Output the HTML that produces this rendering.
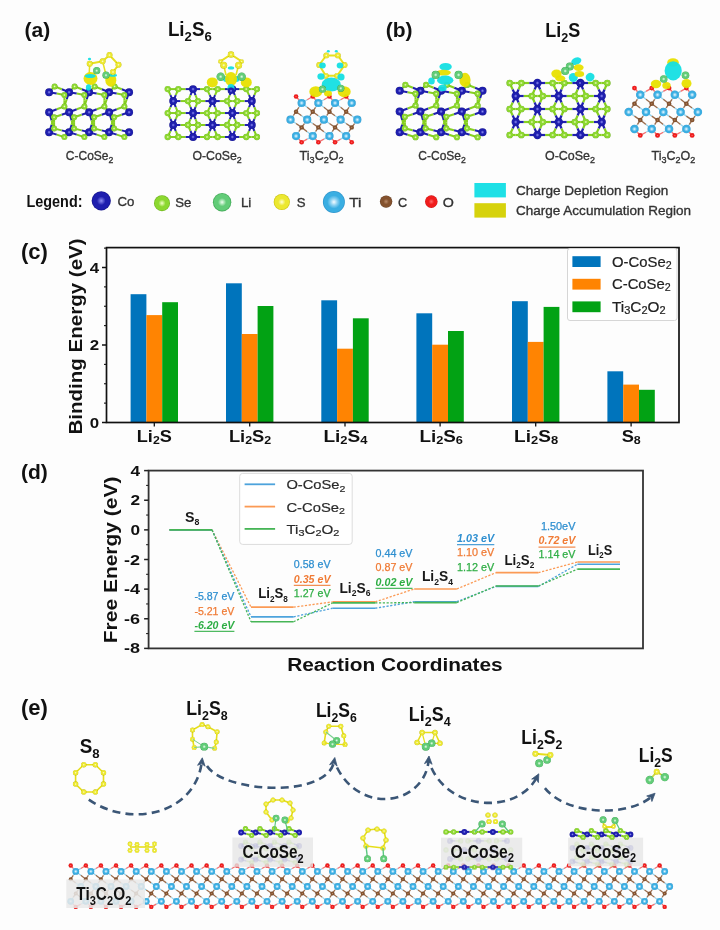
<!DOCTYPE html><html><head><meta charset="utf-8"><style>html,body{margin:0;padding:0;background:#fff;overflow:hidden}svg{display:block;filter:blur(0.4px)}</style></head><body>
<svg width="720" height="930" viewBox="0 0 720 930" font-family='"Liberation Sans", sans-serif'>
<rect width="720" height="930" fill="#fdfdfd"/>
<defs><radialGradient id="gCo" cx="0.5" cy="0.5" r="0.5"><stop offset="0" stop-color="#9090f4"/><stop offset="0.45" stop-color="#1e1eae"/><stop offset="0.85" stop-color="#1e1eae"/><stop offset="1" stop-color="#12128a"/></radialGradient><radialGradient id="gSe" cx="0.5" cy="0.5" r="0.5"><stop offset="0" stop-color="#f4ffc8"/><stop offset="0.45" stop-color="#8cd830"/><stop offset="0.85" stop-color="#8cd830"/><stop offset="1" stop-color="#66ac14"/></radialGradient><radialGradient id="gLi" cx="0.5" cy="0.5" r="0.5"><stop offset="0" stop-color="#f0fff2"/><stop offset="0.45" stop-color="#62cc78"/><stop offset="0.85" stop-color="#62cc78"/><stop offset="1" stop-color="#38a24e"/></radialGradient><radialGradient id="gS" cx="0.5" cy="0.5" r="0.5"><stop offset="0" stop-color="#ffffd8"/><stop offset="0.45" stop-color="#ece830"/><stop offset="0.85" stop-color="#ece830"/><stop offset="1" stop-color="#c4bc00"/></radialGradient><radialGradient id="gC" cx="0.5" cy="0.5" r="0.5"><stop offset="0" stop-color="#b88a68"/><stop offset="0.45" stop-color="#84522e"/><stop offset="0.85" stop-color="#84522e"/><stop offset="1" stop-color="#5a3418"/></radialGradient><radialGradient id="gO" cx="0.5" cy="0.5" r="0.5"><stop offset="0" stop-color="#ff6a6a"/><stop offset="0.45" stop-color="#f01c1c"/><stop offset="0.85" stop-color="#f01c1c"/><stop offset="1" stop-color="#c81010"/></radialGradient><radialGradient id="gTi" cx="0.5" cy="0.5" r="0.5"><stop offset="0" stop-color="#f6fcff"/><stop offset="0.3" stop-color="#8ed2f2"/><stop offset="0.6" stop-color="#3aaee2"/><stop offset="0.88" stop-color="#3aaee2"/><stop offset="1" stop-color="#2a90c8"/></radialGradient><radialGradient id="gLg" cx="0.5" cy="0.5" r="0.55"><stop offset="0" stop-color="#ffffff"/><stop offset="1" stop-color="#ffffff" stop-opacity="0"/></radialGradient></defs>
<text x="24.6" y="37.0" font-size="21" font-weight="bold" fill="#111">(a)</text>
<text x="167.90" y="35.70" font-size="19.5" font-weight="bold" fill="#111" text-anchor="start" textLength="43.80" lengthAdjust="spacingAndGlyphs" >Li<tspan font-size="13.65" dy="5.27">2</tspan><tspan dy="-5.27">S</tspan><tspan font-size="13.65" dy="5.27">6</tspan></text>
<text x="385.8" y="37.0" font-size="21" font-weight="bold" fill="#111">(b)</text>
<text x="545.20" y="36.90" font-size="19.5" font-weight="bold" fill="#111" text-anchor="start" textLength="35.00" lengthAdjust="spacingAndGlyphs" >Li<tspan font-size="13.65" dy="5.27">2</tspan><tspan dy="-5.27">S</tspan></text>
<line x1="49.10" y1="92.20" x2="51.85" y2="89.30" stroke="#2020b0" stroke-width="2.0"/><line x1="51.85" y1="89.30" x2="54.60" y2="86.40" stroke="#86d020" stroke-width="2.0"/><line x1="49.10" y1="92.20" x2="56.75" y2="93.60" stroke="#2020b0" stroke-width="2.0"/><line x1="56.75" y1="93.60" x2="64.40" y2="95.00" stroke="#86d020" stroke-width="2.0"/><line x1="69.10" y1="92.20" x2="61.85" y2="89.30" stroke="#2020b0" stroke-width="2.0"/><line x1="61.85" y1="89.30" x2="54.60" y2="86.40" stroke="#86d020" stroke-width="2.0"/><line x1="69.10" y1="92.20" x2="66.75" y2="93.60" stroke="#2020b0" stroke-width="2.0"/><line x1="66.75" y1="93.60" x2="64.40" y2="95.00" stroke="#86d020" stroke-width="2.0"/><line x1="69.10" y1="92.20" x2="66.75" y2="99.30" stroke="#2020b0" stroke-width="2.0"/><line x1="66.75" y1="99.30" x2="64.40" y2="106.40" stroke="#86d020" stroke-width="2.0"/><line x1="69.10" y1="92.20" x2="71.85" y2="89.30" stroke="#2020b0" stroke-width="2.0"/><line x1="71.85" y1="89.30" x2="74.60" y2="86.40" stroke="#86d020" stroke-width="2.0"/><line x1="69.10" y1="92.20" x2="76.75" y2="93.60" stroke="#2020b0" stroke-width="2.0"/><line x1="76.75" y1="93.60" x2="84.40" y2="95.00" stroke="#86d020" stroke-width="2.0"/><line x1="89.10" y1="92.20" x2="81.85" y2="89.30" stroke="#2020b0" stroke-width="2.0"/><line x1="81.85" y1="89.30" x2="74.60" y2="86.40" stroke="#86d020" stroke-width="2.0"/><line x1="89.10" y1="92.20" x2="86.75" y2="93.60" stroke="#2020b0" stroke-width="2.0"/><line x1="86.75" y1="93.60" x2="84.40" y2="95.00" stroke="#86d020" stroke-width="2.0"/><line x1="89.10" y1="92.20" x2="86.75" y2="99.30" stroke="#2020b0" stroke-width="2.0"/><line x1="86.75" y1="99.30" x2="84.40" y2="106.40" stroke="#86d020" stroke-width="2.0"/><line x1="89.10" y1="92.20" x2="91.85" y2="89.30" stroke="#2020b0" stroke-width="2.0"/><line x1="91.85" y1="89.30" x2="94.60" y2="86.40" stroke="#86d020" stroke-width="2.0"/><line x1="89.10" y1="92.20" x2="96.75" y2="93.60" stroke="#2020b0" stroke-width="2.0"/><line x1="96.75" y1="93.60" x2="104.40" y2="95.00" stroke="#86d020" stroke-width="2.0"/><line x1="109.10" y1="92.20" x2="101.85" y2="89.30" stroke="#2020b0" stroke-width="2.0"/><line x1="101.85" y1="89.30" x2="94.60" y2="86.40" stroke="#86d020" stroke-width="2.0"/><line x1="109.10" y1="92.20" x2="106.75" y2="93.60" stroke="#2020b0" stroke-width="2.0"/><line x1="106.75" y1="93.60" x2="104.40" y2="95.00" stroke="#86d020" stroke-width="2.0"/><line x1="109.10" y1="92.20" x2="106.75" y2="99.30" stroke="#2020b0" stroke-width="2.0"/><line x1="106.75" y1="99.30" x2="104.40" y2="106.40" stroke="#86d020" stroke-width="2.0"/><line x1="109.10" y1="92.20" x2="111.85" y2="89.30" stroke="#2020b0" stroke-width="2.0"/><line x1="111.85" y1="89.30" x2="114.60" y2="86.40" stroke="#86d020" stroke-width="2.0"/><line x1="109.10" y1="92.20" x2="116.75" y2="93.60" stroke="#2020b0" stroke-width="2.0"/><line x1="116.75" y1="93.60" x2="124.40" y2="95.00" stroke="#86d020" stroke-width="2.0"/><line x1="129.10" y1="92.20" x2="121.85" y2="89.30" stroke="#2020b0" stroke-width="2.0"/><line x1="121.85" y1="89.30" x2="114.60" y2="86.40" stroke="#86d020" stroke-width="2.0"/><line x1="129.10" y1="92.20" x2="126.75" y2="93.60" stroke="#2020b0" stroke-width="2.0"/><line x1="126.75" y1="93.60" x2="124.40" y2="95.00" stroke="#86d020" stroke-width="2.0"/><line x1="129.10" y1="92.20" x2="126.75" y2="99.30" stroke="#2020b0" stroke-width="2.0"/><line x1="126.75" y1="99.30" x2="124.40" y2="106.40" stroke="#86d020" stroke-width="2.0"/><line x1="49.10" y1="112.20" x2="56.75" y2="109.30" stroke="#2020b0" stroke-width="2.0"/><line x1="56.75" y1="109.30" x2="64.40" y2="106.40" stroke="#86d020" stroke-width="2.0"/><line x1="49.10" y1="112.20" x2="51.60" y2="114.75" stroke="#2020b0" stroke-width="2.0"/><line x1="51.60" y1="114.75" x2="54.10" y2="117.30" stroke="#86d020" stroke-width="2.0"/><line x1="49.10" y1="112.20" x2="51.60" y2="120.35" stroke="#2020b0" stroke-width="2.0"/><line x1="51.60" y1="120.35" x2="54.10" y2="128.50" stroke="#86d020" stroke-width="2.0"/><line x1="69.10" y1="112.20" x2="66.75" y2="109.30" stroke="#2020b0" stroke-width="2.0"/><line x1="66.75" y1="109.30" x2="64.40" y2="106.40" stroke="#86d020" stroke-width="2.0"/><line x1="69.10" y1="112.20" x2="61.60" y2="114.75" stroke="#2020b0" stroke-width="2.0"/><line x1="61.60" y1="114.75" x2="54.10" y2="117.30" stroke="#86d020" stroke-width="2.0"/><line x1="69.10" y1="112.20" x2="76.75" y2="109.30" stroke="#2020b0" stroke-width="2.0"/><line x1="76.75" y1="109.30" x2="84.40" y2="106.40" stroke="#86d020" stroke-width="2.0"/><line x1="69.10" y1="112.20" x2="71.60" y2="114.75" stroke="#2020b0" stroke-width="2.0"/><line x1="71.60" y1="114.75" x2="74.10" y2="117.30" stroke="#86d020" stroke-width="2.0"/><line x1="69.10" y1="112.20" x2="71.60" y2="120.35" stroke="#2020b0" stroke-width="2.0"/><line x1="71.60" y1="120.35" x2="74.10" y2="128.50" stroke="#86d020" stroke-width="2.0"/><line x1="89.10" y1="112.20" x2="86.75" y2="109.30" stroke="#2020b0" stroke-width="2.0"/><line x1="86.75" y1="109.30" x2="84.40" y2="106.40" stroke="#86d020" stroke-width="2.0"/><line x1="89.10" y1="112.20" x2="81.60" y2="114.75" stroke="#2020b0" stroke-width="2.0"/><line x1="81.60" y1="114.75" x2="74.10" y2="117.30" stroke="#86d020" stroke-width="2.0"/><line x1="89.10" y1="112.20" x2="96.75" y2="109.30" stroke="#2020b0" stroke-width="2.0"/><line x1="96.75" y1="109.30" x2="104.40" y2="106.40" stroke="#86d020" stroke-width="2.0"/><line x1="89.10" y1="112.20" x2="91.60" y2="114.75" stroke="#2020b0" stroke-width="2.0"/><line x1="91.60" y1="114.75" x2="94.10" y2="117.30" stroke="#86d020" stroke-width="2.0"/><line x1="89.10" y1="112.20" x2="91.60" y2="120.35" stroke="#2020b0" stroke-width="2.0"/><line x1="91.60" y1="120.35" x2="94.10" y2="128.50" stroke="#86d020" stroke-width="2.0"/><line x1="109.10" y1="112.20" x2="106.75" y2="109.30" stroke="#2020b0" stroke-width="2.0"/><line x1="106.75" y1="109.30" x2="104.40" y2="106.40" stroke="#86d020" stroke-width="2.0"/><line x1="109.10" y1="112.20" x2="101.60" y2="114.75" stroke="#2020b0" stroke-width="2.0"/><line x1="101.60" y1="114.75" x2="94.10" y2="117.30" stroke="#86d020" stroke-width="2.0"/><line x1="109.10" y1="112.20" x2="116.75" y2="109.30" stroke="#2020b0" stroke-width="2.0"/><line x1="116.75" y1="109.30" x2="124.40" y2="106.40" stroke="#86d020" stroke-width="2.0"/><line x1="109.10" y1="112.20" x2="111.60" y2="114.75" stroke="#2020b0" stroke-width="2.0"/><line x1="111.60" y1="114.75" x2="114.10" y2="117.30" stroke="#86d020" stroke-width="2.0"/><line x1="109.10" y1="112.20" x2="111.60" y2="120.35" stroke="#2020b0" stroke-width="2.0"/><line x1="111.60" y1="120.35" x2="114.10" y2="128.50" stroke="#86d020" stroke-width="2.0"/><line x1="129.10" y1="112.20" x2="126.75" y2="109.30" stroke="#2020b0" stroke-width="2.0"/><line x1="126.75" y1="109.30" x2="124.40" y2="106.40" stroke="#86d020" stroke-width="2.0"/><line x1="129.10" y1="112.20" x2="121.60" y2="114.75" stroke="#2020b0" stroke-width="2.0"/><line x1="121.60" y1="114.75" x2="114.10" y2="117.30" stroke="#86d020" stroke-width="2.0"/><line x1="49.10" y1="132.20" x2="51.60" y2="124.75" stroke="#2020b0" stroke-width="2.0"/><line x1="51.60" y1="124.75" x2="54.10" y2="117.30" stroke="#86d020" stroke-width="2.0"/><line x1="49.10" y1="132.20" x2="51.60" y2="130.35" stroke="#2020b0" stroke-width="2.0"/><line x1="51.60" y1="130.35" x2="54.10" y2="128.50" stroke="#86d020" stroke-width="2.0"/><line x1="49.10" y1="132.20" x2="56.75" y2="134.65" stroke="#2020b0" stroke-width="2.0"/><line x1="56.75" y1="134.65" x2="64.40" y2="137.10" stroke="#86d020" stroke-width="2.0"/><line x1="69.10" y1="132.20" x2="61.60" y2="130.35" stroke="#2020b0" stroke-width="2.0"/><line x1="61.60" y1="130.35" x2="54.10" y2="128.50" stroke="#86d020" stroke-width="2.0"/><line x1="69.10" y1="132.20" x2="66.75" y2="134.65" stroke="#2020b0" stroke-width="2.0"/><line x1="66.75" y1="134.65" x2="64.40" y2="137.10" stroke="#86d020" stroke-width="2.0"/><line x1="69.10" y1="132.20" x2="71.60" y2="124.75" stroke="#2020b0" stroke-width="2.0"/><line x1="71.60" y1="124.75" x2="74.10" y2="117.30" stroke="#86d020" stroke-width="2.0"/><line x1="69.10" y1="132.20" x2="71.60" y2="130.35" stroke="#2020b0" stroke-width="2.0"/><line x1="71.60" y1="130.35" x2="74.10" y2="128.50" stroke="#86d020" stroke-width="2.0"/><line x1="69.10" y1="132.20" x2="76.75" y2="134.65" stroke="#2020b0" stroke-width="2.0"/><line x1="76.75" y1="134.65" x2="84.40" y2="137.10" stroke="#86d020" stroke-width="2.0"/><line x1="89.10" y1="132.20" x2="81.60" y2="130.35" stroke="#2020b0" stroke-width="2.0"/><line x1="81.60" y1="130.35" x2="74.10" y2="128.50" stroke="#86d020" stroke-width="2.0"/><line x1="89.10" y1="132.20" x2="86.75" y2="134.65" stroke="#2020b0" stroke-width="2.0"/><line x1="86.75" y1="134.65" x2="84.40" y2="137.10" stroke="#86d020" stroke-width="2.0"/><line x1="89.10" y1="132.20" x2="91.60" y2="124.75" stroke="#2020b0" stroke-width="2.0"/><line x1="91.60" y1="124.75" x2="94.10" y2="117.30" stroke="#86d020" stroke-width="2.0"/><line x1="89.10" y1="132.20" x2="91.60" y2="130.35" stroke="#2020b0" stroke-width="2.0"/><line x1="91.60" y1="130.35" x2="94.10" y2="128.50" stroke="#86d020" stroke-width="2.0"/><line x1="89.10" y1="132.20" x2="96.75" y2="134.65" stroke="#2020b0" stroke-width="2.0"/><line x1="96.75" y1="134.65" x2="104.40" y2="137.10" stroke="#86d020" stroke-width="2.0"/><line x1="109.10" y1="132.20" x2="101.60" y2="130.35" stroke="#2020b0" stroke-width="2.0"/><line x1="101.60" y1="130.35" x2="94.10" y2="128.50" stroke="#86d020" stroke-width="2.0"/><line x1="109.10" y1="132.20" x2="106.75" y2="134.65" stroke="#2020b0" stroke-width="2.0"/><line x1="106.75" y1="134.65" x2="104.40" y2="137.10" stroke="#86d020" stroke-width="2.0"/><line x1="109.10" y1="132.20" x2="111.60" y2="124.75" stroke="#2020b0" stroke-width="2.0"/><line x1="111.60" y1="124.75" x2="114.10" y2="117.30" stroke="#86d020" stroke-width="2.0"/><line x1="109.10" y1="132.20" x2="111.60" y2="130.35" stroke="#2020b0" stroke-width="2.0"/><line x1="111.60" y1="130.35" x2="114.10" y2="128.50" stroke="#86d020" stroke-width="2.0"/><line x1="109.10" y1="132.20" x2="116.75" y2="134.65" stroke="#2020b0" stroke-width="2.0"/><line x1="116.75" y1="134.65" x2="124.40" y2="137.10" stroke="#86d020" stroke-width="2.0"/><line x1="129.10" y1="132.20" x2="121.60" y2="130.35" stroke="#2020b0" stroke-width="2.0"/><line x1="121.60" y1="130.35" x2="114.10" y2="128.50" stroke="#86d020" stroke-width="2.0"/><line x1="129.10" y1="132.20" x2="126.75" y2="134.65" stroke="#2020b0" stroke-width="2.0"/><line x1="126.75" y1="134.65" x2="124.40" y2="137.10" stroke="#86d020" stroke-width="2.0"/><line x1="64.40" y1="95.00" x2="64.40" y2="100.70" stroke="#86d020" stroke-width="2.0"/><line x1="64.40" y1="100.70" x2="64.40" y2="106.40" stroke="#86d020" stroke-width="2.0"/><line x1="54.10" y1="117.30" x2="54.10" y2="122.90" stroke="#86d020" stroke-width="2.0"/><line x1="54.10" y1="122.90" x2="54.10" y2="128.50" stroke="#86d020" stroke-width="2.0"/><line x1="84.40" y1="95.00" x2="84.40" y2="100.70" stroke="#86d020" stroke-width="2.0"/><line x1="84.40" y1="100.70" x2="84.40" y2="106.40" stroke="#86d020" stroke-width="2.0"/><line x1="74.10" y1="117.30" x2="74.10" y2="122.90" stroke="#86d020" stroke-width="2.0"/><line x1="74.10" y1="122.90" x2="74.10" y2="128.50" stroke="#86d020" stroke-width="2.0"/><line x1="104.40" y1="95.00" x2="104.40" y2="100.70" stroke="#86d020" stroke-width="2.0"/><line x1="104.40" y1="100.70" x2="104.40" y2="106.40" stroke="#86d020" stroke-width="2.0"/><line x1="94.10" y1="117.30" x2="94.10" y2="122.90" stroke="#86d020" stroke-width="2.0"/><line x1="94.10" y1="122.90" x2="94.10" y2="128.50" stroke="#86d020" stroke-width="2.0"/><line x1="124.40" y1="95.00" x2="124.40" y2="100.70" stroke="#86d020" stroke-width="2.0"/><line x1="124.40" y1="100.70" x2="124.40" y2="106.40" stroke="#86d020" stroke-width="2.0"/><line x1="114.10" y1="117.30" x2="114.10" y2="122.90" stroke="#86d020" stroke-width="2.0"/><line x1="114.10" y1="122.90" x2="114.10" y2="128.50" stroke="#86d020" stroke-width="2.0"/><circle cx="49.10" cy="92.20" r="3.95" fill="url(#gCo)"/><circle cx="69.10" cy="92.20" r="3.95" fill="url(#gCo)"/><circle cx="89.10" cy="92.20" r="3.95" fill="url(#gCo)"/><circle cx="109.10" cy="92.20" r="3.95" fill="url(#gCo)"/><circle cx="129.10" cy="92.20" r="3.95" fill="url(#gCo)"/><circle cx="49.10" cy="112.20" r="3.95" fill="url(#gCo)"/><circle cx="69.10" cy="112.20" r="3.95" fill="url(#gCo)"/><circle cx="89.10" cy="112.20" r="3.95" fill="url(#gCo)"/><circle cx="109.10" cy="112.20" r="3.95" fill="url(#gCo)"/><circle cx="129.10" cy="112.20" r="3.95" fill="url(#gCo)"/><circle cx="49.10" cy="132.20" r="3.95" fill="url(#gCo)"/><circle cx="69.10" cy="132.20" r="3.95" fill="url(#gCo)"/><circle cx="89.10" cy="132.20" r="3.95" fill="url(#gCo)"/><circle cx="109.10" cy="132.20" r="3.95" fill="url(#gCo)"/><circle cx="129.10" cy="132.20" r="3.95" fill="url(#gCo)"/><circle cx="54.60" cy="86.40" r="3.00" fill="url(#gSe)"/><circle cx="64.40" cy="95.00" r="3.00" fill="url(#gSe)"/><circle cx="64.40" cy="106.40" r="3.00" fill="url(#gSe)"/><circle cx="54.10" cy="117.30" r="3.00" fill="url(#gSe)"/><circle cx="54.10" cy="128.50" r="3.00" fill="url(#gSe)"/><circle cx="64.40" cy="137.10" r="3.00" fill="url(#gSe)"/><circle cx="74.60" cy="86.40" r="3.00" fill="url(#gSe)"/><circle cx="84.40" cy="95.00" r="3.00" fill="url(#gSe)"/><circle cx="84.40" cy="106.40" r="3.00" fill="url(#gSe)"/><circle cx="74.10" cy="117.30" r="3.00" fill="url(#gSe)"/><circle cx="74.10" cy="128.50" r="3.00" fill="url(#gSe)"/><circle cx="84.40" cy="137.10" r="3.00" fill="url(#gSe)"/><circle cx="94.60" cy="86.40" r="3.00" fill="url(#gSe)"/><circle cx="104.40" cy="95.00" r="3.00" fill="url(#gSe)"/><circle cx="104.40" cy="106.40" r="3.00" fill="url(#gSe)"/><circle cx="94.10" cy="117.30" r="3.00" fill="url(#gSe)"/><circle cx="94.10" cy="128.50" r="3.00" fill="url(#gSe)"/><circle cx="104.40" cy="137.10" r="3.00" fill="url(#gSe)"/><circle cx="114.60" cy="86.40" r="3.00" fill="url(#gSe)"/><circle cx="124.40" cy="95.00" r="3.00" fill="url(#gSe)"/><circle cx="124.40" cy="106.40" r="3.00" fill="url(#gSe)"/><circle cx="114.10" cy="117.30" r="3.00" fill="url(#gSe)"/><circle cx="114.10" cy="128.50" r="3.00" fill="url(#gSe)"/><circle cx="124.40" cy="137.10" r="3.00" fill="url(#gSe)"/>
<line x1="399.70" y1="90.80" x2="402.55" y2="87.80" stroke="#2020b0" stroke-width="2.1"/><line x1="402.55" y1="87.80" x2="405.39" y2="84.80" stroke="#86d020" stroke-width="2.1"/><line x1="399.70" y1="90.80" x2="407.62" y2="92.25" stroke="#2020b0" stroke-width="2.1"/><line x1="407.62" y1="92.25" x2="415.54" y2="93.70" stroke="#86d020" stroke-width="2.1"/><line x1="420.40" y1="90.80" x2="412.90" y2="87.80" stroke="#2020b0" stroke-width="2.1"/><line x1="412.90" y1="87.80" x2="405.39" y2="84.80" stroke="#86d020" stroke-width="2.1"/><line x1="420.40" y1="90.80" x2="417.97" y2="92.25" stroke="#2020b0" stroke-width="2.1"/><line x1="417.97" y1="92.25" x2="415.54" y2="93.70" stroke="#86d020" stroke-width="2.1"/><line x1="420.40" y1="90.80" x2="417.97" y2="98.15" stroke="#2020b0" stroke-width="2.1"/><line x1="417.97" y1="98.15" x2="415.54" y2="105.50" stroke="#86d020" stroke-width="2.1"/><line x1="420.40" y1="90.80" x2="423.25" y2="87.80" stroke="#2020b0" stroke-width="2.1"/><line x1="423.25" y1="87.80" x2="426.09" y2="84.80" stroke="#86d020" stroke-width="2.1"/><line x1="420.40" y1="90.80" x2="428.32" y2="92.25" stroke="#2020b0" stroke-width="2.1"/><line x1="428.32" y1="92.25" x2="436.24" y2="93.70" stroke="#86d020" stroke-width="2.1"/><line x1="441.10" y1="90.80" x2="433.60" y2="87.80" stroke="#2020b0" stroke-width="2.1"/><line x1="433.60" y1="87.80" x2="426.09" y2="84.80" stroke="#86d020" stroke-width="2.1"/><line x1="441.10" y1="90.80" x2="438.67" y2="92.25" stroke="#2020b0" stroke-width="2.1"/><line x1="438.67" y1="92.25" x2="436.24" y2="93.70" stroke="#86d020" stroke-width="2.1"/><line x1="441.10" y1="90.80" x2="438.67" y2="98.15" stroke="#2020b0" stroke-width="2.1"/><line x1="438.67" y1="98.15" x2="436.24" y2="105.50" stroke="#86d020" stroke-width="2.1"/><line x1="441.10" y1="90.80" x2="443.95" y2="87.80" stroke="#2020b0" stroke-width="2.1"/><line x1="443.95" y1="87.80" x2="446.79" y2="84.80" stroke="#86d020" stroke-width="2.1"/><line x1="441.10" y1="90.80" x2="449.02" y2="92.25" stroke="#2020b0" stroke-width="2.1"/><line x1="449.02" y1="92.25" x2="456.94" y2="93.70" stroke="#86d020" stroke-width="2.1"/><line x1="461.80" y1="90.80" x2="454.30" y2="87.80" stroke="#2020b0" stroke-width="2.1"/><line x1="454.30" y1="87.80" x2="446.79" y2="84.80" stroke="#86d020" stroke-width="2.1"/><line x1="461.80" y1="90.80" x2="459.37" y2="92.25" stroke="#2020b0" stroke-width="2.1"/><line x1="459.37" y1="92.25" x2="456.94" y2="93.70" stroke="#86d020" stroke-width="2.1"/><line x1="461.80" y1="90.80" x2="459.37" y2="98.15" stroke="#2020b0" stroke-width="2.1"/><line x1="459.37" y1="98.15" x2="456.94" y2="105.50" stroke="#86d020" stroke-width="2.1"/><line x1="461.80" y1="90.80" x2="464.65" y2="87.80" stroke="#2020b0" stroke-width="2.1"/><line x1="464.65" y1="87.80" x2="467.49" y2="84.80" stroke="#86d020" stroke-width="2.1"/><line x1="461.80" y1="90.80" x2="469.72" y2="92.25" stroke="#2020b0" stroke-width="2.1"/><line x1="469.72" y1="92.25" x2="477.64" y2="93.70" stroke="#86d020" stroke-width="2.1"/><line x1="482.50" y1="90.80" x2="475.00" y2="87.80" stroke="#2020b0" stroke-width="2.1"/><line x1="475.00" y1="87.80" x2="467.49" y2="84.80" stroke="#86d020" stroke-width="2.1"/><line x1="482.50" y1="90.80" x2="480.07" y2="92.25" stroke="#2020b0" stroke-width="2.1"/><line x1="480.07" y1="92.25" x2="477.64" y2="93.70" stroke="#86d020" stroke-width="2.1"/><line x1="482.50" y1="90.80" x2="480.07" y2="98.15" stroke="#2020b0" stroke-width="2.1"/><line x1="480.07" y1="98.15" x2="477.64" y2="105.50" stroke="#86d020" stroke-width="2.1"/><line x1="399.70" y1="111.50" x2="407.62" y2="108.50" stroke="#2020b0" stroke-width="2.1"/><line x1="407.62" y1="108.50" x2="415.54" y2="105.50" stroke="#86d020" stroke-width="2.1"/><line x1="399.70" y1="111.50" x2="402.29" y2="114.14" stroke="#2020b0" stroke-width="2.1"/><line x1="402.29" y1="114.14" x2="404.88" y2="116.78" stroke="#86d020" stroke-width="2.1"/><line x1="399.70" y1="111.50" x2="402.29" y2="119.94" stroke="#2020b0" stroke-width="2.1"/><line x1="402.29" y1="119.94" x2="404.88" y2="128.37" stroke="#86d020" stroke-width="2.1"/><line x1="420.40" y1="111.50" x2="417.97" y2="108.50" stroke="#2020b0" stroke-width="2.1"/><line x1="417.97" y1="108.50" x2="415.54" y2="105.50" stroke="#86d020" stroke-width="2.1"/><line x1="420.40" y1="111.50" x2="412.64" y2="114.14" stroke="#2020b0" stroke-width="2.1"/><line x1="412.64" y1="114.14" x2="404.88" y2="116.78" stroke="#86d020" stroke-width="2.1"/><line x1="420.40" y1="111.50" x2="428.32" y2="108.50" stroke="#2020b0" stroke-width="2.1"/><line x1="428.32" y1="108.50" x2="436.24" y2="105.50" stroke="#86d020" stroke-width="2.1"/><line x1="420.40" y1="111.50" x2="422.99" y2="114.14" stroke="#2020b0" stroke-width="2.1"/><line x1="422.99" y1="114.14" x2="425.57" y2="116.78" stroke="#86d020" stroke-width="2.1"/><line x1="420.40" y1="111.50" x2="422.99" y2="119.94" stroke="#2020b0" stroke-width="2.1"/><line x1="422.99" y1="119.94" x2="425.57" y2="128.37" stroke="#86d020" stroke-width="2.1"/><line x1="441.10" y1="111.50" x2="438.67" y2="108.50" stroke="#2020b0" stroke-width="2.1"/><line x1="438.67" y1="108.50" x2="436.24" y2="105.50" stroke="#86d020" stroke-width="2.1"/><line x1="441.10" y1="111.50" x2="433.34" y2="114.14" stroke="#2020b0" stroke-width="2.1"/><line x1="433.34" y1="114.14" x2="425.57" y2="116.78" stroke="#86d020" stroke-width="2.1"/><line x1="441.10" y1="111.50" x2="449.02" y2="108.50" stroke="#2020b0" stroke-width="2.1"/><line x1="449.02" y1="108.50" x2="456.94" y2="105.50" stroke="#86d020" stroke-width="2.1"/><line x1="441.10" y1="111.50" x2="443.69" y2="114.14" stroke="#2020b0" stroke-width="2.1"/><line x1="443.69" y1="114.14" x2="446.27" y2="116.78" stroke="#86d020" stroke-width="2.1"/><line x1="441.10" y1="111.50" x2="443.69" y2="119.94" stroke="#2020b0" stroke-width="2.1"/><line x1="443.69" y1="119.94" x2="446.27" y2="128.37" stroke="#86d020" stroke-width="2.1"/><line x1="461.80" y1="111.50" x2="459.37" y2="108.50" stroke="#2020b0" stroke-width="2.1"/><line x1="459.37" y1="108.50" x2="456.94" y2="105.50" stroke="#86d020" stroke-width="2.1"/><line x1="461.80" y1="111.50" x2="454.04" y2="114.14" stroke="#2020b0" stroke-width="2.1"/><line x1="454.04" y1="114.14" x2="446.27" y2="116.78" stroke="#86d020" stroke-width="2.1"/><line x1="461.80" y1="111.50" x2="469.72" y2="108.50" stroke="#2020b0" stroke-width="2.1"/><line x1="469.72" y1="108.50" x2="477.64" y2="105.50" stroke="#86d020" stroke-width="2.1"/><line x1="461.80" y1="111.50" x2="464.39" y2="114.14" stroke="#2020b0" stroke-width="2.1"/><line x1="464.39" y1="114.14" x2="466.97" y2="116.78" stroke="#86d020" stroke-width="2.1"/><line x1="461.80" y1="111.50" x2="464.39" y2="119.94" stroke="#2020b0" stroke-width="2.1"/><line x1="464.39" y1="119.94" x2="466.97" y2="128.37" stroke="#86d020" stroke-width="2.1"/><line x1="482.50" y1="111.50" x2="480.07" y2="108.50" stroke="#2020b0" stroke-width="2.1"/><line x1="480.07" y1="108.50" x2="477.64" y2="105.50" stroke="#86d020" stroke-width="2.1"/><line x1="482.50" y1="111.50" x2="474.74" y2="114.14" stroke="#2020b0" stroke-width="2.1"/><line x1="474.74" y1="114.14" x2="466.97" y2="116.78" stroke="#86d020" stroke-width="2.1"/><line x1="399.70" y1="132.20" x2="402.29" y2="124.49" stroke="#2020b0" stroke-width="2.1"/><line x1="402.29" y1="124.49" x2="404.88" y2="116.78" stroke="#86d020" stroke-width="2.1"/><line x1="399.70" y1="132.20" x2="402.29" y2="130.29" stroke="#2020b0" stroke-width="2.1"/><line x1="402.29" y1="130.29" x2="404.88" y2="128.37" stroke="#86d020" stroke-width="2.1"/><line x1="399.70" y1="132.20" x2="407.62" y2="134.74" stroke="#2020b0" stroke-width="2.1"/><line x1="407.62" y1="134.74" x2="415.54" y2="137.27" stroke="#86d020" stroke-width="2.1"/><line x1="420.40" y1="132.20" x2="412.64" y2="130.29" stroke="#2020b0" stroke-width="2.1"/><line x1="412.64" y1="130.29" x2="404.88" y2="128.37" stroke="#86d020" stroke-width="2.1"/><line x1="420.40" y1="132.20" x2="417.97" y2="134.74" stroke="#2020b0" stroke-width="2.1"/><line x1="417.97" y1="134.74" x2="415.54" y2="137.27" stroke="#86d020" stroke-width="2.1"/><line x1="420.40" y1="132.20" x2="422.99" y2="124.49" stroke="#2020b0" stroke-width="2.1"/><line x1="422.99" y1="124.49" x2="425.57" y2="116.78" stroke="#86d020" stroke-width="2.1"/><line x1="420.40" y1="132.20" x2="422.99" y2="130.29" stroke="#2020b0" stroke-width="2.1"/><line x1="422.99" y1="130.29" x2="425.57" y2="128.37" stroke="#86d020" stroke-width="2.1"/><line x1="420.40" y1="132.20" x2="428.32" y2="134.74" stroke="#2020b0" stroke-width="2.1"/><line x1="428.32" y1="134.74" x2="436.24" y2="137.27" stroke="#86d020" stroke-width="2.1"/><line x1="441.10" y1="132.20" x2="433.34" y2="130.29" stroke="#2020b0" stroke-width="2.1"/><line x1="433.34" y1="130.29" x2="425.57" y2="128.37" stroke="#86d020" stroke-width="2.1"/><line x1="441.10" y1="132.20" x2="438.67" y2="134.74" stroke="#2020b0" stroke-width="2.1"/><line x1="438.67" y1="134.74" x2="436.24" y2="137.27" stroke="#86d020" stroke-width="2.1"/><line x1="441.10" y1="132.20" x2="443.69" y2="124.49" stroke="#2020b0" stroke-width="2.1"/><line x1="443.69" y1="124.49" x2="446.27" y2="116.78" stroke="#86d020" stroke-width="2.1"/><line x1="441.10" y1="132.20" x2="443.69" y2="130.29" stroke="#2020b0" stroke-width="2.1"/><line x1="443.69" y1="130.29" x2="446.27" y2="128.37" stroke="#86d020" stroke-width="2.1"/><line x1="441.10" y1="132.20" x2="449.02" y2="134.74" stroke="#2020b0" stroke-width="2.1"/><line x1="449.02" y1="134.74" x2="456.94" y2="137.27" stroke="#86d020" stroke-width="2.1"/><line x1="461.80" y1="132.20" x2="454.04" y2="130.29" stroke="#2020b0" stroke-width="2.1"/><line x1="454.04" y1="130.29" x2="446.27" y2="128.37" stroke="#86d020" stroke-width="2.1"/><line x1="461.80" y1="132.20" x2="459.37" y2="134.74" stroke="#2020b0" stroke-width="2.1"/><line x1="459.37" y1="134.74" x2="456.94" y2="137.27" stroke="#86d020" stroke-width="2.1"/><line x1="461.80" y1="132.20" x2="464.39" y2="124.49" stroke="#2020b0" stroke-width="2.1"/><line x1="464.39" y1="124.49" x2="466.97" y2="116.78" stroke="#86d020" stroke-width="2.1"/><line x1="461.80" y1="132.20" x2="464.39" y2="130.29" stroke="#2020b0" stroke-width="2.1"/><line x1="464.39" y1="130.29" x2="466.97" y2="128.37" stroke="#86d020" stroke-width="2.1"/><line x1="461.80" y1="132.20" x2="469.72" y2="134.74" stroke="#2020b0" stroke-width="2.1"/><line x1="469.72" y1="134.74" x2="477.64" y2="137.27" stroke="#86d020" stroke-width="2.1"/><line x1="482.50" y1="132.20" x2="474.74" y2="130.29" stroke="#2020b0" stroke-width="2.1"/><line x1="474.74" y1="130.29" x2="466.97" y2="128.37" stroke="#86d020" stroke-width="2.1"/><line x1="482.50" y1="132.20" x2="480.07" y2="134.74" stroke="#2020b0" stroke-width="2.1"/><line x1="480.07" y1="134.74" x2="477.64" y2="137.27" stroke="#86d020" stroke-width="2.1"/><line x1="415.54" y1="93.70" x2="415.54" y2="99.60" stroke="#86d020" stroke-width="2.1"/><line x1="415.54" y1="99.60" x2="415.54" y2="105.50" stroke="#86d020" stroke-width="2.1"/><line x1="404.88" y1="116.78" x2="404.88" y2="122.57" stroke="#86d020" stroke-width="2.1"/><line x1="404.88" y1="122.57" x2="404.88" y2="128.37" stroke="#86d020" stroke-width="2.1"/><line x1="436.24" y1="93.70" x2="436.24" y2="99.60" stroke="#86d020" stroke-width="2.1"/><line x1="436.24" y1="99.60" x2="436.24" y2="105.50" stroke="#86d020" stroke-width="2.1"/><line x1="425.57" y1="116.78" x2="425.57" y2="122.57" stroke="#86d020" stroke-width="2.1"/><line x1="425.57" y1="122.57" x2="425.57" y2="128.37" stroke="#86d020" stroke-width="2.1"/><line x1="456.94" y1="93.70" x2="456.94" y2="99.60" stroke="#86d020" stroke-width="2.1"/><line x1="456.94" y1="99.60" x2="456.94" y2="105.50" stroke="#86d020" stroke-width="2.1"/><line x1="446.27" y1="116.78" x2="446.27" y2="122.57" stroke="#86d020" stroke-width="2.1"/><line x1="446.27" y1="122.57" x2="446.27" y2="128.37" stroke="#86d020" stroke-width="2.1"/><line x1="477.64" y1="93.70" x2="477.64" y2="99.60" stroke="#86d020" stroke-width="2.1"/><line x1="477.64" y1="99.60" x2="477.64" y2="105.50" stroke="#86d020" stroke-width="2.1"/><line x1="466.97" y1="116.78" x2="466.97" y2="122.57" stroke="#86d020" stroke-width="2.1"/><line x1="466.97" y1="122.57" x2="466.97" y2="128.37" stroke="#86d020" stroke-width="2.1"/><circle cx="399.70" cy="90.80" r="4.05" fill="url(#gCo)"/><circle cx="420.40" cy="90.80" r="4.05" fill="url(#gCo)"/><circle cx="441.10" cy="90.80" r="4.05" fill="url(#gCo)"/><circle cx="461.80" cy="90.80" r="4.05" fill="url(#gCo)"/><circle cx="482.50" cy="90.80" r="4.05" fill="url(#gCo)"/><circle cx="399.70" cy="111.50" r="4.05" fill="url(#gCo)"/><circle cx="420.40" cy="111.50" r="4.05" fill="url(#gCo)"/><circle cx="441.10" cy="111.50" r="4.05" fill="url(#gCo)"/><circle cx="461.80" cy="111.50" r="4.05" fill="url(#gCo)"/><circle cx="482.50" cy="111.50" r="4.05" fill="url(#gCo)"/><circle cx="399.70" cy="132.20" r="4.05" fill="url(#gCo)"/><circle cx="420.40" cy="132.20" r="4.05" fill="url(#gCo)"/><circle cx="441.10" cy="132.20" r="4.05" fill="url(#gCo)"/><circle cx="461.80" cy="132.20" r="4.05" fill="url(#gCo)"/><circle cx="482.50" cy="132.20" r="4.05" fill="url(#gCo)"/><circle cx="405.39" cy="84.80" r="3.10" fill="url(#gSe)"/><circle cx="415.54" cy="93.70" r="3.10" fill="url(#gSe)"/><circle cx="415.54" cy="105.50" r="3.10" fill="url(#gSe)"/><circle cx="404.88" cy="116.78" r="3.10" fill="url(#gSe)"/><circle cx="404.88" cy="128.37" r="3.10" fill="url(#gSe)"/><circle cx="415.54" cy="137.27" r="3.10" fill="url(#gSe)"/><circle cx="426.09" cy="84.80" r="3.10" fill="url(#gSe)"/><circle cx="436.24" cy="93.70" r="3.10" fill="url(#gSe)"/><circle cx="436.24" cy="105.50" r="3.10" fill="url(#gSe)"/><circle cx="425.57" cy="116.78" r="3.10" fill="url(#gSe)"/><circle cx="425.57" cy="128.37" r="3.10" fill="url(#gSe)"/><circle cx="436.24" cy="137.27" r="3.10" fill="url(#gSe)"/><circle cx="446.79" cy="84.80" r="3.10" fill="url(#gSe)"/><circle cx="456.94" cy="93.70" r="3.10" fill="url(#gSe)"/><circle cx="456.94" cy="105.50" r="3.10" fill="url(#gSe)"/><circle cx="446.27" cy="116.78" r="3.10" fill="url(#gSe)"/><circle cx="446.27" cy="128.37" r="3.10" fill="url(#gSe)"/><circle cx="456.94" cy="137.27" r="3.10" fill="url(#gSe)"/><circle cx="467.49" cy="84.80" r="3.10" fill="url(#gSe)"/><circle cx="477.64" cy="93.70" r="3.10" fill="url(#gSe)"/><circle cx="477.64" cy="105.50" r="3.10" fill="url(#gSe)"/><circle cx="466.97" cy="116.78" r="3.10" fill="url(#gSe)"/><circle cx="466.97" cy="128.37" r="3.10" fill="url(#gSe)"/><circle cx="477.64" cy="137.27" r="3.10" fill="url(#gSe)"/>
<line x1="167.70" y1="89.10" x2="173.01" y2="89.10" stroke="#86d020" stroke-width="2.0"/><line x1="173.01" y1="89.10" x2="178.31" y2="89.10" stroke="#86d020" stroke-width="2.0"/><line x1="167.70" y1="89.10" x2="170.45" y2="95.08" stroke="#86d020" stroke-width="2.0"/><line x1="170.45" y1="95.08" x2="173.20" y2="101.07" stroke="#2020b0" stroke-width="2.0"/><line x1="178.31" y1="89.10" x2="185.68" y2="89.10" stroke="#86d020" stroke-width="2.0"/><line x1="185.68" y1="89.10" x2="193.05" y2="89.10" stroke="#2020b0" stroke-width="2.0"/><line x1="178.31" y1="89.10" x2="175.76" y2="95.08" stroke="#86d020" stroke-width="2.0"/><line x1="175.76" y1="95.08" x2="173.20" y2="101.07" stroke="#2020b0" stroke-width="2.0"/><line x1="207.00" y1="89.10" x2="212.31" y2="89.10" stroke="#86d020" stroke-width="2.0"/><line x1="212.31" y1="89.10" x2="217.61" y2="89.10" stroke="#86d020" stroke-width="2.0"/><line x1="207.00" y1="89.10" x2="200.02" y2="89.10" stroke="#86d020" stroke-width="2.0"/><line x1="200.02" y1="89.10" x2="193.05" y2="89.10" stroke="#2020b0" stroke-width="2.0"/><line x1="207.00" y1="89.10" x2="209.75" y2="95.08" stroke="#86d020" stroke-width="2.0"/><line x1="209.75" y1="95.08" x2="212.50" y2="101.07" stroke="#2020b0" stroke-width="2.0"/><line x1="217.61" y1="89.10" x2="224.98" y2="89.10" stroke="#86d020" stroke-width="2.0"/><line x1="224.98" y1="89.10" x2="232.35" y2="89.10" stroke="#2020b0" stroke-width="2.0"/><line x1="217.61" y1="89.10" x2="215.06" y2="95.08" stroke="#86d020" stroke-width="2.0"/><line x1="215.06" y1="95.08" x2="212.50" y2="101.07" stroke="#2020b0" stroke-width="2.0"/><line x1="246.30" y1="89.10" x2="251.61" y2="89.10" stroke="#86d020" stroke-width="2.0"/><line x1="251.61" y1="89.10" x2="256.91" y2="89.10" stroke="#86d020" stroke-width="2.0"/><line x1="246.30" y1="89.10" x2="239.32" y2="89.10" stroke="#86d020" stroke-width="2.0"/><line x1="239.32" y1="89.10" x2="232.35" y2="89.10" stroke="#2020b0" stroke-width="2.0"/><line x1="246.30" y1="89.10" x2="249.05" y2="95.08" stroke="#86d020" stroke-width="2.0"/><line x1="249.05" y1="95.08" x2="251.80" y2="101.07" stroke="#2020b0" stroke-width="2.0"/><line x1="256.91" y1="89.10" x2="254.36" y2="95.08" stroke="#86d020" stroke-width="2.0"/><line x1="254.36" y1="95.08" x2="251.80" y2="101.07" stroke="#2020b0" stroke-width="2.0"/><line x1="193.05" y1="89.10" x2="190.49" y2="95.08" stroke="#2020b0" stroke-width="2.0"/><line x1="190.49" y1="95.08" x2="187.94" y2="101.07" stroke="#86d020" stroke-width="2.0"/><line x1="193.05" y1="89.10" x2="195.50" y2="95.08" stroke="#2020b0" stroke-width="2.0"/><line x1="195.50" y1="95.08" x2="197.96" y2="101.07" stroke="#86d020" stroke-width="2.0"/><line x1="232.35" y1="89.10" x2="229.79" y2="95.08" stroke="#2020b0" stroke-width="2.0"/><line x1="229.79" y1="95.08" x2="227.24" y2="101.07" stroke="#86d020" stroke-width="2.0"/><line x1="232.35" y1="89.10" x2="234.80" y2="95.08" stroke="#2020b0" stroke-width="2.0"/><line x1="234.80" y1="95.08" x2="237.26" y2="101.07" stroke="#86d020" stroke-width="2.0"/><line x1="173.20" y1="101.07" x2="180.57" y2="101.07" stroke="#2020b0" stroke-width="2.0"/><line x1="180.57" y1="101.07" x2="187.94" y2="101.07" stroke="#86d020" stroke-width="2.0"/><line x1="173.20" y1="101.07" x2="170.45" y2="107.05" stroke="#2020b0" stroke-width="2.0"/><line x1="170.45" y1="107.05" x2="167.70" y2="113.04" stroke="#86d020" stroke-width="2.0"/><line x1="173.20" y1="101.07" x2="175.76" y2="107.05" stroke="#2020b0" stroke-width="2.0"/><line x1="175.76" y1="107.05" x2="178.31" y2="113.04" stroke="#86d020" stroke-width="2.0"/><line x1="212.50" y1="101.07" x2="205.23" y2="101.07" stroke="#2020b0" stroke-width="2.0"/><line x1="205.23" y1="101.07" x2="197.96" y2="101.07" stroke="#86d020" stroke-width="2.0"/><line x1="212.50" y1="101.07" x2="219.87" y2="101.07" stroke="#2020b0" stroke-width="2.0"/><line x1="219.87" y1="101.07" x2="227.24" y2="101.07" stroke="#86d020" stroke-width="2.0"/><line x1="212.50" y1="101.07" x2="209.75" y2="107.05" stroke="#2020b0" stroke-width="2.0"/><line x1="209.75" y1="107.05" x2="207.00" y2="113.04" stroke="#86d020" stroke-width="2.0"/><line x1="212.50" y1="101.07" x2="215.06" y2="107.05" stroke="#2020b0" stroke-width="2.0"/><line x1="215.06" y1="107.05" x2="217.61" y2="113.04" stroke="#86d020" stroke-width="2.0"/><line x1="251.80" y1="101.07" x2="244.53" y2="101.07" stroke="#2020b0" stroke-width="2.0"/><line x1="244.53" y1="101.07" x2="237.26" y2="101.07" stroke="#86d020" stroke-width="2.0"/><line x1="251.80" y1="101.07" x2="249.05" y2="107.05" stroke="#2020b0" stroke-width="2.0"/><line x1="249.05" y1="107.05" x2="246.30" y2="113.04" stroke="#86d020" stroke-width="2.0"/><line x1="251.80" y1="101.07" x2="254.36" y2="107.05" stroke="#2020b0" stroke-width="2.0"/><line x1="254.36" y1="107.05" x2="256.91" y2="113.04" stroke="#86d020" stroke-width="2.0"/><line x1="187.94" y1="101.07" x2="192.95" y2="101.07" stroke="#86d020" stroke-width="2.0"/><line x1="192.95" y1="101.07" x2="197.96" y2="101.07" stroke="#86d020" stroke-width="2.0"/><line x1="187.94" y1="101.07" x2="190.49" y2="107.05" stroke="#86d020" stroke-width="2.0"/><line x1="190.49" y1="107.05" x2="193.05" y2="113.04" stroke="#2020b0" stroke-width="2.0"/><line x1="197.96" y1="101.07" x2="195.50" y2="107.05" stroke="#86d020" stroke-width="2.0"/><line x1="195.50" y1="107.05" x2="193.05" y2="113.04" stroke="#2020b0" stroke-width="2.0"/><line x1="227.24" y1="101.07" x2="232.25" y2="101.07" stroke="#86d020" stroke-width="2.0"/><line x1="232.25" y1="101.07" x2="237.26" y2="101.07" stroke="#86d020" stroke-width="2.0"/><line x1="227.24" y1="101.07" x2="229.79" y2="107.05" stroke="#86d020" stroke-width="2.0"/><line x1="229.79" y1="107.05" x2="232.35" y2="113.04" stroke="#2020b0" stroke-width="2.0"/><line x1="237.26" y1="101.07" x2="234.80" y2="107.05" stroke="#86d020" stroke-width="2.0"/><line x1="234.80" y1="107.05" x2="232.35" y2="113.04" stroke="#2020b0" stroke-width="2.0"/><line x1="167.70" y1="113.04" x2="173.01" y2="113.04" stroke="#86d020" stroke-width="2.0"/><line x1="173.01" y1="113.04" x2="178.31" y2="113.04" stroke="#86d020" stroke-width="2.0"/><line x1="167.70" y1="113.04" x2="170.45" y2="119.02" stroke="#86d020" stroke-width="2.0"/><line x1="170.45" y1="119.02" x2="173.20" y2="125.01" stroke="#2020b0" stroke-width="2.0"/><line x1="178.31" y1="113.04" x2="185.68" y2="113.04" stroke="#86d020" stroke-width="2.0"/><line x1="185.68" y1="113.04" x2="193.05" y2="113.04" stroke="#2020b0" stroke-width="2.0"/><line x1="178.31" y1="113.04" x2="175.76" y2="119.02" stroke="#86d020" stroke-width="2.0"/><line x1="175.76" y1="119.02" x2="173.20" y2="125.01" stroke="#2020b0" stroke-width="2.0"/><line x1="207.00" y1="113.04" x2="212.31" y2="113.04" stroke="#86d020" stroke-width="2.0"/><line x1="212.31" y1="113.04" x2="217.61" y2="113.04" stroke="#86d020" stroke-width="2.0"/><line x1="207.00" y1="113.04" x2="200.02" y2="113.04" stroke="#86d020" stroke-width="2.0"/><line x1="200.02" y1="113.04" x2="193.05" y2="113.04" stroke="#2020b0" stroke-width="2.0"/><line x1="207.00" y1="113.04" x2="209.75" y2="119.02" stroke="#86d020" stroke-width="2.0"/><line x1="209.75" y1="119.02" x2="212.50" y2="125.01" stroke="#2020b0" stroke-width="2.0"/><line x1="217.61" y1="113.04" x2="224.98" y2="113.04" stroke="#86d020" stroke-width="2.0"/><line x1="224.98" y1="113.04" x2="232.35" y2="113.04" stroke="#2020b0" stroke-width="2.0"/><line x1="217.61" y1="113.04" x2="215.06" y2="119.02" stroke="#86d020" stroke-width="2.0"/><line x1="215.06" y1="119.02" x2="212.50" y2="125.01" stroke="#2020b0" stroke-width="2.0"/><line x1="246.30" y1="113.04" x2="251.61" y2="113.04" stroke="#86d020" stroke-width="2.0"/><line x1="251.61" y1="113.04" x2="256.91" y2="113.04" stroke="#86d020" stroke-width="2.0"/><line x1="246.30" y1="113.04" x2="239.32" y2="113.04" stroke="#86d020" stroke-width="2.0"/><line x1="239.32" y1="113.04" x2="232.35" y2="113.04" stroke="#2020b0" stroke-width="2.0"/><line x1="246.30" y1="113.04" x2="249.05" y2="119.02" stroke="#86d020" stroke-width="2.0"/><line x1="249.05" y1="119.02" x2="251.80" y2="125.01" stroke="#2020b0" stroke-width="2.0"/><line x1="256.91" y1="113.04" x2="254.36" y2="119.02" stroke="#86d020" stroke-width="2.0"/><line x1="254.36" y1="119.02" x2="251.80" y2="125.01" stroke="#2020b0" stroke-width="2.0"/><line x1="193.05" y1="113.04" x2="190.49" y2="119.02" stroke="#2020b0" stroke-width="2.0"/><line x1="190.49" y1="119.02" x2="187.94" y2="125.01" stroke="#86d020" stroke-width="2.0"/><line x1="193.05" y1="113.04" x2="195.50" y2="119.02" stroke="#2020b0" stroke-width="2.0"/><line x1="195.50" y1="119.02" x2="197.96" y2="125.01" stroke="#86d020" stroke-width="2.0"/><line x1="232.35" y1="113.04" x2="229.79" y2="119.02" stroke="#2020b0" stroke-width="2.0"/><line x1="229.79" y1="119.02" x2="227.24" y2="125.01" stroke="#86d020" stroke-width="2.0"/><line x1="232.35" y1="113.04" x2="234.80" y2="119.02" stroke="#2020b0" stroke-width="2.0"/><line x1="234.80" y1="119.02" x2="237.26" y2="125.01" stroke="#86d020" stroke-width="2.0"/><line x1="173.20" y1="125.01" x2="180.57" y2="125.01" stroke="#2020b0" stroke-width="2.0"/><line x1="180.57" y1="125.01" x2="187.94" y2="125.01" stroke="#86d020" stroke-width="2.0"/><line x1="173.20" y1="125.01" x2="170.45" y2="131.00" stroke="#2020b0" stroke-width="2.0"/><line x1="170.45" y1="131.00" x2="167.70" y2="136.98" stroke="#86d020" stroke-width="2.0"/><line x1="173.20" y1="125.01" x2="175.76" y2="131.00" stroke="#2020b0" stroke-width="2.0"/><line x1="175.76" y1="131.00" x2="178.31" y2="136.98" stroke="#86d020" stroke-width="2.0"/><line x1="212.50" y1="125.01" x2="205.23" y2="125.01" stroke="#2020b0" stroke-width="2.0"/><line x1="205.23" y1="125.01" x2="197.96" y2="125.01" stroke="#86d020" stroke-width="2.0"/><line x1="212.50" y1="125.01" x2="219.87" y2="125.01" stroke="#2020b0" stroke-width="2.0"/><line x1="219.87" y1="125.01" x2="227.24" y2="125.01" stroke="#86d020" stroke-width="2.0"/><line x1="212.50" y1="125.01" x2="209.75" y2="131.00" stroke="#2020b0" stroke-width="2.0"/><line x1="209.75" y1="131.00" x2="207.00" y2="136.98" stroke="#86d020" stroke-width="2.0"/><line x1="212.50" y1="125.01" x2="215.06" y2="131.00" stroke="#2020b0" stroke-width="2.0"/><line x1="215.06" y1="131.00" x2="217.61" y2="136.98" stroke="#86d020" stroke-width="2.0"/><line x1="251.80" y1="125.01" x2="244.53" y2="125.01" stroke="#2020b0" stroke-width="2.0"/><line x1="244.53" y1="125.01" x2="237.26" y2="125.01" stroke="#86d020" stroke-width="2.0"/><line x1="251.80" y1="125.01" x2="249.05" y2="131.00" stroke="#2020b0" stroke-width="2.0"/><line x1="249.05" y1="131.00" x2="246.30" y2="136.98" stroke="#86d020" stroke-width="2.0"/><line x1="251.80" y1="125.01" x2="254.36" y2="131.00" stroke="#2020b0" stroke-width="2.0"/><line x1="254.36" y1="131.00" x2="256.91" y2="136.98" stroke="#86d020" stroke-width="2.0"/><line x1="187.94" y1="125.01" x2="192.95" y2="125.01" stroke="#86d020" stroke-width="2.0"/><line x1="192.95" y1="125.01" x2="197.96" y2="125.01" stroke="#86d020" stroke-width="2.0"/><line x1="187.94" y1="125.01" x2="190.49" y2="131.00" stroke="#86d020" stroke-width="2.0"/><line x1="190.49" y1="131.00" x2="193.05" y2="136.98" stroke="#2020b0" stroke-width="2.0"/><line x1="197.96" y1="125.01" x2="195.50" y2="131.00" stroke="#86d020" stroke-width="2.0"/><line x1="195.50" y1="131.00" x2="193.05" y2="136.98" stroke="#2020b0" stroke-width="2.0"/><line x1="227.24" y1="125.01" x2="232.25" y2="125.01" stroke="#86d020" stroke-width="2.0"/><line x1="232.25" y1="125.01" x2="237.26" y2="125.01" stroke="#86d020" stroke-width="2.0"/><line x1="227.24" y1="125.01" x2="229.79" y2="131.00" stroke="#86d020" stroke-width="2.0"/><line x1="229.79" y1="131.00" x2="232.35" y2="136.98" stroke="#2020b0" stroke-width="2.0"/><line x1="237.26" y1="125.01" x2="234.80" y2="131.00" stroke="#86d020" stroke-width="2.0"/><line x1="234.80" y1="131.00" x2="232.35" y2="136.98" stroke="#2020b0" stroke-width="2.0"/><line x1="167.70" y1="136.98" x2="173.01" y2="136.98" stroke="#86d020" stroke-width="2.0"/><line x1="173.01" y1="136.98" x2="178.31" y2="136.98" stroke="#86d020" stroke-width="2.0"/><line x1="178.31" y1="136.98" x2="185.68" y2="136.98" stroke="#86d020" stroke-width="2.0"/><line x1="185.68" y1="136.98" x2="193.05" y2="136.98" stroke="#2020b0" stroke-width="2.0"/><line x1="207.00" y1="136.98" x2="212.31" y2="136.98" stroke="#86d020" stroke-width="2.0"/><line x1="212.31" y1="136.98" x2="217.61" y2="136.98" stroke="#86d020" stroke-width="2.0"/><line x1="207.00" y1="136.98" x2="200.02" y2="136.98" stroke="#86d020" stroke-width="2.0"/><line x1="200.02" y1="136.98" x2="193.05" y2="136.98" stroke="#2020b0" stroke-width="2.0"/><line x1="217.61" y1="136.98" x2="224.98" y2="136.98" stroke="#86d020" stroke-width="2.0"/><line x1="224.98" y1="136.98" x2="232.35" y2="136.98" stroke="#2020b0" stroke-width="2.0"/><line x1="246.30" y1="136.98" x2="251.61" y2="136.98" stroke="#86d020" stroke-width="2.0"/><line x1="251.61" y1="136.98" x2="256.91" y2="136.98" stroke="#86d020" stroke-width="2.0"/><line x1="246.30" y1="136.98" x2="239.32" y2="136.98" stroke="#86d020" stroke-width="2.0"/><line x1="239.32" y1="136.98" x2="232.35" y2="136.98" stroke="#2020b0" stroke-width="2.0"/><circle cx="167.70" cy="89.10" r="3.15" fill="url(#gSe)"/><circle cx="178.31" cy="89.10" r="3.15" fill="url(#gSe)"/><circle cx="207.00" cy="89.10" r="3.15" fill="url(#gSe)"/><circle cx="217.61" cy="89.10" r="3.15" fill="url(#gSe)"/><circle cx="246.30" cy="89.10" r="3.15" fill="url(#gSe)"/><circle cx="256.91" cy="89.10" r="3.15" fill="url(#gSe)"/><circle cx="193.05" cy="89.10" r="3.95" fill="url(#gCo)"/><circle cx="232.35" cy="89.10" r="3.95" fill="url(#gCo)"/><circle cx="173.20" cy="101.07" r="3.95" fill="url(#gCo)"/><circle cx="212.50" cy="101.07" r="3.95" fill="url(#gCo)"/><circle cx="251.80" cy="101.07" r="3.95" fill="url(#gCo)"/><circle cx="187.94" cy="101.07" r="3.15" fill="url(#gSe)"/><circle cx="197.96" cy="101.07" r="3.15" fill="url(#gSe)"/><circle cx="227.24" cy="101.07" r="3.15" fill="url(#gSe)"/><circle cx="237.26" cy="101.07" r="3.15" fill="url(#gSe)"/><circle cx="167.70" cy="113.04" r="3.15" fill="url(#gSe)"/><circle cx="178.31" cy="113.04" r="3.15" fill="url(#gSe)"/><circle cx="207.00" cy="113.04" r="3.15" fill="url(#gSe)"/><circle cx="217.61" cy="113.04" r="3.15" fill="url(#gSe)"/><circle cx="246.30" cy="113.04" r="3.15" fill="url(#gSe)"/><circle cx="256.91" cy="113.04" r="3.15" fill="url(#gSe)"/><circle cx="193.05" cy="113.04" r="3.95" fill="url(#gCo)"/><circle cx="232.35" cy="113.04" r="3.95" fill="url(#gCo)"/><circle cx="173.20" cy="125.01" r="3.95" fill="url(#gCo)"/><circle cx="212.50" cy="125.01" r="3.95" fill="url(#gCo)"/><circle cx="251.80" cy="125.01" r="3.95" fill="url(#gCo)"/><circle cx="187.94" cy="125.01" r="3.15" fill="url(#gSe)"/><circle cx="197.96" cy="125.01" r="3.15" fill="url(#gSe)"/><circle cx="227.24" cy="125.01" r="3.15" fill="url(#gSe)"/><circle cx="237.26" cy="125.01" r="3.15" fill="url(#gSe)"/><circle cx="167.70" cy="136.98" r="3.15" fill="url(#gSe)"/><circle cx="178.31" cy="136.98" r="3.15" fill="url(#gSe)"/><circle cx="207.00" cy="136.98" r="3.15" fill="url(#gSe)"/><circle cx="217.61" cy="136.98" r="3.15" fill="url(#gSe)"/><circle cx="246.30" cy="136.98" r="3.15" fill="url(#gSe)"/><circle cx="256.91" cy="136.98" r="3.15" fill="url(#gSe)"/><circle cx="193.05" cy="136.98" r="3.95" fill="url(#gCo)"/><circle cx="232.35" cy="136.98" r="3.95" fill="url(#gCo)"/>
<line x1="509.70" y1="83.00" x2="515.50" y2="83.00" stroke="#86d020" stroke-width="2.2"/><line x1="515.50" y1="83.00" x2="521.31" y2="83.00" stroke="#86d020" stroke-width="2.2"/><line x1="509.70" y1="83.00" x2="512.71" y2="89.50" stroke="#86d020" stroke-width="2.2"/><line x1="512.71" y1="89.50" x2="515.72" y2="96.00" stroke="#2020b0" stroke-width="2.2"/><line x1="521.31" y1="83.00" x2="529.37" y2="83.00" stroke="#86d020" stroke-width="2.2"/><line x1="529.37" y1="83.00" x2="537.43" y2="83.00" stroke="#2020b0" stroke-width="2.2"/><line x1="521.31" y1="83.00" x2="518.51" y2="89.50" stroke="#86d020" stroke-width="2.2"/><line x1="518.51" y1="89.50" x2="515.72" y2="96.00" stroke="#2020b0" stroke-width="2.2"/><line x1="552.70" y1="83.00" x2="558.51" y2="83.00" stroke="#86d020" stroke-width="2.2"/><line x1="558.51" y1="83.00" x2="564.31" y2="83.00" stroke="#86d020" stroke-width="2.2"/><line x1="552.70" y1="83.00" x2="545.07" y2="83.00" stroke="#86d020" stroke-width="2.2"/><line x1="545.07" y1="83.00" x2="537.43" y2="83.00" stroke="#2020b0" stroke-width="2.2"/><line x1="552.70" y1="83.00" x2="555.71" y2="89.50" stroke="#86d020" stroke-width="2.2"/><line x1="555.71" y1="89.50" x2="558.72" y2="96.00" stroke="#2020b0" stroke-width="2.2"/><line x1="564.31" y1="83.00" x2="572.37" y2="83.00" stroke="#86d020" stroke-width="2.2"/><line x1="572.37" y1="83.00" x2="580.44" y2="83.00" stroke="#2020b0" stroke-width="2.2"/><line x1="564.31" y1="83.00" x2="561.52" y2="89.50" stroke="#86d020" stroke-width="2.2"/><line x1="561.52" y1="89.50" x2="558.72" y2="96.00" stroke="#2020b0" stroke-width="2.2"/><line x1="595.70" y1="83.00" x2="601.51" y2="83.00" stroke="#86d020" stroke-width="2.2"/><line x1="601.51" y1="83.00" x2="607.31" y2="83.00" stroke="#86d020" stroke-width="2.2"/><line x1="595.70" y1="83.00" x2="588.07" y2="83.00" stroke="#86d020" stroke-width="2.2"/><line x1="588.07" y1="83.00" x2="580.44" y2="83.00" stroke="#2020b0" stroke-width="2.2"/><line x1="595.70" y1="83.00" x2="598.71" y2="89.50" stroke="#86d020" stroke-width="2.2"/><line x1="598.71" y1="89.50" x2="601.72" y2="96.00" stroke="#2020b0" stroke-width="2.2"/><line x1="607.31" y1="83.00" x2="604.52" y2="89.50" stroke="#86d020" stroke-width="2.2"/><line x1="604.52" y1="89.50" x2="601.72" y2="96.00" stroke="#2020b0" stroke-width="2.2"/><line x1="537.43" y1="83.00" x2="534.64" y2="89.50" stroke="#2020b0" stroke-width="2.2"/><line x1="534.64" y1="89.50" x2="531.85" y2="96.00" stroke="#86d020" stroke-width="2.2"/><line x1="537.43" y1="83.00" x2="540.12" y2="89.50" stroke="#2020b0" stroke-width="2.2"/><line x1="540.12" y1="89.50" x2="542.81" y2="96.00" stroke="#86d020" stroke-width="2.2"/><line x1="580.44" y1="83.00" x2="577.64" y2="89.50" stroke="#2020b0" stroke-width="2.2"/><line x1="577.64" y1="89.50" x2="574.85" y2="96.00" stroke="#86d020" stroke-width="2.2"/><line x1="580.44" y1="83.00" x2="583.12" y2="89.50" stroke="#2020b0" stroke-width="2.2"/><line x1="583.12" y1="89.50" x2="585.81" y2="96.00" stroke="#86d020" stroke-width="2.2"/><line x1="515.72" y1="96.00" x2="523.78" y2="96.00" stroke="#2020b0" stroke-width="2.2"/><line x1="523.78" y1="96.00" x2="531.85" y2="96.00" stroke="#86d020" stroke-width="2.2"/><line x1="515.72" y1="96.00" x2="512.71" y2="102.50" stroke="#2020b0" stroke-width="2.2"/><line x1="512.71" y1="102.50" x2="509.70" y2="109.00" stroke="#86d020" stroke-width="2.2"/><line x1="515.72" y1="96.00" x2="518.51" y2="102.50" stroke="#2020b0" stroke-width="2.2"/><line x1="518.51" y1="102.50" x2="521.31" y2="109.00" stroke="#86d020" stroke-width="2.2"/><line x1="558.72" y1="96.00" x2="550.76" y2="96.00" stroke="#2020b0" stroke-width="2.2"/><line x1="550.76" y1="96.00" x2="542.81" y2="96.00" stroke="#86d020" stroke-width="2.2"/><line x1="558.72" y1="96.00" x2="566.78" y2="96.00" stroke="#2020b0" stroke-width="2.2"/><line x1="566.78" y1="96.00" x2="574.85" y2="96.00" stroke="#86d020" stroke-width="2.2"/><line x1="558.72" y1="96.00" x2="555.71" y2="102.50" stroke="#2020b0" stroke-width="2.2"/><line x1="555.71" y1="102.50" x2="552.70" y2="109.00" stroke="#86d020" stroke-width="2.2"/><line x1="558.72" y1="96.00" x2="561.52" y2="102.50" stroke="#2020b0" stroke-width="2.2"/><line x1="561.52" y1="102.50" x2="564.31" y2="109.00" stroke="#86d020" stroke-width="2.2"/><line x1="601.72" y1="96.00" x2="593.77" y2="96.00" stroke="#2020b0" stroke-width="2.2"/><line x1="593.77" y1="96.00" x2="585.81" y2="96.00" stroke="#86d020" stroke-width="2.2"/><line x1="601.72" y1="96.00" x2="598.71" y2="102.50" stroke="#2020b0" stroke-width="2.2"/><line x1="598.71" y1="102.50" x2="595.70" y2="109.00" stroke="#86d020" stroke-width="2.2"/><line x1="601.72" y1="96.00" x2="604.52" y2="102.50" stroke="#2020b0" stroke-width="2.2"/><line x1="604.52" y1="102.50" x2="607.31" y2="109.00" stroke="#86d020" stroke-width="2.2"/><line x1="531.85" y1="96.00" x2="537.33" y2="96.00" stroke="#86d020" stroke-width="2.2"/><line x1="537.33" y1="96.00" x2="542.81" y2="96.00" stroke="#86d020" stroke-width="2.2"/><line x1="531.85" y1="96.00" x2="534.64" y2="102.50" stroke="#86d020" stroke-width="2.2"/><line x1="534.64" y1="102.50" x2="537.43" y2="109.00" stroke="#2020b0" stroke-width="2.2"/><line x1="542.81" y1="96.00" x2="540.12" y2="102.50" stroke="#86d020" stroke-width="2.2"/><line x1="540.12" y1="102.50" x2="537.43" y2="109.00" stroke="#2020b0" stroke-width="2.2"/><line x1="574.85" y1="96.00" x2="580.33" y2="96.00" stroke="#86d020" stroke-width="2.2"/><line x1="580.33" y1="96.00" x2="585.81" y2="96.00" stroke="#86d020" stroke-width="2.2"/><line x1="574.85" y1="96.00" x2="577.64" y2="102.50" stroke="#86d020" stroke-width="2.2"/><line x1="577.64" y1="102.50" x2="580.44" y2="109.00" stroke="#2020b0" stroke-width="2.2"/><line x1="585.81" y1="96.00" x2="583.12" y2="102.50" stroke="#86d020" stroke-width="2.2"/><line x1="583.12" y1="102.50" x2="580.44" y2="109.00" stroke="#2020b0" stroke-width="2.2"/><line x1="509.70" y1="109.00" x2="515.50" y2="109.00" stroke="#86d020" stroke-width="2.2"/><line x1="515.50" y1="109.00" x2="521.31" y2="109.00" stroke="#86d020" stroke-width="2.2"/><line x1="509.70" y1="109.00" x2="512.71" y2="115.50" stroke="#86d020" stroke-width="2.2"/><line x1="512.71" y1="115.50" x2="515.72" y2="122.00" stroke="#2020b0" stroke-width="2.2"/><line x1="521.31" y1="109.00" x2="529.37" y2="109.00" stroke="#86d020" stroke-width="2.2"/><line x1="529.37" y1="109.00" x2="537.43" y2="109.00" stroke="#2020b0" stroke-width="2.2"/><line x1="521.31" y1="109.00" x2="518.51" y2="115.50" stroke="#86d020" stroke-width="2.2"/><line x1="518.51" y1="115.50" x2="515.72" y2="122.00" stroke="#2020b0" stroke-width="2.2"/><line x1="552.70" y1="109.00" x2="558.51" y2="109.00" stroke="#86d020" stroke-width="2.2"/><line x1="558.51" y1="109.00" x2="564.31" y2="109.00" stroke="#86d020" stroke-width="2.2"/><line x1="552.70" y1="109.00" x2="545.07" y2="109.00" stroke="#86d020" stroke-width="2.2"/><line x1="545.07" y1="109.00" x2="537.43" y2="109.00" stroke="#2020b0" stroke-width="2.2"/><line x1="552.70" y1="109.00" x2="555.71" y2="115.50" stroke="#86d020" stroke-width="2.2"/><line x1="555.71" y1="115.50" x2="558.72" y2="122.00" stroke="#2020b0" stroke-width="2.2"/><line x1="564.31" y1="109.00" x2="572.37" y2="109.00" stroke="#86d020" stroke-width="2.2"/><line x1="572.37" y1="109.00" x2="580.44" y2="109.00" stroke="#2020b0" stroke-width="2.2"/><line x1="564.31" y1="109.00" x2="561.52" y2="115.50" stroke="#86d020" stroke-width="2.2"/><line x1="561.52" y1="115.50" x2="558.72" y2="122.00" stroke="#2020b0" stroke-width="2.2"/><line x1="595.70" y1="109.00" x2="601.51" y2="109.00" stroke="#86d020" stroke-width="2.2"/><line x1="601.51" y1="109.00" x2="607.31" y2="109.00" stroke="#86d020" stroke-width="2.2"/><line x1="595.70" y1="109.00" x2="588.07" y2="109.00" stroke="#86d020" stroke-width="2.2"/><line x1="588.07" y1="109.00" x2="580.44" y2="109.00" stroke="#2020b0" stroke-width="2.2"/><line x1="595.70" y1="109.00" x2="598.71" y2="115.50" stroke="#86d020" stroke-width="2.2"/><line x1="598.71" y1="115.50" x2="601.72" y2="122.00" stroke="#2020b0" stroke-width="2.2"/><line x1="607.31" y1="109.00" x2="604.52" y2="115.50" stroke="#86d020" stroke-width="2.2"/><line x1="604.52" y1="115.50" x2="601.72" y2="122.00" stroke="#2020b0" stroke-width="2.2"/><line x1="537.43" y1="109.00" x2="534.64" y2="115.50" stroke="#2020b0" stroke-width="2.2"/><line x1="534.64" y1="115.50" x2="531.85" y2="122.00" stroke="#86d020" stroke-width="2.2"/><line x1="537.43" y1="109.00" x2="540.12" y2="115.50" stroke="#2020b0" stroke-width="2.2"/><line x1="540.12" y1="115.50" x2="542.81" y2="122.00" stroke="#86d020" stroke-width="2.2"/><line x1="580.44" y1="109.00" x2="577.64" y2="115.50" stroke="#2020b0" stroke-width="2.2"/><line x1="577.64" y1="115.50" x2="574.85" y2="122.00" stroke="#86d020" stroke-width="2.2"/><line x1="580.44" y1="109.00" x2="583.12" y2="115.50" stroke="#2020b0" stroke-width="2.2"/><line x1="583.12" y1="115.50" x2="585.81" y2="122.00" stroke="#86d020" stroke-width="2.2"/><line x1="515.72" y1="122.00" x2="523.78" y2="122.00" stroke="#2020b0" stroke-width="2.2"/><line x1="523.78" y1="122.00" x2="531.85" y2="122.00" stroke="#86d020" stroke-width="2.2"/><line x1="515.72" y1="122.00" x2="512.71" y2="128.50" stroke="#2020b0" stroke-width="2.2"/><line x1="512.71" y1="128.50" x2="509.70" y2="135.00" stroke="#86d020" stroke-width="2.2"/><line x1="515.72" y1="122.00" x2="518.51" y2="128.50" stroke="#2020b0" stroke-width="2.2"/><line x1="518.51" y1="128.50" x2="521.31" y2="135.00" stroke="#86d020" stroke-width="2.2"/><line x1="558.72" y1="122.00" x2="550.76" y2="122.00" stroke="#2020b0" stroke-width="2.2"/><line x1="550.76" y1="122.00" x2="542.81" y2="122.00" stroke="#86d020" stroke-width="2.2"/><line x1="558.72" y1="122.00" x2="566.78" y2="122.00" stroke="#2020b0" stroke-width="2.2"/><line x1="566.78" y1="122.00" x2="574.85" y2="122.00" stroke="#86d020" stroke-width="2.2"/><line x1="558.72" y1="122.00" x2="555.71" y2="128.50" stroke="#2020b0" stroke-width="2.2"/><line x1="555.71" y1="128.50" x2="552.70" y2="135.00" stroke="#86d020" stroke-width="2.2"/><line x1="558.72" y1="122.00" x2="561.52" y2="128.50" stroke="#2020b0" stroke-width="2.2"/><line x1="561.52" y1="128.50" x2="564.31" y2="135.00" stroke="#86d020" stroke-width="2.2"/><line x1="601.72" y1="122.00" x2="593.77" y2="122.00" stroke="#2020b0" stroke-width="2.2"/><line x1="593.77" y1="122.00" x2="585.81" y2="122.00" stroke="#86d020" stroke-width="2.2"/><line x1="601.72" y1="122.00" x2="598.71" y2="128.50" stroke="#2020b0" stroke-width="2.2"/><line x1="598.71" y1="128.50" x2="595.70" y2="135.00" stroke="#86d020" stroke-width="2.2"/><line x1="601.72" y1="122.00" x2="604.52" y2="128.50" stroke="#2020b0" stroke-width="2.2"/><line x1="604.52" y1="128.50" x2="607.31" y2="135.00" stroke="#86d020" stroke-width="2.2"/><line x1="531.85" y1="122.00" x2="537.33" y2="122.00" stroke="#86d020" stroke-width="2.2"/><line x1="537.33" y1="122.00" x2="542.81" y2="122.00" stroke="#86d020" stroke-width="2.2"/><line x1="531.85" y1="122.00" x2="534.64" y2="128.50" stroke="#86d020" stroke-width="2.2"/><line x1="534.64" y1="128.50" x2="537.43" y2="135.00" stroke="#2020b0" stroke-width="2.2"/><line x1="542.81" y1="122.00" x2="540.12" y2="128.50" stroke="#86d020" stroke-width="2.2"/><line x1="540.12" y1="128.50" x2="537.43" y2="135.00" stroke="#2020b0" stroke-width="2.2"/><line x1="574.85" y1="122.00" x2="580.33" y2="122.00" stroke="#86d020" stroke-width="2.2"/><line x1="580.33" y1="122.00" x2="585.81" y2="122.00" stroke="#86d020" stroke-width="2.2"/><line x1="574.85" y1="122.00" x2="577.64" y2="128.50" stroke="#86d020" stroke-width="2.2"/><line x1="577.64" y1="128.50" x2="580.44" y2="135.00" stroke="#2020b0" stroke-width="2.2"/><line x1="585.81" y1="122.00" x2="583.12" y2="128.50" stroke="#86d020" stroke-width="2.2"/><line x1="583.12" y1="128.50" x2="580.44" y2="135.00" stroke="#2020b0" stroke-width="2.2"/><line x1="509.70" y1="135.00" x2="515.50" y2="135.00" stroke="#86d020" stroke-width="2.2"/><line x1="515.50" y1="135.00" x2="521.31" y2="135.00" stroke="#86d020" stroke-width="2.2"/><line x1="521.31" y1="135.00" x2="529.37" y2="135.00" stroke="#86d020" stroke-width="2.2"/><line x1="529.37" y1="135.00" x2="537.43" y2="135.00" stroke="#2020b0" stroke-width="2.2"/><line x1="552.70" y1="135.00" x2="558.51" y2="135.00" stroke="#86d020" stroke-width="2.2"/><line x1="558.51" y1="135.00" x2="564.31" y2="135.00" stroke="#86d020" stroke-width="2.2"/><line x1="552.70" y1="135.00" x2="545.07" y2="135.00" stroke="#86d020" stroke-width="2.2"/><line x1="545.07" y1="135.00" x2="537.43" y2="135.00" stroke="#2020b0" stroke-width="2.2"/><line x1="564.31" y1="135.00" x2="572.37" y2="135.00" stroke="#86d020" stroke-width="2.2"/><line x1="572.37" y1="135.00" x2="580.44" y2="135.00" stroke="#2020b0" stroke-width="2.2"/><line x1="595.70" y1="135.00" x2="601.51" y2="135.00" stroke="#86d020" stroke-width="2.2"/><line x1="601.51" y1="135.00" x2="607.31" y2="135.00" stroke="#86d020" stroke-width="2.2"/><line x1="595.70" y1="135.00" x2="588.07" y2="135.00" stroke="#86d020" stroke-width="2.2"/><line x1="588.07" y1="135.00" x2="580.44" y2="135.00" stroke="#2020b0" stroke-width="2.2"/><circle cx="509.70" cy="83.00" r="3.35" fill="url(#gSe)"/><circle cx="521.31" cy="83.00" r="3.35" fill="url(#gSe)"/><circle cx="552.70" cy="83.00" r="3.35" fill="url(#gSe)"/><circle cx="564.31" cy="83.00" r="3.35" fill="url(#gSe)"/><circle cx="595.70" cy="83.00" r="3.35" fill="url(#gSe)"/><circle cx="607.31" cy="83.00" r="3.35" fill="url(#gSe)"/><circle cx="537.43" cy="83.00" r="4.15" fill="url(#gCo)"/><circle cx="580.44" cy="83.00" r="4.15" fill="url(#gCo)"/><circle cx="515.72" cy="96.00" r="4.15" fill="url(#gCo)"/><circle cx="558.72" cy="96.00" r="4.15" fill="url(#gCo)"/><circle cx="601.72" cy="96.00" r="4.15" fill="url(#gCo)"/><circle cx="531.85" cy="96.00" r="3.35" fill="url(#gSe)"/><circle cx="542.81" cy="96.00" r="3.35" fill="url(#gSe)"/><circle cx="574.85" cy="96.00" r="3.35" fill="url(#gSe)"/><circle cx="585.81" cy="96.00" r="3.35" fill="url(#gSe)"/><circle cx="509.70" cy="109.00" r="3.35" fill="url(#gSe)"/><circle cx="521.31" cy="109.00" r="3.35" fill="url(#gSe)"/><circle cx="552.70" cy="109.00" r="3.35" fill="url(#gSe)"/><circle cx="564.31" cy="109.00" r="3.35" fill="url(#gSe)"/><circle cx="595.70" cy="109.00" r="3.35" fill="url(#gSe)"/><circle cx="607.31" cy="109.00" r="3.35" fill="url(#gSe)"/><circle cx="537.43" cy="109.00" r="4.15" fill="url(#gCo)"/><circle cx="580.44" cy="109.00" r="4.15" fill="url(#gCo)"/><circle cx="515.72" cy="122.00" r="4.15" fill="url(#gCo)"/><circle cx="558.72" cy="122.00" r="4.15" fill="url(#gCo)"/><circle cx="601.72" cy="122.00" r="4.15" fill="url(#gCo)"/><circle cx="531.85" cy="122.00" r="3.35" fill="url(#gSe)"/><circle cx="542.81" cy="122.00" r="3.35" fill="url(#gSe)"/><circle cx="574.85" cy="122.00" r="3.35" fill="url(#gSe)"/><circle cx="585.81" cy="122.00" r="3.35" fill="url(#gSe)"/><circle cx="509.70" cy="135.00" r="3.35" fill="url(#gSe)"/><circle cx="521.31" cy="135.00" r="3.35" fill="url(#gSe)"/><circle cx="552.70" cy="135.00" r="3.35" fill="url(#gSe)"/><circle cx="564.31" cy="135.00" r="3.35" fill="url(#gSe)"/><circle cx="595.70" cy="135.00" r="3.35" fill="url(#gSe)"/><circle cx="607.31" cy="135.00" r="3.35" fill="url(#gSe)"/><circle cx="537.43" cy="135.00" r="4.15" fill="url(#gCo)"/><circle cx="580.44" cy="135.00" r="4.15" fill="url(#gCo)"/>
<line x1="301.64" y1="103.00" x2="298.85" y2="107.34" stroke="#94d4ee" stroke-width="1.3"/><line x1="298.85" y1="107.34" x2="296.06" y2="111.68" stroke="#9a6c4c" stroke-width="1.3"/><line x1="301.64" y1="103.00" x2="307.20" y2="107.34" stroke="#94d4ee" stroke-width="1.3"/><line x1="307.20" y1="107.34" x2="312.76" y2="111.68" stroke="#9a6c4c" stroke-width="1.3"/><line x1="301.64" y1="103.00" x2="298.85" y2="99.74" stroke="#94d4ee" stroke-width="1.3"/><line x1="298.85" y1="99.74" x2="296.06" y2="96.49" stroke="#f47070" stroke-width="1.3"/><line x1="301.64" y1="103.00" x2="307.20" y2="99.74" stroke="#94d4ee" stroke-width="1.3"/><line x1="307.20" y1="99.74" x2="312.76" y2="96.49" stroke="#f47070" stroke-width="1.3"/><line x1="318.34" y1="103.00" x2="315.55" y2="107.34" stroke="#94d4ee" stroke-width="1.3"/><line x1="315.55" y1="107.34" x2="312.76" y2="111.68" stroke="#9a6c4c" stroke-width="1.3"/><line x1="318.34" y1="103.00" x2="323.90" y2="107.34" stroke="#94d4ee" stroke-width="1.3"/><line x1="323.90" y1="107.34" x2="329.46" y2="111.68" stroke="#9a6c4c" stroke-width="1.3"/><line x1="318.34" y1="103.00" x2="315.55" y2="99.74" stroke="#94d4ee" stroke-width="1.3"/><line x1="315.55" y1="99.74" x2="312.76" y2="96.49" stroke="#f47070" stroke-width="1.3"/><line x1="318.34" y1="103.00" x2="323.90" y2="99.74" stroke="#94d4ee" stroke-width="1.3"/><line x1="323.90" y1="99.74" x2="329.46" y2="96.49" stroke="#f47070" stroke-width="1.3"/><line x1="335.04" y1="103.00" x2="332.25" y2="107.34" stroke="#94d4ee" stroke-width="1.3"/><line x1="332.25" y1="107.34" x2="329.46" y2="111.68" stroke="#9a6c4c" stroke-width="1.3"/><line x1="335.04" y1="103.00" x2="340.60" y2="107.34" stroke="#94d4ee" stroke-width="1.3"/><line x1="340.60" y1="107.34" x2="346.16" y2="111.68" stroke="#9a6c4c" stroke-width="1.3"/><line x1="335.04" y1="103.00" x2="332.25" y2="99.74" stroke="#94d4ee" stroke-width="1.3"/><line x1="332.25" y1="99.74" x2="329.46" y2="96.49" stroke="#f47070" stroke-width="1.3"/><line x1="335.04" y1="103.00" x2="340.60" y2="99.74" stroke="#94d4ee" stroke-width="1.3"/><line x1="340.60" y1="99.74" x2="346.16" y2="96.49" stroke="#f47070" stroke-width="1.3"/><line x1="351.74" y1="103.00" x2="348.95" y2="107.34" stroke="#94d4ee" stroke-width="1.3"/><line x1="348.95" y1="107.34" x2="346.16" y2="111.68" stroke="#9a6c4c" stroke-width="1.3"/><line x1="351.74" y1="103.00" x2="348.95" y2="99.74" stroke="#94d4ee" stroke-width="1.3"/><line x1="348.95" y1="99.74" x2="346.16" y2="96.49" stroke="#f47070" stroke-width="1.3"/><line x1="296.06" y1="111.68" x2="293.28" y2="115.69" stroke="#9a6c4c" stroke-width="1.3"/><line x1="293.28" y1="115.69" x2="290.50" y2="119.70" stroke="#94d4ee" stroke-width="1.3"/><line x1="296.06" y1="111.68" x2="301.63" y2="115.69" stroke="#9a6c4c" stroke-width="1.3"/><line x1="301.63" y1="115.69" x2="307.20" y2="119.70" stroke="#94d4ee" stroke-width="1.3"/><line x1="312.76" y1="111.68" x2="309.98" y2="115.69" stroke="#9a6c4c" stroke-width="1.3"/><line x1="309.98" y1="115.69" x2="307.20" y2="119.70" stroke="#94d4ee" stroke-width="1.3"/><line x1="312.76" y1="111.68" x2="318.33" y2="115.69" stroke="#9a6c4c" stroke-width="1.3"/><line x1="318.33" y1="115.69" x2="323.90" y2="119.70" stroke="#94d4ee" stroke-width="1.3"/><line x1="329.46" y1="111.68" x2="326.68" y2="115.69" stroke="#9a6c4c" stroke-width="1.3"/><line x1="326.68" y1="115.69" x2="323.90" y2="119.70" stroke="#94d4ee" stroke-width="1.3"/><line x1="329.46" y1="111.68" x2="335.03" y2="115.69" stroke="#9a6c4c" stroke-width="1.3"/><line x1="335.03" y1="115.69" x2="340.60" y2="119.70" stroke="#94d4ee" stroke-width="1.3"/><line x1="346.16" y1="111.68" x2="343.38" y2="115.69" stroke="#9a6c4c" stroke-width="1.3"/><line x1="343.38" y1="115.69" x2="340.60" y2="119.70" stroke="#94d4ee" stroke-width="1.3"/><line x1="346.16" y1="111.68" x2="351.73" y2="115.69" stroke="#9a6c4c" stroke-width="1.3"/><line x1="351.73" y1="115.69" x2="357.30" y2="119.70" stroke="#94d4ee" stroke-width="1.3"/><line x1="290.50" y1="119.70" x2="296.07" y2="123.54" stroke="#94d4ee" stroke-width="1.3"/><line x1="296.07" y1="123.54" x2="301.64" y2="127.38" stroke="#9a6c4c" stroke-width="1.3"/><line x1="307.20" y1="119.70" x2="304.42" y2="123.54" stroke="#94d4ee" stroke-width="1.3"/><line x1="304.42" y1="123.54" x2="301.64" y2="127.38" stroke="#9a6c4c" stroke-width="1.3"/><line x1="307.20" y1="119.70" x2="312.77" y2="123.54" stroke="#94d4ee" stroke-width="1.3"/><line x1="312.77" y1="123.54" x2="318.34" y2="127.38" stroke="#9a6c4c" stroke-width="1.3"/><line x1="323.90" y1="119.70" x2="321.12" y2="123.54" stroke="#94d4ee" stroke-width="1.3"/><line x1="321.12" y1="123.54" x2="318.34" y2="127.38" stroke="#9a6c4c" stroke-width="1.3"/><line x1="323.90" y1="119.70" x2="329.47" y2="123.54" stroke="#94d4ee" stroke-width="1.3"/><line x1="329.47" y1="123.54" x2="335.04" y2="127.38" stroke="#9a6c4c" stroke-width="1.3"/><line x1="340.60" y1="119.70" x2="337.82" y2="123.54" stroke="#94d4ee" stroke-width="1.3"/><line x1="337.82" y1="123.54" x2="335.04" y2="127.38" stroke="#9a6c4c" stroke-width="1.3"/><line x1="340.60" y1="119.70" x2="346.17" y2="123.54" stroke="#94d4ee" stroke-width="1.3"/><line x1="346.17" y1="123.54" x2="351.74" y2="127.38" stroke="#9a6c4c" stroke-width="1.3"/><line x1="357.30" y1="119.70" x2="354.52" y2="123.54" stroke="#94d4ee" stroke-width="1.3"/><line x1="354.52" y1="123.54" x2="351.74" y2="127.38" stroke="#9a6c4c" stroke-width="1.3"/><line x1="301.64" y1="127.38" x2="298.85" y2="131.72" stroke="#9a6c4c" stroke-width="1.3"/><line x1="298.85" y1="131.72" x2="296.06" y2="136.07" stroke="#94d4ee" stroke-width="1.3"/><line x1="301.64" y1="127.38" x2="307.20" y2="131.72" stroke="#9a6c4c" stroke-width="1.3"/><line x1="307.20" y1="131.72" x2="312.76" y2="136.07" stroke="#94d4ee" stroke-width="1.3"/><line x1="318.34" y1="127.38" x2="315.55" y2="131.72" stroke="#9a6c4c" stroke-width="1.3"/><line x1="315.55" y1="131.72" x2="312.76" y2="136.07" stroke="#94d4ee" stroke-width="1.3"/><line x1="318.34" y1="127.38" x2="323.90" y2="131.72" stroke="#9a6c4c" stroke-width="1.3"/><line x1="323.90" y1="131.72" x2="329.46" y2="136.07" stroke="#94d4ee" stroke-width="1.3"/><line x1="335.04" y1="127.38" x2="332.25" y2="131.72" stroke="#9a6c4c" stroke-width="1.3"/><line x1="332.25" y1="131.72" x2="329.46" y2="136.07" stroke="#94d4ee" stroke-width="1.3"/><line x1="335.04" y1="127.38" x2="340.60" y2="131.72" stroke="#9a6c4c" stroke-width="1.3"/><line x1="340.60" y1="131.72" x2="346.16" y2="136.07" stroke="#94d4ee" stroke-width="1.3"/><line x1="351.74" y1="127.38" x2="348.95" y2="131.72" stroke="#9a6c4c" stroke-width="1.3"/><line x1="348.95" y1="131.72" x2="346.16" y2="136.07" stroke="#94d4ee" stroke-width="1.3"/><line x1="296.06" y1="136.07" x2="298.85" y2="139.16" stroke="#94d4ee" stroke-width="1.3"/><line x1="298.85" y1="139.16" x2="301.64" y2="142.25" stroke="#f47070" stroke-width="1.3"/><line x1="312.76" y1="136.07" x2="307.20" y2="139.16" stroke="#94d4ee" stroke-width="1.3"/><line x1="307.20" y1="139.16" x2="301.64" y2="142.25" stroke="#f47070" stroke-width="1.3"/><line x1="312.76" y1="136.07" x2="315.55" y2="139.16" stroke="#94d4ee" stroke-width="1.3"/><line x1="315.55" y1="139.16" x2="318.34" y2="142.25" stroke="#f47070" stroke-width="1.3"/><line x1="329.46" y1="136.07" x2="323.90" y2="139.16" stroke="#94d4ee" stroke-width="1.3"/><line x1="323.90" y1="139.16" x2="318.34" y2="142.25" stroke="#f47070" stroke-width="1.3"/><line x1="329.46" y1="136.07" x2="332.25" y2="139.16" stroke="#94d4ee" stroke-width="1.3"/><line x1="332.25" y1="139.16" x2="335.04" y2="142.25" stroke="#f47070" stroke-width="1.3"/><line x1="346.16" y1="136.07" x2="340.60" y2="139.16" stroke="#94d4ee" stroke-width="1.3"/><line x1="340.60" y1="139.16" x2="335.04" y2="142.25" stroke="#f47070" stroke-width="1.3"/><line x1="346.16" y1="136.07" x2="348.95" y2="139.16" stroke="#94d4ee" stroke-width="1.3"/><line x1="348.95" y1="139.16" x2="351.74" y2="142.25" stroke="#f47070" stroke-width="1.3"/><circle cx="301.64" cy="103.00" r="4.10" fill="url(#gTi)"/><circle cx="318.34" cy="103.00" r="4.10" fill="url(#gTi)"/><circle cx="335.04" cy="103.00" r="4.10" fill="url(#gTi)"/><circle cx="351.74" cy="103.00" r="4.10" fill="url(#gTi)"/><circle cx="296.06" cy="111.68" r="2.20" fill="url(#gC)"/><circle cx="312.76" cy="111.68" r="2.20" fill="url(#gC)"/><circle cx="329.46" cy="111.68" r="2.20" fill="url(#gC)"/><circle cx="346.16" cy="111.68" r="2.20" fill="url(#gC)"/><circle cx="290.50" cy="119.70" r="4.10" fill="url(#gTi)"/><circle cx="307.20" cy="119.70" r="4.10" fill="url(#gTi)"/><circle cx="323.90" cy="119.70" r="4.10" fill="url(#gTi)"/><circle cx="340.60" cy="119.70" r="4.10" fill="url(#gTi)"/><circle cx="357.30" cy="119.70" r="4.10" fill="url(#gTi)"/><circle cx="301.64" cy="127.38" r="2.20" fill="url(#gC)"/><circle cx="318.34" cy="127.38" r="2.20" fill="url(#gC)"/><circle cx="335.04" cy="127.38" r="2.20" fill="url(#gC)"/><circle cx="351.74" cy="127.38" r="2.20" fill="url(#gC)"/><circle cx="296.06" cy="136.07" r="4.10" fill="url(#gTi)"/><circle cx="312.76" cy="136.07" r="4.10" fill="url(#gTi)"/><circle cx="329.46" cy="136.07" r="4.10" fill="url(#gTi)"/><circle cx="346.16" cy="136.07" r="4.10" fill="url(#gTi)"/><circle cx="301.64" cy="142.25" r="2.30" fill="url(#gO)"/><circle cx="318.34" cy="142.25" r="2.30" fill="url(#gO)"/><circle cx="335.04" cy="142.25" r="2.30" fill="url(#gO)"/><circle cx="351.74" cy="142.25" r="2.30" fill="url(#gO)"/><circle cx="296.06" cy="96.49" r="2.30" fill="url(#gO)"/><circle cx="312.76" cy="96.49" r="2.30" fill="url(#gO)"/><circle cx="329.46" cy="96.49" r="2.30" fill="url(#gO)"/><circle cx="346.16" cy="96.49" r="2.30" fill="url(#gO)"/>
<line x1="640.24" y1="94.80" x2="637.35" y2="99.30" stroke="#94d4ee" stroke-width="1.4"/><line x1="637.35" y1="99.30" x2="634.46" y2="103.80" stroke="#9a6c4c" stroke-width="1.4"/><line x1="640.24" y1="94.80" x2="646.00" y2="99.30" stroke="#94d4ee" stroke-width="1.4"/><line x1="646.00" y1="99.30" x2="651.76" y2="103.80" stroke="#9a6c4c" stroke-width="1.4"/><line x1="640.24" y1="94.80" x2="637.35" y2="91.43" stroke="#94d4ee" stroke-width="1.4"/><line x1="637.35" y1="91.43" x2="634.46" y2="88.05" stroke="#f47070" stroke-width="1.4"/><line x1="640.24" y1="94.80" x2="646.00" y2="91.43" stroke="#94d4ee" stroke-width="1.4"/><line x1="646.00" y1="91.43" x2="651.76" y2="88.05" stroke="#f47070" stroke-width="1.4"/><line x1="657.54" y1="94.80" x2="654.65" y2="99.30" stroke="#94d4ee" stroke-width="1.4"/><line x1="654.65" y1="99.30" x2="651.76" y2="103.80" stroke="#9a6c4c" stroke-width="1.4"/><line x1="657.54" y1="94.80" x2="663.30" y2="99.30" stroke="#94d4ee" stroke-width="1.4"/><line x1="663.30" y1="99.30" x2="669.06" y2="103.80" stroke="#9a6c4c" stroke-width="1.4"/><line x1="657.54" y1="94.80" x2="654.65" y2="91.43" stroke="#94d4ee" stroke-width="1.4"/><line x1="654.65" y1="91.43" x2="651.76" y2="88.05" stroke="#f47070" stroke-width="1.4"/><line x1="657.54" y1="94.80" x2="663.30" y2="91.43" stroke="#94d4ee" stroke-width="1.4"/><line x1="663.30" y1="91.43" x2="669.06" y2="88.05" stroke="#f47070" stroke-width="1.4"/><line x1="674.84" y1="94.80" x2="671.95" y2="99.30" stroke="#94d4ee" stroke-width="1.4"/><line x1="671.95" y1="99.30" x2="669.06" y2="103.80" stroke="#9a6c4c" stroke-width="1.4"/><line x1="674.84" y1="94.80" x2="680.60" y2="99.30" stroke="#94d4ee" stroke-width="1.4"/><line x1="680.60" y1="99.30" x2="686.36" y2="103.80" stroke="#9a6c4c" stroke-width="1.4"/><line x1="674.84" y1="94.80" x2="671.95" y2="91.43" stroke="#94d4ee" stroke-width="1.4"/><line x1="671.95" y1="91.43" x2="669.06" y2="88.05" stroke="#f47070" stroke-width="1.4"/><line x1="674.84" y1="94.80" x2="680.60" y2="91.43" stroke="#94d4ee" stroke-width="1.4"/><line x1="680.60" y1="91.43" x2="686.36" y2="88.05" stroke="#f47070" stroke-width="1.4"/><line x1="692.14" y1="94.80" x2="689.25" y2="99.30" stroke="#94d4ee" stroke-width="1.4"/><line x1="689.25" y1="99.30" x2="686.36" y2="103.80" stroke="#9a6c4c" stroke-width="1.4"/><line x1="692.14" y1="94.80" x2="689.25" y2="91.43" stroke="#94d4ee" stroke-width="1.4"/><line x1="689.25" y1="91.43" x2="686.36" y2="88.05" stroke="#f47070" stroke-width="1.4"/><line x1="634.46" y1="103.80" x2="631.58" y2="107.95" stroke="#9a6c4c" stroke-width="1.4"/><line x1="631.58" y1="107.95" x2="628.70" y2="112.10" stroke="#94d4ee" stroke-width="1.4"/><line x1="634.46" y1="103.80" x2="640.23" y2="107.95" stroke="#9a6c4c" stroke-width="1.4"/><line x1="640.23" y1="107.95" x2="646.00" y2="112.10" stroke="#94d4ee" stroke-width="1.4"/><line x1="651.76" y1="103.80" x2="648.88" y2="107.95" stroke="#9a6c4c" stroke-width="1.4"/><line x1="648.88" y1="107.95" x2="646.00" y2="112.10" stroke="#94d4ee" stroke-width="1.4"/><line x1="651.76" y1="103.80" x2="657.53" y2="107.95" stroke="#9a6c4c" stroke-width="1.4"/><line x1="657.53" y1="107.95" x2="663.30" y2="112.10" stroke="#94d4ee" stroke-width="1.4"/><line x1="669.06" y1="103.80" x2="666.18" y2="107.95" stroke="#9a6c4c" stroke-width="1.4"/><line x1="666.18" y1="107.95" x2="663.30" y2="112.10" stroke="#94d4ee" stroke-width="1.4"/><line x1="669.06" y1="103.80" x2="674.83" y2="107.95" stroke="#9a6c4c" stroke-width="1.4"/><line x1="674.83" y1="107.95" x2="680.60" y2="112.10" stroke="#94d4ee" stroke-width="1.4"/><line x1="686.36" y1="103.80" x2="683.48" y2="107.95" stroke="#9a6c4c" stroke-width="1.4"/><line x1="683.48" y1="107.95" x2="680.60" y2="112.10" stroke="#94d4ee" stroke-width="1.4"/><line x1="686.36" y1="103.80" x2="692.13" y2="107.95" stroke="#9a6c4c" stroke-width="1.4"/><line x1="692.13" y1="107.95" x2="697.90" y2="112.10" stroke="#94d4ee" stroke-width="1.4"/><line x1="628.70" y1="112.10" x2="634.47" y2="116.08" stroke="#94d4ee" stroke-width="1.4"/><line x1="634.47" y1="116.08" x2="640.24" y2="120.06" stroke="#9a6c4c" stroke-width="1.4"/><line x1="646.00" y1="112.10" x2="643.12" y2="116.08" stroke="#94d4ee" stroke-width="1.4"/><line x1="643.12" y1="116.08" x2="640.24" y2="120.06" stroke="#9a6c4c" stroke-width="1.4"/><line x1="646.00" y1="112.10" x2="651.77" y2="116.08" stroke="#94d4ee" stroke-width="1.4"/><line x1="651.77" y1="116.08" x2="657.54" y2="120.06" stroke="#9a6c4c" stroke-width="1.4"/><line x1="663.30" y1="112.10" x2="660.42" y2="116.08" stroke="#94d4ee" stroke-width="1.4"/><line x1="660.42" y1="116.08" x2="657.54" y2="120.06" stroke="#9a6c4c" stroke-width="1.4"/><line x1="663.30" y1="112.10" x2="669.07" y2="116.08" stroke="#94d4ee" stroke-width="1.4"/><line x1="669.07" y1="116.08" x2="674.84" y2="120.06" stroke="#9a6c4c" stroke-width="1.4"/><line x1="680.60" y1="112.10" x2="677.72" y2="116.08" stroke="#94d4ee" stroke-width="1.4"/><line x1="677.72" y1="116.08" x2="674.84" y2="120.06" stroke="#9a6c4c" stroke-width="1.4"/><line x1="680.60" y1="112.10" x2="686.37" y2="116.08" stroke="#94d4ee" stroke-width="1.4"/><line x1="686.37" y1="116.08" x2="692.14" y2="120.06" stroke="#9a6c4c" stroke-width="1.4"/><line x1="697.90" y1="112.10" x2="695.02" y2="116.08" stroke="#94d4ee" stroke-width="1.4"/><line x1="695.02" y1="116.08" x2="692.14" y2="120.06" stroke="#9a6c4c" stroke-width="1.4"/><line x1="640.24" y1="120.06" x2="637.35" y2="124.56" stroke="#9a6c4c" stroke-width="1.4"/><line x1="637.35" y1="124.56" x2="634.46" y2="129.05" stroke="#94d4ee" stroke-width="1.4"/><line x1="640.24" y1="120.06" x2="646.00" y2="124.56" stroke="#9a6c4c" stroke-width="1.4"/><line x1="646.00" y1="124.56" x2="651.76" y2="129.05" stroke="#94d4ee" stroke-width="1.4"/><line x1="657.54" y1="120.06" x2="654.65" y2="124.56" stroke="#9a6c4c" stroke-width="1.4"/><line x1="654.65" y1="124.56" x2="651.76" y2="129.05" stroke="#94d4ee" stroke-width="1.4"/><line x1="657.54" y1="120.06" x2="663.30" y2="124.56" stroke="#9a6c4c" stroke-width="1.4"/><line x1="663.30" y1="124.56" x2="669.06" y2="129.05" stroke="#94d4ee" stroke-width="1.4"/><line x1="674.84" y1="120.06" x2="671.95" y2="124.56" stroke="#9a6c4c" stroke-width="1.4"/><line x1="671.95" y1="124.56" x2="669.06" y2="129.05" stroke="#94d4ee" stroke-width="1.4"/><line x1="674.84" y1="120.06" x2="680.60" y2="124.56" stroke="#9a6c4c" stroke-width="1.4"/><line x1="680.60" y1="124.56" x2="686.36" y2="129.05" stroke="#94d4ee" stroke-width="1.4"/><line x1="692.14" y1="120.06" x2="689.25" y2="124.56" stroke="#9a6c4c" stroke-width="1.4"/><line x1="689.25" y1="124.56" x2="686.36" y2="129.05" stroke="#94d4ee" stroke-width="1.4"/><line x1="634.46" y1="129.05" x2="637.35" y2="132.25" stroke="#94d4ee" stroke-width="1.4"/><line x1="637.35" y1="132.25" x2="640.24" y2="135.45" stroke="#f47070" stroke-width="1.4"/><line x1="651.76" y1="129.05" x2="646.00" y2="132.25" stroke="#94d4ee" stroke-width="1.4"/><line x1="646.00" y1="132.25" x2="640.24" y2="135.45" stroke="#f47070" stroke-width="1.4"/><line x1="651.76" y1="129.05" x2="654.65" y2="132.25" stroke="#94d4ee" stroke-width="1.4"/><line x1="654.65" y1="132.25" x2="657.54" y2="135.45" stroke="#f47070" stroke-width="1.4"/><line x1="669.06" y1="129.05" x2="663.30" y2="132.25" stroke="#94d4ee" stroke-width="1.4"/><line x1="663.30" y1="132.25" x2="657.54" y2="135.45" stroke="#f47070" stroke-width="1.4"/><line x1="669.06" y1="129.05" x2="671.95" y2="132.25" stroke="#94d4ee" stroke-width="1.4"/><line x1="671.95" y1="132.25" x2="674.84" y2="135.45" stroke="#f47070" stroke-width="1.4"/><line x1="686.36" y1="129.05" x2="680.60" y2="132.25" stroke="#94d4ee" stroke-width="1.4"/><line x1="680.60" y1="132.25" x2="674.84" y2="135.45" stroke="#f47070" stroke-width="1.4"/><line x1="686.36" y1="129.05" x2="689.25" y2="132.25" stroke="#94d4ee" stroke-width="1.4"/><line x1="689.25" y1="132.25" x2="692.14" y2="135.45" stroke="#f47070" stroke-width="1.4"/><circle cx="640.24" cy="94.80" r="4.25" fill="url(#gTi)"/><circle cx="657.54" cy="94.80" r="4.25" fill="url(#gTi)"/><circle cx="674.84" cy="94.80" r="4.25" fill="url(#gTi)"/><circle cx="692.14" cy="94.80" r="4.25" fill="url(#gTi)"/><circle cx="634.46" cy="103.80" r="2.30" fill="url(#gC)"/><circle cx="651.76" cy="103.80" r="2.30" fill="url(#gC)"/><circle cx="669.06" cy="103.80" r="2.30" fill="url(#gC)"/><circle cx="686.36" cy="103.80" r="2.30" fill="url(#gC)"/><circle cx="628.70" cy="112.10" r="4.25" fill="url(#gTi)"/><circle cx="646.00" cy="112.10" r="4.25" fill="url(#gTi)"/><circle cx="663.30" cy="112.10" r="4.25" fill="url(#gTi)"/><circle cx="680.60" cy="112.10" r="4.25" fill="url(#gTi)"/><circle cx="697.90" cy="112.10" r="4.25" fill="url(#gTi)"/><circle cx="640.24" cy="120.06" r="2.30" fill="url(#gC)"/><circle cx="657.54" cy="120.06" r="2.30" fill="url(#gC)"/><circle cx="674.84" cy="120.06" r="2.30" fill="url(#gC)"/><circle cx="692.14" cy="120.06" r="2.30" fill="url(#gC)"/><circle cx="634.46" cy="129.05" r="4.25" fill="url(#gTi)"/><circle cx="651.76" cy="129.05" r="4.25" fill="url(#gTi)"/><circle cx="669.06" cy="129.05" r="4.25" fill="url(#gTi)"/><circle cx="686.36" cy="129.05" r="4.25" fill="url(#gTi)"/><circle cx="640.24" cy="135.45" r="2.40" fill="url(#gO)"/><circle cx="657.54" cy="135.45" r="2.40" fill="url(#gO)"/><circle cx="674.84" cy="135.45" r="2.40" fill="url(#gO)"/><circle cx="692.14" cy="135.45" r="2.40" fill="url(#gO)"/><circle cx="634.46" cy="88.05" r="2.40" fill="url(#gO)"/><circle cx="651.76" cy="88.05" r="2.40" fill="url(#gO)"/><circle cx="669.06" cy="88.05" r="2.40" fill="url(#gO)"/><circle cx="686.36" cy="88.05" r="2.40" fill="url(#gO)"/>
<line x1="89.7" y1="63.8" x2="102.6" y2="61.3" stroke="#e8e020" stroke-width="2"/>
<line x1="102.6" y1="61.3" x2="109.5" y2="55.1" stroke="#e8e020" stroke-width="2"/>
<line x1="109.5" y1="55.1" x2="118.5" y2="64.8" stroke="#e8e020" stroke-width="2"/>
<line x1="118.5" y1="64.8" x2="113.0" y2="72.0" stroke="#e8e020" stroke-width="2"/>
<line x1="102.6" y1="61.3" x2="106" y2="75" stroke="#e8e020" stroke-width="1.5"/>
<line x1="89.7" y1="63.8" x2="89" y2="78" stroke="#e8e020" stroke-width="1.5"/>
<ellipse cx="90.50" cy="78.50" rx="7.00" ry="6.50" fill="#e8e000" opacity="0.95"/>
<ellipse cx="110.80" cy="80.20" rx="5.50" ry="6.50" fill="#e8e000" opacity="0.95"/>
<ellipse cx="90.20" cy="76.00" rx="5.50" ry="2.00" fill="#14dfe3" opacity="0.95"/>
<ellipse cx="113.00" cy="75.20" rx="4.00" ry="1.50" fill="#14dfe3" opacity="0.95"/>
<ellipse cx="89.50" cy="59.00" rx="1.60" ry="1.30" fill="#14dfe3" opacity="0.95"/>
<ellipse cx="88.50" cy="87.50" rx="2.60" ry="3.20" fill="#14dfe3" opacity="0.95"/>
<circle cx="89.70" cy="63.80" r="3.00" fill="url(#gS)"/>
<circle cx="102.60" cy="61.30" r="3.00" fill="url(#gS)"/>
<circle cx="109.50" cy="55.10" r="3.00" fill="url(#gS)"/>
<circle cx="118.50" cy="64.80" r="3.00" fill="url(#gS)"/>
<circle cx="113.00" cy="72.00" r="3.00" fill="url(#gS)"/>
<circle cx="96.70" cy="70.70" r="3.60" fill="url(#gLi)"/>
<circle cx="106.00" cy="75.20" r="3.60" fill="url(#gLi)"/>
<polyline points="223.7,65.2 220.3,61.4 231,54.5 241.7,61.4 238.6,65.2" fill="none" stroke="#e8e020" stroke-width="2"/>
<line x1="223.7" y1="65.2" x2="226" y2="75" stroke="#e8e020" stroke-width="1.6"/>
<line x1="238.6" y1="65.2" x2="236" y2="75" stroke="#e8e020" stroke-width="1.6"/>
<ellipse cx="231.00" cy="67.90" rx="3.20" ry="1.60" fill="#14dfe3" opacity="0.95"/>
<ellipse cx="212.30" cy="82.40" rx="5.50" ry="5.00" fill="#e8e000" opacity="0.95"/>
<ellipse cx="246.30" cy="82.40" rx="5.50" ry="5.00" fill="#e8e000" opacity="0.95"/>
<ellipse cx="226.00" cy="79.00" rx="3.00" ry="3.00" fill="#14dfe3" opacity="0.95"/>
<ellipse cx="236.50" cy="79.00" rx="3.00" ry="3.00" fill="#14dfe3" opacity="0.95"/>
<ellipse cx="231.00" cy="79.00" rx="6.00" ry="7.00" fill="#e8e000" opacity="0.95"/>
<ellipse cx="231.00" cy="88.00" rx="3.50" ry="4.00" fill="#14dfe3" opacity="0.95"/>
<circle cx="231.00" cy="54.50" r="3.20" fill="url(#gS)"/>
<circle cx="220.30" cy="61.40" r="2.20" fill="url(#gS)"/>
<circle cx="241.70" cy="61.40" r="2.20" fill="url(#gS)"/>
<circle cx="223.70" cy="65.20" r="3.50" fill="url(#gS)"/>
<circle cx="238.60" cy="65.20" r="3.50" fill="url(#gS)"/>
<circle cx="220.70" cy="76.70" r="4.20" fill="url(#gLi)"/>
<circle cx="241.70" cy="76.70" r="4.20" fill="url(#gLi)"/>
<circle cx="231.00" cy="90.80" r="3.30" fill="url(#gCo)"/>
<polygon points="326.25,55.4 337.9,55.4 344.6,65.0 337.1,75.8 325.8,75.8 319.2,65.0" fill="none" stroke="#e8e020" stroke-width="2"/>
<ellipse cx="331.25" cy="84.50" rx="9.50" ry="7.00" fill="#14dfe3" opacity="0.95"/>
<ellipse cx="315.80" cy="91.70" rx="6.50" ry="5.50" fill="#e8e000" opacity="0.95"/>
<ellipse cx="344.20" cy="91.70" rx="6.50" ry="5.50" fill="#e8e000" opacity="0.95"/>
<ellipse cx="328.00" cy="93.50" rx="4.00" ry="3.00" fill="#e8e000" opacity="0.95"/>
<circle cx="326.25" cy="55.40" r="2.90" fill="url(#gS)"/>
<circle cx="337.90" cy="55.40" r="2.90" fill="url(#gS)"/>
<circle cx="344.60" cy="65.00" r="2.90" fill="url(#gS)"/>
<circle cx="337.10" cy="75.80" r="2.90" fill="url(#gS)"/>
<circle cx="325.80" cy="75.80" r="2.90" fill="url(#gS)"/>
<circle cx="319.20" cy="65.00" r="2.90" fill="url(#gS)"/>
<ellipse cx="322.50" cy="65.40" rx="3.30" ry="3.00" fill="#14dfe3" opacity="0.95"/>
<ellipse cx="340.00" cy="65.40" rx="3.30" ry="3.00" fill="#14dfe3" opacity="0.95"/>
<ellipse cx="321.00" cy="76.50" rx="3.60" ry="3.30" fill="#14dfe3" opacity="0.95"/>
<ellipse cx="341.00" cy="77.00" rx="3.60" ry="3.50" fill="#14dfe3" opacity="0.95"/>
<ellipse cx="328.30" cy="51.30" rx="1.50" ry="1.30" fill="#14dfe3" opacity="0.95"/>
<ellipse cx="336.30" cy="51.30" rx="1.50" ry="1.30" fill="#14dfe3" opacity="0.95"/>
<circle cx="322.50" cy="89.20" r="3.60" fill="url(#gLi)"/>
<circle cx="340.80" cy="88.30" r="3.60" fill="url(#gLi)"/>
<ellipse cx="442.50" cy="88.00" rx="4.20" ry="3.20" fill="#14dfe3" opacity="0.95"/>
<ellipse cx="445.60" cy="66.80" rx="6.20" ry="3.90" fill="#14dfe3" opacity="0.95"/>
<ellipse cx="443.70" cy="72.60" rx="7.20" ry="2.90" fill="#e8e000" opacity="0.95"/>
<ellipse cx="445.20" cy="80.20" rx="8.20" ry="4.60" fill="#14dfe3" opacity="0.95"/>
<ellipse cx="431.50" cy="81.00" rx="3.30" ry="3.50" fill="#14dfe3" opacity="0.95"/>
<ellipse cx="465.00" cy="80.00" rx="5.60" ry="7.20" fill="#e8e000" opacity="0.95"/>
<circle cx="435.70" cy="74.90" r="4.10" fill="url(#gLi)"/>
<circle cx="458.60" cy="74.90" r="4.10" fill="url(#gLi)"/>
<ellipse cx="556.50" cy="73.70" rx="5.20" ry="4.20" fill="#e8e000" opacity="0.95"/>
<ellipse cx="560.30" cy="78.30" rx="5.00" ry="3.00" fill="#e8e000" opacity="0.95"/>
<ellipse cx="573.30" cy="77.50" rx="4.50" ry="4.50" fill="#14dfe3" opacity="0.95"/>
<ellipse cx="590.10" cy="77.10" rx="4.50" ry="4.20" fill="#14dfe3" opacity="0.95" transform="rotate(-30 590.10 77.10)"/>
<ellipse cx="576.30" cy="61.10" rx="5.20" ry="3.60" fill="#14dfe3" opacity="0.95" transform="rotate(-20 576.30 61.10)"/>
<ellipse cx="578.60" cy="67.60" rx="5.00" ry="3.40" fill="#e8e000" opacity="0.95"/>
<ellipse cx="579.40" cy="74.00" rx="4.80" ry="3.00" fill="#e8e000" opacity="0.95"/>
<circle cx="569.80" cy="66.40" r="4.00" fill="url(#gLi)"/>
<circle cx="565.20" cy="71.00" r="4.00" fill="url(#gLi)"/>
<circle cx="580.00" cy="83.00" r="3.50" fill="url(#gCo)"/>
<ellipse cx="673.00" cy="62.50" rx="5.80" ry="4.20" fill="#e8e000" opacity="0.95"/>
<ellipse cx="673.20" cy="70.80" rx="8.60" ry="9.60" fill="#14dfe3" opacity="0.95"/>
<ellipse cx="656.00" cy="84.00" rx="5.20" ry="4.20" fill="#e8e000" opacity="0.95"/>
<ellipse cx="666.50" cy="85.50" rx="4.20" ry="3.60" fill="#e8e000" opacity="0.95"/>
<ellipse cx="686.50" cy="83.50" rx="5.00" ry="4.60" fill="#e8e000" opacity="0.95"/>
<circle cx="663.70" cy="79.00" r="3.80" fill="url(#gLi)"/>
<circle cx="685.50" cy="75.20" r="3.80" fill="url(#gLi)"/>
<text x="65.80" y="159.70" font-size="13.5" font-weight="normal" fill="#333" text-anchor="start" textLength="47.50" lengthAdjust="spacingAndGlyphs" stroke="#333" stroke-width="0.35">C-CoSe<tspan font-size="9.72" dy="3.78">2</tspan></text>
<text x="192.50" y="159.70" font-size="13.5" font-weight="normal" fill="#333" text-anchor="start" textLength="49.20" lengthAdjust="spacingAndGlyphs" stroke="#333" stroke-width="0.35">O-CoSe<tspan font-size="9.72" dy="3.78">2</tspan></text>
<text x="299.60" y="159.70" font-size="13.5" font-weight="normal" fill="#333" text-anchor="start" textLength="44.00" lengthAdjust="spacingAndGlyphs" stroke="#333" stroke-width="0.35">Ti<tspan font-size="9.72" dy="3.78">3</tspan><tspan dy="-3.78">C</tspan><tspan font-size="9.72" dy="3.78">2</tspan><tspan dy="-3.78">O</tspan><tspan font-size="9.72" dy="3.78">2</tspan></text>
<text x="418.30" y="159.70" font-size="13.5" font-weight="normal" fill="#333" text-anchor="start" textLength="47.50" lengthAdjust="spacingAndGlyphs" stroke="#333" stroke-width="0.35">C-CoSe<tspan font-size="9.72" dy="3.78">2</tspan></text>
<text x="545.00" y="159.70" font-size="13.5" font-weight="normal" fill="#333" text-anchor="start" textLength="50.00" lengthAdjust="spacingAndGlyphs" stroke="#333" stroke-width="0.35">O-CoSe<tspan font-size="9.72" dy="3.78">2</tspan></text>
<text x="651.60" y="159.70" font-size="13.5" font-weight="normal" fill="#333" text-anchor="start" textLength="43.70" lengthAdjust="spacingAndGlyphs" stroke="#333" stroke-width="0.35">Ti<tspan font-size="9.72" dy="3.78">3</tspan><tspan dy="-3.78">C</tspan><tspan font-size="9.72" dy="3.78">2</tspan><tspan dy="-3.78">O</tspan><tspan font-size="9.72" dy="3.78">2</tspan></text>
<text x="26.50" y="206.70" font-size="16" font-weight="bold" fill="#111" text-anchor="start" textLength="56.00" lengthAdjust="spacingAndGlyphs" >Legend:</text>
<circle cx="101.25" cy="200.80" r="9.60" fill="url(#gCo)"/>
<text x="117.5" y="206.0" font-size="13.4" fill="#333" stroke="#333" stroke-width="0.35" textLength="16.9" lengthAdjust="spacingAndGlyphs">Co</text>
<circle cx="162.00" cy="203.20" r="8.00" fill="url(#gSe)"/>
<text x="175.2" y="206.9" font-size="13.4" fill="#333" stroke="#333" stroke-width="0.35" textLength="16.1" lengthAdjust="spacingAndGlyphs">Se</text>
<circle cx="222.10" cy="202.20" r="9.20" fill="url(#gLi)"/>
<text x="240.9" y="206.9" font-size="13.4" fill="#333" stroke="#333" stroke-width="0.35" textLength="10.4" lengthAdjust="spacingAndGlyphs">Li</text>
<circle cx="281.80" cy="202.00" r="8.10" fill="url(#gS)"/>
<text x="296.8" y="206.9" font-size="13.4" fill="#333" stroke="#333" stroke-width="0.35" textLength="8.8" lengthAdjust="spacingAndGlyphs">S</text>
<circle cx="333.90" cy="202.00" r="11.00" fill="url(#gTi)"/>
<text x="349.3" y="206.9" font-size="13.4" fill="#333" stroke="#333" stroke-width="0.35" textLength="12.1" lengthAdjust="spacingAndGlyphs">Ti</text>
<circle cx="386.10" cy="201.60" r="6.20" fill="url(#gC)"/>
<text x="397.9" y="206.9" font-size="13.4" fill="#333" stroke="#333" stroke-width="0.35" textLength="9.2" lengthAdjust="spacingAndGlyphs">C</text>
<circle cx="431.30" cy="201.60" r="6.30" fill="url(#gO)"/>
<text x="442.7" y="206.9" font-size="13.4" fill="#333" stroke="#333" stroke-width="0.35" textLength="11.1" lengthAdjust="spacingAndGlyphs">O</text>
<rect x="474.4" y="183" width="31.5" height="14.4" fill="#1ee0e6"/>
<rect x="474.4" y="203.2" width="31.5" height="14.4" fill="#d6d20c"/>
<text x="516" y="194.9" font-size="13.5" fill="#333" stroke="#333" stroke-width="0.35" textLength="152.4" lengthAdjust="spacingAndGlyphs">Charge Depletion Region</text>
<text x="516" y="214.7" font-size="13.5" fill="#333" stroke="#333" stroke-width="0.35" textLength="175.1" lengthAdjust="spacingAndGlyphs">Charge Accumulation Region</text>
<rect x="130.60" y="294.20" width="15.80" height="128.30" fill="#0074bc"/>
<rect x="146.40" y="315.10" width="15.80" height="107.40" fill="#ff8402"/>
<rect x="162.20" y="302.20" width="15.80" height="120.30" fill="#02a214"/>
<rect x="226.00" y="283.30" width="15.80" height="139.20" fill="#0074bc"/>
<rect x="241.80" y="334.00" width="15.80" height="88.50" fill="#ff8402"/>
<rect x="257.60" y="306.00" width="15.80" height="116.50" fill="#02a214"/>
<rect x="321.30" y="300.30" width="15.80" height="122.20" fill="#0074bc"/>
<rect x="337.10" y="348.70" width="15.80" height="73.80" fill="#ff8402"/>
<rect x="352.90" y="318.30" width="15.80" height="104.20" fill="#02a214"/>
<rect x="416.40" y="313.30" width="15.80" height="109.20" fill="#0074bc"/>
<rect x="432.20" y="344.70" width="15.80" height="77.80" fill="#ff8402"/>
<rect x="448.00" y="331.00" width="15.80" height="91.50" fill="#02a214"/>
<rect x="512.00" y="301.20" width="15.80" height="121.30" fill="#0074bc"/>
<rect x="527.80" y="341.90" width="15.80" height="80.60" fill="#ff8402"/>
<rect x="543.60" y="306.90" width="15.80" height="115.60" fill="#02a214"/>
<rect x="607.40" y="371.30" width="15.80" height="51.20" fill="#0074bc"/>
<rect x="623.20" y="384.60" width="15.80" height="37.90" fill="#ff8402"/>
<rect x="639.00" y="389.80" width="15.80" height="32.70" fill="#02a214"/>
<rect x="106.5" y="247.6" width="572.5" height="174.9" fill="none" stroke="#111" stroke-width="1.7"/>
<line x1="102.0" y1="422.50" x2="106.5" y2="422.50" stroke="#111" stroke-width="1.5"/>
<text x="99.2" y="427.50" font-size="14.6" font-weight="bold" fill="#111" text-anchor="end" textLength="9.4" lengthAdjust="spacingAndGlyphs">0</text>
<line x1="102.0" y1="345.00" x2="106.5" y2="345.00" stroke="#111" stroke-width="1.5"/>
<text x="99.2" y="350.00" font-size="14.6" font-weight="bold" fill="#111" text-anchor="end" textLength="9.4" lengthAdjust="spacingAndGlyphs">2</text>
<line x1="102.0" y1="267.50" x2="106.5" y2="267.50" stroke="#111" stroke-width="1.5"/>
<text x="99.2" y="272.50" font-size="14.6" font-weight="bold" fill="#111" text-anchor="end" textLength="9.4" lengthAdjust="spacingAndGlyphs">4</text>
<line x1="104.0" y1="403.12" x2="106.5" y2="403.12" stroke="#111" stroke-width="1.1"/>
<line x1="104.0" y1="383.75" x2="106.5" y2="383.75" stroke="#111" stroke-width="1.1"/>
<line x1="104.0" y1="364.38" x2="106.5" y2="364.38" stroke="#111" stroke-width="1.1"/>
<line x1="104.0" y1="325.62" x2="106.5" y2="325.62" stroke="#111" stroke-width="1.1"/>
<line x1="104.0" y1="306.25" x2="106.5" y2="306.25" stroke="#111" stroke-width="1.1"/>
<line x1="104.0" y1="286.88" x2="106.5" y2="286.88" stroke="#111" stroke-width="1.1"/>
<line x1="104.0" y1="248.12" x2="106.5" y2="248.12" stroke="#111" stroke-width="1.1"/>
<line x1="154.30" y1="422.5" x2="154.30" y2="426.5" stroke="#111" stroke-width="1.3"/>
<line x1="249.70" y1="422.5" x2="249.70" y2="426.5" stroke="#111" stroke-width="1.3"/>
<line x1="345.00" y1="422.5" x2="345.00" y2="426.5" stroke="#111" stroke-width="1.3"/>
<line x1="440.10" y1="422.5" x2="440.10" y2="426.5" stroke="#111" stroke-width="1.3"/>
<line x1="535.70" y1="422.5" x2="535.70" y2="426.5" stroke="#111" stroke-width="1.3"/>
<line x1="631.10" y1="422.5" x2="631.10" y2="426.5" stroke="#111" stroke-width="1.3"/>
<text x="136.80" y="441.60" font-size="16.7" font-weight="bold" fill="#111" text-anchor="start" textLength="35.10" lengthAdjust="spacingAndGlyphs" >Li<tspan font-size="11.36" dy="2.17">2</tspan><tspan dy="-2.17">S</tspan></text>
<text x="228.90" y="441.60" font-size="16.7" font-weight="bold" fill="#111" text-anchor="start" textLength="42.40" lengthAdjust="spacingAndGlyphs" >Li<tspan font-size="11.36" dy="2.17">2</tspan><tspan dy="-2.17">S</tspan><tspan font-size="11.36" dy="2.17">2</tspan></text>
<text x="323.40" y="441.60" font-size="16.7" font-weight="bold" fill="#111" text-anchor="start" textLength="44.10" lengthAdjust="spacingAndGlyphs" >Li<tspan font-size="11.36" dy="2.17">2</tspan><tspan dy="-2.17">S</tspan><tspan font-size="11.36" dy="2.17">4</tspan></text>
<text x="419.40" y="441.60" font-size="16.7" font-weight="bold" fill="#111" text-anchor="start" textLength="43.60" lengthAdjust="spacingAndGlyphs" >Li<tspan font-size="11.36" dy="2.17">2</tspan><tspan dy="-2.17">S</tspan><tspan font-size="11.36" dy="2.17">6</tspan></text>
<text x="514.10" y="441.60" font-size="16.7" font-weight="bold" fill="#111" text-anchor="start" textLength="44.00" lengthAdjust="spacingAndGlyphs" >Li<tspan font-size="11.36" dy="2.17">2</tspan><tspan dy="-2.17">S</tspan><tspan font-size="11.36" dy="2.17">8</tspan></text>
<text x="621.70" y="441.60" font-size="16.7" font-weight="bold" fill="#111" text-anchor="start" textLength="19.10" lengthAdjust="spacingAndGlyphs" >S<tspan font-size="11.36" dy="2.17">8</tspan></text>
<text transform="translate(81.9,434.6) rotate(-90)" x="0" y="0" font-size="18.2" font-weight="bold" fill="#111" textLength="196.2" lengthAdjust="spacingAndGlyphs">Binding Energy (eV)</text>
<rect x="567.5" y="248.5" width="109.5" height="72" rx="2.5" fill="#fff" fill-opacity="0.85" stroke="#d6d6d6" stroke-width="1"/>
<rect x="572.4" y="256.20" width="28.2" height="10.8" fill="#0074bc"/>
<text x="612.00" y="266.60" font-size="14" font-weight="normal" fill="#222" text-anchor="start" textLength="59.60" lengthAdjust="spacingAndGlyphs" stroke="#222" stroke-width="0.2">O-CoSe<tspan font-size="10.08" dy="2.24">2</tspan></text>
<rect x="572.4" y="278.80" width="28.2" height="10.8" fill="#ff8402"/>
<text x="612.00" y="289.20" font-size="14" font-weight="normal" fill="#222" text-anchor="start" textLength="58.70" lengthAdjust="spacingAndGlyphs" stroke="#222" stroke-width="0.2">C-CoSe<tspan font-size="10.08" dy="2.24">2</tspan></text>
<rect x="572.4" y="301.40" width="28.2" height="10.8" fill="#02a214"/>
<text x="612.00" y="311.80" font-size="14" font-weight="normal" fill="#222" text-anchor="start" textLength="53.60" lengthAdjust="spacingAndGlyphs" stroke="#222" stroke-width="0.2">Ti<tspan font-size="10.08" dy="2.24">3</tspan><tspan dy="-2.24">C</tspan><tspan font-size="10.08" dy="2.24">2</tspan><tspan dy="-2.24">O</tspan><tspan font-size="10.08" dy="2.24">2</tspan></text>
<text x="21.0" y="259.3" font-size="22" font-weight="bold" fill="#111">(c)</text>
<line x1="212.00" y1="529.87" x2="251.00" y2="607.06" stroke="#fb9a55" stroke-width="1.3" stroke-dasharray="2.2 1.6"/>
<line x1="293.60" y1="607.06" x2="332.60" y2="601.88" stroke="#fb9a55" stroke-width="1.3" stroke-dasharray="2.2 1.6"/>
<line x1="375.20" y1="601.88" x2="414.20" y2="588.99" stroke="#fb9a55" stroke-width="1.3" stroke-dasharray="2.2 1.6"/>
<line x1="456.80" y1="588.99" x2="495.80" y2="572.69" stroke="#fb9a55" stroke-width="1.3" stroke-dasharray="2.2 1.6"/>
<line x1="538.40" y1="572.69" x2="577.40" y2="562.02" stroke="#fb9a55" stroke-width="1.3" stroke-dasharray="2.2 1.6"/>
<line x1="212.00" y1="529.87" x2="251.00" y2="616.84" stroke="#4da3dc" stroke-width="1.3" stroke-dasharray="2.2 1.6"/>
<line x1="293.60" y1="616.84" x2="332.60" y2="608.25" stroke="#4da3dc" stroke-width="1.3" stroke-dasharray="2.2 1.6"/>
<line x1="375.20" y1="608.25" x2="414.20" y2="601.73" stroke="#4da3dc" stroke-width="1.3" stroke-dasharray="2.2 1.6"/>
<line x1="456.80" y1="601.73" x2="495.80" y2="586.47" stroke="#4da3dc" stroke-width="1.3" stroke-dasharray="2.2 1.6"/>
<line x1="538.40" y1="586.47" x2="577.40" y2="564.24" stroke="#4da3dc" stroke-width="1.3" stroke-dasharray="2.2 1.6"/>
<line x1="212.00" y1="529.87" x2="251.00" y2="621.73" stroke="#46b556" stroke-width="1.3" stroke-dasharray="2.2 1.6"/>
<line x1="293.60" y1="621.73" x2="332.60" y2="602.91" stroke="#46b556" stroke-width="1.3" stroke-dasharray="2.2 1.6"/>
<line x1="375.20" y1="602.91" x2="414.20" y2="602.62" stroke="#46b556" stroke-width="1.3" stroke-dasharray="2.2 1.6"/>
<line x1="456.80" y1="602.62" x2="495.80" y2="586.02" stroke="#46b556" stroke-width="1.3" stroke-dasharray="2.2 1.6"/>
<line x1="538.40" y1="586.02" x2="577.40" y2="569.13" stroke="#46b556" stroke-width="1.3" stroke-dasharray="2.2 1.6"/>
<line x1="169.40" y1="529.87" x2="212.00" y2="529.87" stroke="#fb9a55" stroke-width="1.7"/>
<line x1="251.00" y1="607.06" x2="293.60" y2="607.06" stroke="#fb9a55" stroke-width="1.7"/>
<line x1="332.60" y1="601.88" x2="375.20" y2="601.88" stroke="#fb9a55" stroke-width="1.7"/>
<line x1="414.20" y1="588.99" x2="456.80" y2="588.99" stroke="#fb9a55" stroke-width="1.7"/>
<line x1="495.80" y1="572.69" x2="538.40" y2="572.69" stroke="#fb9a55" stroke-width="1.7"/>
<line x1="577.40" y1="562.02" x2="620.00" y2="562.02" stroke="#fb9a55" stroke-width="1.7"/>
<line x1="169.40" y1="529.87" x2="212.00" y2="529.87" stroke="#4da3dc" stroke-width="1.7"/>
<line x1="251.00" y1="616.84" x2="293.60" y2="616.84" stroke="#4da3dc" stroke-width="1.7"/>
<line x1="332.60" y1="608.25" x2="375.20" y2="608.25" stroke="#4da3dc" stroke-width="1.7"/>
<line x1="414.20" y1="601.73" x2="456.80" y2="601.73" stroke="#4da3dc" stroke-width="1.7"/>
<line x1="495.80" y1="586.47" x2="538.40" y2="586.47" stroke="#4da3dc" stroke-width="1.7"/>
<line x1="577.40" y1="564.24" x2="620.00" y2="564.24" stroke="#4da3dc" stroke-width="1.7"/>
<line x1="169.40" y1="529.87" x2="212.00" y2="529.87" stroke="#46b556" stroke-width="1.7"/>
<line x1="251.00" y1="621.73" x2="293.60" y2="621.73" stroke="#46b556" stroke-width="1.7"/>
<line x1="332.60" y1="602.91" x2="375.20" y2="602.91" stroke="#46b556" stroke-width="1.7"/>
<line x1="414.20" y1="602.62" x2="456.80" y2="602.62" stroke="#46b556" stroke-width="1.7"/>
<line x1="495.80" y1="586.02" x2="538.40" y2="586.02" stroke="#46b556" stroke-width="1.7"/>
<line x1="577.40" y1="569.13" x2="620.00" y2="569.13" stroke="#46b556" stroke-width="1.7"/>
<rect x="148.6" y="470.6" width="494.4" height="177.79999999999995" fill="none" stroke="#333" stroke-width="1.8"/>
<line x1="144.1" y1="648.40" x2="148.6" y2="648.40" stroke="#222" stroke-width="1.5"/>
<text x="140.0" y="653.40" font-size="14.6" font-weight="bold" fill="#111" text-anchor="end" textLength="16.0" lengthAdjust="spacingAndGlyphs">-8</text>
<line x1="146.1" y1="633.58" x2="148.6" y2="633.58" stroke="#222" stroke-width="1.1"/>
<line x1="144.1" y1="618.77" x2="148.6" y2="618.77" stroke="#222" stroke-width="1.5"/>
<text x="140.0" y="623.77" font-size="14.6" font-weight="bold" fill="#111" text-anchor="end" textLength="16.0" lengthAdjust="spacingAndGlyphs">-6</text>
<line x1="146.1" y1="603.95" x2="148.6" y2="603.95" stroke="#222" stroke-width="1.1"/>
<line x1="144.1" y1="589.13" x2="148.6" y2="589.13" stroke="#222" stroke-width="1.5"/>
<text x="140.0" y="594.13" font-size="14.6" font-weight="bold" fill="#111" text-anchor="end" textLength="16.0" lengthAdjust="spacingAndGlyphs">-4</text>
<line x1="146.1" y1="574.32" x2="148.6" y2="574.32" stroke="#222" stroke-width="1.1"/>
<line x1="144.1" y1="559.50" x2="148.6" y2="559.50" stroke="#222" stroke-width="1.5"/>
<text x="140.0" y="564.50" font-size="14.6" font-weight="bold" fill="#111" text-anchor="end" textLength="16.0" lengthAdjust="spacingAndGlyphs">-2</text>
<line x1="146.1" y1="544.68" x2="148.6" y2="544.68" stroke="#222" stroke-width="1.1"/>
<line x1="144.1" y1="529.87" x2="148.6" y2="529.87" stroke="#222" stroke-width="1.5"/>
<text x="140.0" y="534.87" font-size="14.6" font-weight="bold" fill="#111" text-anchor="end" textLength="9.6" lengthAdjust="spacingAndGlyphs">0</text>
<line x1="146.1" y1="515.05" x2="148.6" y2="515.05" stroke="#222" stroke-width="1.1"/>
<line x1="144.1" y1="500.23" x2="148.6" y2="500.23" stroke="#222" stroke-width="1.5"/>
<text x="140.0" y="505.23" font-size="14.6" font-weight="bold" fill="#111" text-anchor="end" textLength="9.6" lengthAdjust="spacingAndGlyphs">2</text>
<line x1="146.1" y1="485.42" x2="148.6" y2="485.42" stroke="#222" stroke-width="1.1"/>
<line x1="144.1" y1="470.60" x2="148.6" y2="470.60" stroke="#222" stroke-width="1.5"/>
<text x="140.0" y="475.60" font-size="14.6" font-weight="bold" fill="#111" text-anchor="end" textLength="9.6" lengthAdjust="spacingAndGlyphs">4</text>
<rect x="239.7" y="473.4" width="112.5" height="71" rx="3" fill="#fff" fill-opacity="0.9" stroke="#dcdcdc" stroke-width="1"/>
<line x1="244.6" y1="484.30" x2="275.1" y2="484.30" stroke="#4da3dc" stroke-width="1.8"/>
<text x="286.40" y="489.40" font-size="13.7" font-weight="normal" fill="#2a2a2a" text-anchor="start" textLength="59.00" lengthAdjust="spacingAndGlyphs" stroke="#2a2a2a" stroke-width="0.2">O-CoSe<tspan font-size="9.86" dy="2.19">2</tspan></text>
<line x1="244.6" y1="506.60" x2="275.1" y2="506.60" stroke="#fb9a55" stroke-width="1.8"/>
<text x="286.40" y="511.70" font-size="13.7" font-weight="normal" fill="#2a2a2a" text-anchor="start" textLength="58.50" lengthAdjust="spacingAndGlyphs" stroke="#2a2a2a" stroke-width="0.2">C-CoSe<tspan font-size="9.86" dy="2.19">2</tspan></text>
<line x1="244.6" y1="528.90" x2="275.1" y2="528.90" stroke="#46b556" stroke-width="1.8"/>
<text x="286.40" y="534.00" font-size="13.7" font-weight="normal" fill="#2a2a2a" text-anchor="start" textLength="53.00" lengthAdjust="spacingAndGlyphs" stroke="#2a2a2a" stroke-width="0.2">Ti<tspan font-size="9.86" dy="2.19">3</tspan><tspan dy="-2.19">C</tspan><tspan font-size="9.86" dy="2.19">2</tspan><tspan dy="-2.19">O</tspan><tspan font-size="9.86" dy="2.19">2</tspan></text>
<text x="184.90" y="521.70" font-size="15" font-weight="bold" fill="#1a1a1a" text-anchor="start" textLength="14.40" lengthAdjust="spacingAndGlyphs" >S<tspan font-size="9.30" dy="3.30">8</tspan></text>
<text x="258.20" y="598.30" font-size="15" font-weight="bold" fill="#1a1a1a" text-anchor="start" textLength="29.70" lengthAdjust="spacingAndGlyphs" >Li<tspan font-size="9.30" dy="3.30">2</tspan><tspan dy="-3.30">S</tspan><tspan font-size="9.30" dy="3.30">8</tspan></text>
<text x="339.40" y="592.90" font-size="15" font-weight="bold" fill="#1a1a1a" text-anchor="start" textLength="31.00" lengthAdjust="spacingAndGlyphs" >Li<tspan font-size="9.30" dy="3.30">2</tspan><tspan dy="-3.30">S</tspan><tspan font-size="9.30" dy="3.30">6</tspan></text>
<text x="421.90" y="581.30" font-size="15" font-weight="bold" fill="#1a1a1a" text-anchor="start" textLength="31.00" lengthAdjust="spacingAndGlyphs" >Li<tspan font-size="9.30" dy="3.30">2</tspan><tspan dy="-3.30">S</tspan><tspan font-size="9.30" dy="3.30">4</tspan></text>
<text x="504.40" y="565.00" font-size="15" font-weight="bold" fill="#1a1a1a" text-anchor="start" textLength="29.80" lengthAdjust="spacingAndGlyphs" >Li<tspan font-size="9.30" dy="3.30">2</tspan><tspan dy="-3.30">S</tspan><tspan font-size="9.30" dy="3.30">2</tspan></text>
<text x="588.00" y="554.60" font-size="15" font-weight="bold" fill="#1a1a1a" text-anchor="start" textLength="24.20" lengthAdjust="spacingAndGlyphs" >Li<tspan font-size="9.30" dy="3.30">2</tspan><tspan dy="-3.30">S</tspan></text>
<text x="194.40" y="599.95" font-size="11.3" fill="#2e8fd0" stroke="#2e8fd0" stroke-width="0.25" textLength="40.00" lengthAdjust="spacingAndGlyphs">-5.87 eV</text>
<text x="194.40" y="614.65" font-size="11.3" fill="#f07b35" stroke="#f07b35" stroke-width="0.25" textLength="40.00" lengthAdjust="spacingAndGlyphs">-5.21 eV</text>
<text x="194.40" y="628.85" font-size="11.3" font-weight="bold" font-style="italic" fill="#2fae45" textLength="40.00" lengthAdjust="spacingAndGlyphs">-6.20 eV</text>
<line x1="194.40" y1="631.45" x2="234.40" y2="631.45" stroke="#2fae45" stroke-width="1.2" stroke-opacity="0.85"/>
<text x="293.80" y="568.25" font-size="11.3" fill="#2e8fd0" stroke="#2e8fd0" stroke-width="0.25" textLength="36.70" lengthAdjust="spacingAndGlyphs">0.58 eV</text>
<text x="293.80" y="582.75" font-size="11.3" font-weight="bold" font-style="italic" fill="#f07b35" textLength="36.70" lengthAdjust="spacingAndGlyphs">0.35 eV</text>
<line x1="293.80" y1="585.35" x2="330.50" y2="585.35" stroke="#f07b35" stroke-width="1.2" stroke-opacity="0.85"/>
<text x="293.80" y="596.95" font-size="11.3" fill="#2fae45" stroke="#2fae45" stroke-width="0.25" textLength="36.70" lengthAdjust="spacingAndGlyphs">1.27 eV</text>
<text x="375.50" y="557.25" font-size="11.3" fill="#2e8fd0" stroke="#2e8fd0" stroke-width="0.25" textLength="37.00" lengthAdjust="spacingAndGlyphs">0.44 eV</text>
<text x="375.50" y="571.45" font-size="11.3" fill="#f07b35" stroke="#f07b35" stroke-width="0.25" textLength="37.00" lengthAdjust="spacingAndGlyphs">0.87 eV</text>
<text x="375.50" y="585.75" font-size="11.3" font-weight="bold" font-style="italic" fill="#2fae45" textLength="37.00" lengthAdjust="spacingAndGlyphs">0.02 eV</text>
<line x1="375.50" y1="588.35" x2="412.50" y2="588.35" stroke="#2fae45" stroke-width="1.2" stroke-opacity="0.85"/>
<text x="457.00" y="541.95" font-size="11.3" font-weight="bold" font-style="italic" fill="#2e8fd0" textLength="37.30" lengthAdjust="spacingAndGlyphs">1.03 eV</text>
<line x1="457.00" y1="544.55" x2="494.30" y2="544.55" stroke="#2e8fd0" stroke-width="1.2" stroke-opacity="0.85"/>
<text x="457.00" y="556.45" font-size="11.3" fill="#f07b35" stroke="#f07b35" stroke-width="0.25" textLength="37.30" lengthAdjust="spacingAndGlyphs">1.10 eV</text>
<text x="457.00" y="570.75" font-size="11.3" fill="#2fae45" stroke="#2fae45" stroke-width="0.25" textLength="37.30" lengthAdjust="spacingAndGlyphs">1.12 eV</text>
<text x="541.00" y="529.95" font-size="11.3" fill="#2e8fd0" stroke="#2e8fd0" stroke-width="0.25" textLength="34.40" lengthAdjust="spacingAndGlyphs">1.50eV</text>
<text x="538.50" y="544.45" font-size="11.3" font-weight="bold" font-style="italic" fill="#f07b35" textLength="36.90" lengthAdjust="spacingAndGlyphs">0.72 eV</text>
<line x1="538.50" y1="547.05" x2="575.40" y2="547.05" stroke="#f07b35" stroke-width="1.2" stroke-opacity="0.85"/>
<text x="538.50" y="558.15" font-size="11.3" fill="#2fae45" stroke="#2fae45" stroke-width="0.25" textLength="36.90" lengthAdjust="spacingAndGlyphs">1.14 eV</text>
<text transform="translate(116.7,643.2) rotate(-90)" font-size="19" font-weight="bold" fill="#111" textLength="166.6" lengthAdjust="spacingAndGlyphs">Free Energy (eV)</text>
<text x="287.2" y="671.2" font-size="18.75" font-weight="bold" fill="#111" textLength="215.5" lengthAdjust="spacingAndGlyphs">Reaction Coordinates</text>
<text x="21.0" y="478.8" font-size="21" font-weight="bold" fill="#111">(d)</text>
<text x="21.0" y="715.0" font-size="22" font-weight="bold" fill="#111">(e)</text>
<text x="79.70" y="753.00" font-size="19.5" font-weight="bold" fill="#111" text-anchor="start" textLength="19.90" lengthAdjust="spacingAndGlyphs" >S<tspan font-size="13.65" dy="5.07">8</tspan></text>
<text x="186.30" y="715.40" font-size="19.5" font-weight="bold" fill="#111" text-anchor="start" textLength="41.40" lengthAdjust="spacingAndGlyphs" >Li<tspan font-size="13.65" dy="5.07">2</tspan><tspan dy="-5.07">S</tspan><tspan font-size="13.65" dy="5.07">8</tspan></text>
<text x="315.90" y="716.80" font-size="19.5" font-weight="bold" fill="#111" text-anchor="start" textLength="40.90" lengthAdjust="spacingAndGlyphs" >Li<tspan font-size="13.65" dy="5.07">2</tspan><tspan dy="-5.07">S</tspan><tspan font-size="13.65" dy="5.07">6</tspan></text>
<text x="408.80" y="721.25" font-size="19.5" font-weight="bold" fill="#111" text-anchor="start" textLength="41.80" lengthAdjust="spacingAndGlyphs" >Li<tspan font-size="13.65" dy="5.07">2</tspan><tspan dy="-5.07">S</tspan><tspan font-size="13.65" dy="5.07">4</tspan></text>
<text x="521.30" y="744.20" font-size="19.5" font-weight="bold" fill="#111" text-anchor="start" textLength="40.95" lengthAdjust="spacingAndGlyphs" >Li<tspan font-size="13.65" dy="5.07">2</tspan><tspan dy="-5.07">S</tspan><tspan font-size="13.65" dy="5.07">2</tspan></text>
<text x="638.80" y="761.70" font-size="19.5" font-weight="bold" fill="#111" text-anchor="start" textLength="33.90" lengthAdjust="spacingAndGlyphs" >Li<tspan font-size="13.65" dy="5.07">2</tspan><tspan dy="-5.07">S</tspan></text>
<line x1="75.77" y1="871.40" x2="73.25" y2="875.33" stroke="#94d4ee" stroke-width="1.25"/><line x1="73.25" y1="875.33" x2="70.73" y2="879.25" stroke="#9a6c4c" stroke-width="1.25"/><line x1="75.77" y1="871.40" x2="80.80" y2="875.33" stroke="#94d4ee" stroke-width="1.25"/><line x1="80.80" y1="875.33" x2="85.83" y2="879.25" stroke="#9a6c4c" stroke-width="1.25"/><line x1="75.77" y1="871.40" x2="73.25" y2="868.46" stroke="#94d4ee" stroke-width="1.25"/><line x1="73.25" y1="868.46" x2="70.73" y2="865.51" stroke="#f47070" stroke-width="1.25"/><line x1="75.77" y1="871.40" x2="80.80" y2="868.46" stroke="#94d4ee" stroke-width="1.25"/><line x1="80.80" y1="868.46" x2="85.83" y2="865.51" stroke="#f47070" stroke-width="1.25"/><line x1="90.87" y1="871.40" x2="88.35" y2="875.33" stroke="#94d4ee" stroke-width="1.25"/><line x1="88.35" y1="875.33" x2="85.83" y2="879.25" stroke="#9a6c4c" stroke-width="1.25"/><line x1="90.87" y1="871.40" x2="95.90" y2="875.33" stroke="#94d4ee" stroke-width="1.25"/><line x1="95.90" y1="875.33" x2="100.93" y2="879.25" stroke="#9a6c4c" stroke-width="1.25"/><line x1="90.87" y1="871.40" x2="88.35" y2="868.46" stroke="#94d4ee" stroke-width="1.25"/><line x1="88.35" y1="868.46" x2="85.83" y2="865.51" stroke="#f47070" stroke-width="1.25"/><line x1="90.87" y1="871.40" x2="95.90" y2="868.46" stroke="#94d4ee" stroke-width="1.25"/><line x1="95.90" y1="868.46" x2="100.93" y2="865.51" stroke="#f47070" stroke-width="1.25"/><line x1="105.97" y1="871.40" x2="103.45" y2="875.33" stroke="#94d4ee" stroke-width="1.25"/><line x1="103.45" y1="875.33" x2="100.93" y2="879.25" stroke="#9a6c4c" stroke-width="1.25"/><line x1="105.97" y1="871.40" x2="111.00" y2="875.33" stroke="#94d4ee" stroke-width="1.25"/><line x1="111.00" y1="875.33" x2="116.03" y2="879.25" stroke="#9a6c4c" stroke-width="1.25"/><line x1="105.97" y1="871.40" x2="103.45" y2="868.46" stroke="#94d4ee" stroke-width="1.25"/><line x1="103.45" y1="868.46" x2="100.93" y2="865.51" stroke="#f47070" stroke-width="1.25"/><line x1="105.97" y1="871.40" x2="111.00" y2="868.46" stroke="#94d4ee" stroke-width="1.25"/><line x1="111.00" y1="868.46" x2="116.03" y2="865.51" stroke="#f47070" stroke-width="1.25"/><line x1="121.07" y1="871.40" x2="118.55" y2="875.33" stroke="#94d4ee" stroke-width="1.25"/><line x1="118.55" y1="875.33" x2="116.03" y2="879.25" stroke="#9a6c4c" stroke-width="1.25"/><line x1="121.07" y1="871.40" x2="126.10" y2="875.33" stroke="#94d4ee" stroke-width="1.25"/><line x1="126.10" y1="875.33" x2="131.13" y2="879.25" stroke="#9a6c4c" stroke-width="1.25"/><line x1="121.07" y1="871.40" x2="118.55" y2="868.46" stroke="#94d4ee" stroke-width="1.25"/><line x1="118.55" y1="868.46" x2="116.03" y2="865.51" stroke="#f47070" stroke-width="1.25"/><line x1="121.07" y1="871.40" x2="126.10" y2="868.46" stroke="#94d4ee" stroke-width="1.25"/><line x1="126.10" y1="868.46" x2="131.13" y2="865.51" stroke="#f47070" stroke-width="1.25"/><line x1="136.17" y1="871.40" x2="133.65" y2="875.33" stroke="#94d4ee" stroke-width="1.25"/><line x1="133.65" y1="875.33" x2="131.13" y2="879.25" stroke="#9a6c4c" stroke-width="1.25"/><line x1="136.17" y1="871.40" x2="141.20" y2="875.33" stroke="#94d4ee" stroke-width="1.25"/><line x1="141.20" y1="875.33" x2="146.23" y2="879.25" stroke="#9a6c4c" stroke-width="1.25"/><line x1="136.17" y1="871.40" x2="133.65" y2="868.46" stroke="#94d4ee" stroke-width="1.25"/><line x1="133.65" y1="868.46" x2="131.13" y2="865.51" stroke="#f47070" stroke-width="1.25"/><line x1="136.17" y1="871.40" x2="141.20" y2="868.46" stroke="#94d4ee" stroke-width="1.25"/><line x1="141.20" y1="868.46" x2="146.23" y2="865.51" stroke="#f47070" stroke-width="1.25"/><line x1="151.27" y1="871.40" x2="148.75" y2="875.33" stroke="#94d4ee" stroke-width="1.25"/><line x1="148.75" y1="875.33" x2="146.23" y2="879.25" stroke="#9a6c4c" stroke-width="1.25"/><line x1="151.27" y1="871.40" x2="156.30" y2="875.33" stroke="#94d4ee" stroke-width="1.25"/><line x1="156.30" y1="875.33" x2="161.33" y2="879.25" stroke="#9a6c4c" stroke-width="1.25"/><line x1="151.27" y1="871.40" x2="148.75" y2="868.46" stroke="#94d4ee" stroke-width="1.25"/><line x1="148.75" y1="868.46" x2="146.23" y2="865.51" stroke="#f47070" stroke-width="1.25"/><line x1="151.27" y1="871.40" x2="156.30" y2="868.46" stroke="#94d4ee" stroke-width="1.25"/><line x1="156.30" y1="868.46" x2="161.33" y2="865.51" stroke="#f47070" stroke-width="1.25"/><line x1="166.37" y1="871.40" x2="163.85" y2="875.33" stroke="#94d4ee" stroke-width="1.25"/><line x1="163.85" y1="875.33" x2="161.33" y2="879.25" stroke="#9a6c4c" stroke-width="1.25"/><line x1="166.37" y1="871.40" x2="171.40" y2="875.33" stroke="#94d4ee" stroke-width="1.25"/><line x1="171.40" y1="875.33" x2="176.43" y2="879.25" stroke="#9a6c4c" stroke-width="1.25"/><line x1="166.37" y1="871.40" x2="163.85" y2="868.46" stroke="#94d4ee" stroke-width="1.25"/><line x1="163.85" y1="868.46" x2="161.33" y2="865.51" stroke="#f47070" stroke-width="1.25"/><line x1="166.37" y1="871.40" x2="171.40" y2="868.46" stroke="#94d4ee" stroke-width="1.25"/><line x1="171.40" y1="868.46" x2="176.43" y2="865.51" stroke="#f47070" stroke-width="1.25"/><line x1="181.47" y1="871.40" x2="178.95" y2="875.33" stroke="#94d4ee" stroke-width="1.25"/><line x1="178.95" y1="875.33" x2="176.43" y2="879.25" stroke="#9a6c4c" stroke-width="1.25"/><line x1="181.47" y1="871.40" x2="186.50" y2="875.33" stroke="#94d4ee" stroke-width="1.25"/><line x1="186.50" y1="875.33" x2="191.53" y2="879.25" stroke="#9a6c4c" stroke-width="1.25"/><line x1="181.47" y1="871.40" x2="178.95" y2="868.46" stroke="#94d4ee" stroke-width="1.25"/><line x1="178.95" y1="868.46" x2="176.43" y2="865.51" stroke="#f47070" stroke-width="1.25"/><line x1="181.47" y1="871.40" x2="186.50" y2="868.46" stroke="#94d4ee" stroke-width="1.25"/><line x1="186.50" y1="868.46" x2="191.53" y2="865.51" stroke="#f47070" stroke-width="1.25"/><line x1="196.57" y1="871.40" x2="194.05" y2="875.33" stroke="#94d4ee" stroke-width="1.25"/><line x1="194.05" y1="875.33" x2="191.53" y2="879.25" stroke="#9a6c4c" stroke-width="1.25"/><line x1="196.57" y1="871.40" x2="201.60" y2="875.33" stroke="#94d4ee" stroke-width="1.25"/><line x1="201.60" y1="875.33" x2="206.63" y2="879.25" stroke="#9a6c4c" stroke-width="1.25"/><line x1="196.57" y1="871.40" x2="194.05" y2="868.46" stroke="#94d4ee" stroke-width="1.25"/><line x1="194.05" y1="868.46" x2="191.53" y2="865.51" stroke="#f47070" stroke-width="1.25"/><line x1="196.57" y1="871.40" x2="201.60" y2="868.46" stroke="#94d4ee" stroke-width="1.25"/><line x1="201.60" y1="868.46" x2="206.63" y2="865.51" stroke="#f47070" stroke-width="1.25"/><line x1="211.67" y1="871.40" x2="209.15" y2="875.33" stroke="#94d4ee" stroke-width="1.25"/><line x1="209.15" y1="875.33" x2="206.63" y2="879.25" stroke="#9a6c4c" stroke-width="1.25"/><line x1="211.67" y1="871.40" x2="216.70" y2="875.33" stroke="#94d4ee" stroke-width="1.25"/><line x1="216.70" y1="875.33" x2="221.73" y2="879.25" stroke="#9a6c4c" stroke-width="1.25"/><line x1="211.67" y1="871.40" x2="209.15" y2="868.46" stroke="#94d4ee" stroke-width="1.25"/><line x1="209.15" y1="868.46" x2="206.63" y2="865.51" stroke="#f47070" stroke-width="1.25"/><line x1="211.67" y1="871.40" x2="216.70" y2="868.46" stroke="#94d4ee" stroke-width="1.25"/><line x1="216.70" y1="868.46" x2="221.73" y2="865.51" stroke="#f47070" stroke-width="1.25"/><line x1="226.77" y1="871.40" x2="224.25" y2="875.33" stroke="#94d4ee" stroke-width="1.25"/><line x1="224.25" y1="875.33" x2="221.73" y2="879.25" stroke="#9a6c4c" stroke-width="1.25"/><line x1="226.77" y1="871.40" x2="231.80" y2="875.33" stroke="#94d4ee" stroke-width="1.25"/><line x1="231.80" y1="875.33" x2="236.83" y2="879.25" stroke="#9a6c4c" stroke-width="1.25"/><line x1="226.77" y1="871.40" x2="224.25" y2="868.46" stroke="#94d4ee" stroke-width="1.25"/><line x1="224.25" y1="868.46" x2="221.73" y2="865.51" stroke="#f47070" stroke-width="1.25"/><line x1="226.77" y1="871.40" x2="231.80" y2="868.46" stroke="#94d4ee" stroke-width="1.25"/><line x1="231.80" y1="868.46" x2="236.83" y2="865.51" stroke="#f47070" stroke-width="1.25"/><line x1="241.87" y1="871.40" x2="239.35" y2="875.33" stroke="#94d4ee" stroke-width="1.25"/><line x1="239.35" y1="875.33" x2="236.83" y2="879.25" stroke="#9a6c4c" stroke-width="1.25"/><line x1="241.87" y1="871.40" x2="246.90" y2="875.33" stroke="#94d4ee" stroke-width="1.25"/><line x1="246.90" y1="875.33" x2="251.93" y2="879.25" stroke="#9a6c4c" stroke-width="1.25"/><line x1="241.87" y1="871.40" x2="239.35" y2="868.46" stroke="#94d4ee" stroke-width="1.25"/><line x1="239.35" y1="868.46" x2="236.83" y2="865.51" stroke="#f47070" stroke-width="1.25"/><line x1="241.87" y1="871.40" x2="246.90" y2="868.46" stroke="#94d4ee" stroke-width="1.25"/><line x1="246.90" y1="868.46" x2="251.93" y2="865.51" stroke="#f47070" stroke-width="1.25"/><line x1="256.97" y1="871.40" x2="254.45" y2="875.33" stroke="#94d4ee" stroke-width="1.25"/><line x1="254.45" y1="875.33" x2="251.93" y2="879.25" stroke="#9a6c4c" stroke-width="1.25"/><line x1="256.97" y1="871.40" x2="262.00" y2="875.33" stroke="#94d4ee" stroke-width="1.25"/><line x1="262.00" y1="875.33" x2="267.03" y2="879.25" stroke="#9a6c4c" stroke-width="1.25"/><line x1="256.97" y1="871.40" x2="254.45" y2="868.46" stroke="#94d4ee" stroke-width="1.25"/><line x1="254.45" y1="868.46" x2="251.93" y2="865.51" stroke="#f47070" stroke-width="1.25"/><line x1="256.97" y1="871.40" x2="262.00" y2="868.46" stroke="#94d4ee" stroke-width="1.25"/><line x1="262.00" y1="868.46" x2="267.03" y2="865.51" stroke="#f47070" stroke-width="1.25"/><line x1="272.07" y1="871.40" x2="269.55" y2="875.33" stroke="#94d4ee" stroke-width="1.25"/><line x1="269.55" y1="875.33" x2="267.03" y2="879.25" stroke="#9a6c4c" stroke-width="1.25"/><line x1="272.07" y1="871.40" x2="277.10" y2="875.33" stroke="#94d4ee" stroke-width="1.25"/><line x1="277.10" y1="875.33" x2="282.13" y2="879.25" stroke="#9a6c4c" stroke-width="1.25"/><line x1="272.07" y1="871.40" x2="269.55" y2="868.46" stroke="#94d4ee" stroke-width="1.25"/><line x1="269.55" y1="868.46" x2="267.03" y2="865.51" stroke="#f47070" stroke-width="1.25"/><line x1="272.07" y1="871.40" x2="277.10" y2="868.46" stroke="#94d4ee" stroke-width="1.25"/><line x1="277.10" y1="868.46" x2="282.13" y2="865.51" stroke="#f47070" stroke-width="1.25"/><line x1="287.17" y1="871.40" x2="284.65" y2="875.33" stroke="#94d4ee" stroke-width="1.25"/><line x1="284.65" y1="875.33" x2="282.13" y2="879.25" stroke="#9a6c4c" stroke-width="1.25"/><line x1="287.17" y1="871.40" x2="292.20" y2="875.33" stroke="#94d4ee" stroke-width="1.25"/><line x1="292.20" y1="875.33" x2="297.23" y2="879.25" stroke="#9a6c4c" stroke-width="1.25"/><line x1="287.17" y1="871.40" x2="284.65" y2="868.46" stroke="#94d4ee" stroke-width="1.25"/><line x1="284.65" y1="868.46" x2="282.13" y2="865.51" stroke="#f47070" stroke-width="1.25"/><line x1="287.17" y1="871.40" x2="292.20" y2="868.46" stroke="#94d4ee" stroke-width="1.25"/><line x1="292.20" y1="868.46" x2="297.23" y2="865.51" stroke="#f47070" stroke-width="1.25"/><line x1="302.27" y1="871.40" x2="299.75" y2="875.33" stroke="#94d4ee" stroke-width="1.25"/><line x1="299.75" y1="875.33" x2="297.23" y2="879.25" stroke="#9a6c4c" stroke-width="1.25"/><line x1="302.27" y1="871.40" x2="307.30" y2="875.33" stroke="#94d4ee" stroke-width="1.25"/><line x1="307.30" y1="875.33" x2="312.33" y2="879.25" stroke="#9a6c4c" stroke-width="1.25"/><line x1="302.27" y1="871.40" x2="299.75" y2="868.46" stroke="#94d4ee" stroke-width="1.25"/><line x1="299.75" y1="868.46" x2="297.23" y2="865.51" stroke="#f47070" stroke-width="1.25"/><line x1="302.27" y1="871.40" x2="307.30" y2="868.46" stroke="#94d4ee" stroke-width="1.25"/><line x1="307.30" y1="868.46" x2="312.33" y2="865.51" stroke="#f47070" stroke-width="1.25"/><line x1="317.37" y1="871.40" x2="314.85" y2="875.33" stroke="#94d4ee" stroke-width="1.25"/><line x1="314.85" y1="875.33" x2="312.33" y2="879.25" stroke="#9a6c4c" stroke-width="1.25"/><line x1="317.37" y1="871.40" x2="322.40" y2="875.33" stroke="#94d4ee" stroke-width="1.25"/><line x1="322.40" y1="875.33" x2="327.43" y2="879.25" stroke="#9a6c4c" stroke-width="1.25"/><line x1="317.37" y1="871.40" x2="314.85" y2="868.46" stroke="#94d4ee" stroke-width="1.25"/><line x1="314.85" y1="868.46" x2="312.33" y2="865.51" stroke="#f47070" stroke-width="1.25"/><line x1="317.37" y1="871.40" x2="322.40" y2="868.46" stroke="#94d4ee" stroke-width="1.25"/><line x1="322.40" y1="868.46" x2="327.43" y2="865.51" stroke="#f47070" stroke-width="1.25"/><line x1="332.47" y1="871.40" x2="329.95" y2="875.33" stroke="#94d4ee" stroke-width="1.25"/><line x1="329.95" y1="875.33" x2="327.43" y2="879.25" stroke="#9a6c4c" stroke-width="1.25"/><line x1="332.47" y1="871.40" x2="337.50" y2="875.33" stroke="#94d4ee" stroke-width="1.25"/><line x1="337.50" y1="875.33" x2="342.53" y2="879.25" stroke="#9a6c4c" stroke-width="1.25"/><line x1="332.47" y1="871.40" x2="329.95" y2="868.46" stroke="#94d4ee" stroke-width="1.25"/><line x1="329.95" y1="868.46" x2="327.43" y2="865.51" stroke="#f47070" stroke-width="1.25"/><line x1="332.47" y1="871.40" x2="337.50" y2="868.46" stroke="#94d4ee" stroke-width="1.25"/><line x1="337.50" y1="868.46" x2="342.53" y2="865.51" stroke="#f47070" stroke-width="1.25"/><line x1="347.57" y1="871.40" x2="345.05" y2="875.33" stroke="#94d4ee" stroke-width="1.25"/><line x1="345.05" y1="875.33" x2="342.53" y2="879.25" stroke="#9a6c4c" stroke-width="1.25"/><line x1="347.57" y1="871.40" x2="352.60" y2="875.33" stroke="#94d4ee" stroke-width="1.25"/><line x1="352.60" y1="875.33" x2="357.63" y2="879.25" stroke="#9a6c4c" stroke-width="1.25"/><line x1="347.57" y1="871.40" x2="345.05" y2="868.46" stroke="#94d4ee" stroke-width="1.25"/><line x1="345.05" y1="868.46" x2="342.53" y2="865.51" stroke="#f47070" stroke-width="1.25"/><line x1="347.57" y1="871.40" x2="352.60" y2="868.46" stroke="#94d4ee" stroke-width="1.25"/><line x1="352.60" y1="868.46" x2="357.63" y2="865.51" stroke="#f47070" stroke-width="1.25"/><line x1="362.67" y1="871.40" x2="360.15" y2="875.33" stroke="#94d4ee" stroke-width="1.25"/><line x1="360.15" y1="875.33" x2="357.63" y2="879.25" stroke="#9a6c4c" stroke-width="1.25"/><line x1="362.67" y1="871.40" x2="367.70" y2="875.33" stroke="#94d4ee" stroke-width="1.25"/><line x1="367.70" y1="875.33" x2="372.73" y2="879.25" stroke="#9a6c4c" stroke-width="1.25"/><line x1="362.67" y1="871.40" x2="360.15" y2="868.46" stroke="#94d4ee" stroke-width="1.25"/><line x1="360.15" y1="868.46" x2="357.63" y2="865.51" stroke="#f47070" stroke-width="1.25"/><line x1="362.67" y1="871.40" x2="367.70" y2="868.46" stroke="#94d4ee" stroke-width="1.25"/><line x1="367.70" y1="868.46" x2="372.73" y2="865.51" stroke="#f47070" stroke-width="1.25"/><line x1="377.77" y1="871.40" x2="375.25" y2="875.33" stroke="#94d4ee" stroke-width="1.25"/><line x1="375.25" y1="875.33" x2="372.73" y2="879.25" stroke="#9a6c4c" stroke-width="1.25"/><line x1="377.77" y1="871.40" x2="382.80" y2="875.33" stroke="#94d4ee" stroke-width="1.25"/><line x1="382.80" y1="875.33" x2="387.83" y2="879.25" stroke="#9a6c4c" stroke-width="1.25"/><line x1="377.77" y1="871.40" x2="375.25" y2="868.46" stroke="#94d4ee" stroke-width="1.25"/><line x1="375.25" y1="868.46" x2="372.73" y2="865.51" stroke="#f47070" stroke-width="1.25"/><line x1="377.77" y1="871.40" x2="382.80" y2="868.46" stroke="#94d4ee" stroke-width="1.25"/><line x1="382.80" y1="868.46" x2="387.83" y2="865.51" stroke="#f47070" stroke-width="1.25"/><line x1="392.87" y1="871.40" x2="390.35" y2="875.33" stroke="#94d4ee" stroke-width="1.25"/><line x1="390.35" y1="875.33" x2="387.83" y2="879.25" stroke="#9a6c4c" stroke-width="1.25"/><line x1="392.87" y1="871.40" x2="397.90" y2="875.33" stroke="#94d4ee" stroke-width="1.25"/><line x1="397.90" y1="875.33" x2="402.93" y2="879.25" stroke="#9a6c4c" stroke-width="1.25"/><line x1="392.87" y1="871.40" x2="390.35" y2="868.46" stroke="#94d4ee" stroke-width="1.25"/><line x1="390.35" y1="868.46" x2="387.83" y2="865.51" stroke="#f47070" stroke-width="1.25"/><line x1="392.87" y1="871.40" x2="397.90" y2="868.46" stroke="#94d4ee" stroke-width="1.25"/><line x1="397.90" y1="868.46" x2="402.93" y2="865.51" stroke="#f47070" stroke-width="1.25"/><line x1="407.97" y1="871.40" x2="405.45" y2="875.33" stroke="#94d4ee" stroke-width="1.25"/><line x1="405.45" y1="875.33" x2="402.93" y2="879.25" stroke="#9a6c4c" stroke-width="1.25"/><line x1="407.97" y1="871.40" x2="413.00" y2="875.33" stroke="#94d4ee" stroke-width="1.25"/><line x1="413.00" y1="875.33" x2="418.03" y2="879.25" stroke="#9a6c4c" stroke-width="1.25"/><line x1="407.97" y1="871.40" x2="405.45" y2="868.46" stroke="#94d4ee" stroke-width="1.25"/><line x1="405.45" y1="868.46" x2="402.93" y2="865.51" stroke="#f47070" stroke-width="1.25"/><line x1="407.97" y1="871.40" x2="413.00" y2="868.46" stroke="#94d4ee" stroke-width="1.25"/><line x1="413.00" y1="868.46" x2="418.03" y2="865.51" stroke="#f47070" stroke-width="1.25"/><line x1="423.07" y1="871.40" x2="420.55" y2="875.33" stroke="#94d4ee" stroke-width="1.25"/><line x1="420.55" y1="875.33" x2="418.03" y2="879.25" stroke="#9a6c4c" stroke-width="1.25"/><line x1="423.07" y1="871.40" x2="428.10" y2="875.33" stroke="#94d4ee" stroke-width="1.25"/><line x1="428.10" y1="875.33" x2="433.13" y2="879.25" stroke="#9a6c4c" stroke-width="1.25"/><line x1="423.07" y1="871.40" x2="420.55" y2="868.46" stroke="#94d4ee" stroke-width="1.25"/><line x1="420.55" y1="868.46" x2="418.03" y2="865.51" stroke="#f47070" stroke-width="1.25"/><line x1="423.07" y1="871.40" x2="428.10" y2="868.46" stroke="#94d4ee" stroke-width="1.25"/><line x1="428.10" y1="868.46" x2="433.13" y2="865.51" stroke="#f47070" stroke-width="1.25"/><line x1="438.17" y1="871.40" x2="435.65" y2="875.33" stroke="#94d4ee" stroke-width="1.25"/><line x1="435.65" y1="875.33" x2="433.13" y2="879.25" stroke="#9a6c4c" stroke-width="1.25"/><line x1="438.17" y1="871.40" x2="443.20" y2="875.33" stroke="#94d4ee" stroke-width="1.25"/><line x1="443.20" y1="875.33" x2="448.23" y2="879.25" stroke="#9a6c4c" stroke-width="1.25"/><line x1="438.17" y1="871.40" x2="435.65" y2="868.46" stroke="#94d4ee" stroke-width="1.25"/><line x1="435.65" y1="868.46" x2="433.13" y2="865.51" stroke="#f47070" stroke-width="1.25"/><line x1="438.17" y1="871.40" x2="443.20" y2="868.46" stroke="#94d4ee" stroke-width="1.25"/><line x1="443.20" y1="868.46" x2="448.23" y2="865.51" stroke="#f47070" stroke-width="1.25"/><line x1="453.27" y1="871.40" x2="450.75" y2="875.33" stroke="#94d4ee" stroke-width="1.25"/><line x1="450.75" y1="875.33" x2="448.23" y2="879.25" stroke="#9a6c4c" stroke-width="1.25"/><line x1="453.27" y1="871.40" x2="458.30" y2="875.33" stroke="#94d4ee" stroke-width="1.25"/><line x1="458.30" y1="875.33" x2="463.33" y2="879.25" stroke="#9a6c4c" stroke-width="1.25"/><line x1="453.27" y1="871.40" x2="450.75" y2="868.46" stroke="#94d4ee" stroke-width="1.25"/><line x1="450.75" y1="868.46" x2="448.23" y2="865.51" stroke="#f47070" stroke-width="1.25"/><line x1="453.27" y1="871.40" x2="458.30" y2="868.46" stroke="#94d4ee" stroke-width="1.25"/><line x1="458.30" y1="868.46" x2="463.33" y2="865.51" stroke="#f47070" stroke-width="1.25"/><line x1="468.37" y1="871.40" x2="465.85" y2="875.33" stroke="#94d4ee" stroke-width="1.25"/><line x1="465.85" y1="875.33" x2="463.33" y2="879.25" stroke="#9a6c4c" stroke-width="1.25"/><line x1="468.37" y1="871.40" x2="473.40" y2="875.33" stroke="#94d4ee" stroke-width="1.25"/><line x1="473.40" y1="875.33" x2="478.43" y2="879.25" stroke="#9a6c4c" stroke-width="1.25"/><line x1="468.37" y1="871.40" x2="465.85" y2="868.46" stroke="#94d4ee" stroke-width="1.25"/><line x1="465.85" y1="868.46" x2="463.33" y2="865.51" stroke="#f47070" stroke-width="1.25"/><line x1="468.37" y1="871.40" x2="473.40" y2="868.46" stroke="#94d4ee" stroke-width="1.25"/><line x1="473.40" y1="868.46" x2="478.43" y2="865.51" stroke="#f47070" stroke-width="1.25"/><line x1="483.47" y1="871.40" x2="480.95" y2="875.33" stroke="#94d4ee" stroke-width="1.25"/><line x1="480.95" y1="875.33" x2="478.43" y2="879.25" stroke="#9a6c4c" stroke-width="1.25"/><line x1="483.47" y1="871.40" x2="488.50" y2="875.33" stroke="#94d4ee" stroke-width="1.25"/><line x1="488.50" y1="875.33" x2="493.53" y2="879.25" stroke="#9a6c4c" stroke-width="1.25"/><line x1="483.47" y1="871.40" x2="480.95" y2="868.46" stroke="#94d4ee" stroke-width="1.25"/><line x1="480.95" y1="868.46" x2="478.43" y2="865.51" stroke="#f47070" stroke-width="1.25"/><line x1="483.47" y1="871.40" x2="488.50" y2="868.46" stroke="#94d4ee" stroke-width="1.25"/><line x1="488.50" y1="868.46" x2="493.53" y2="865.51" stroke="#f47070" stroke-width="1.25"/><line x1="498.57" y1="871.40" x2="496.05" y2="875.33" stroke="#94d4ee" stroke-width="1.25"/><line x1="496.05" y1="875.33" x2="493.53" y2="879.25" stroke="#9a6c4c" stroke-width="1.25"/><line x1="498.57" y1="871.40" x2="503.60" y2="875.33" stroke="#94d4ee" stroke-width="1.25"/><line x1="503.60" y1="875.33" x2="508.63" y2="879.25" stroke="#9a6c4c" stroke-width="1.25"/><line x1="498.57" y1="871.40" x2="496.05" y2="868.46" stroke="#94d4ee" stroke-width="1.25"/><line x1="496.05" y1="868.46" x2="493.53" y2="865.51" stroke="#f47070" stroke-width="1.25"/><line x1="498.57" y1="871.40" x2="503.60" y2="868.46" stroke="#94d4ee" stroke-width="1.25"/><line x1="503.60" y1="868.46" x2="508.63" y2="865.51" stroke="#f47070" stroke-width="1.25"/><line x1="513.67" y1="871.40" x2="511.15" y2="875.33" stroke="#94d4ee" stroke-width="1.25"/><line x1="511.15" y1="875.33" x2="508.63" y2="879.25" stroke="#9a6c4c" stroke-width="1.25"/><line x1="513.67" y1="871.40" x2="518.70" y2="875.33" stroke="#94d4ee" stroke-width="1.25"/><line x1="518.70" y1="875.33" x2="523.73" y2="879.25" stroke="#9a6c4c" stroke-width="1.25"/><line x1="513.67" y1="871.40" x2="511.15" y2="868.46" stroke="#94d4ee" stroke-width="1.25"/><line x1="511.15" y1="868.46" x2="508.63" y2="865.51" stroke="#f47070" stroke-width="1.25"/><line x1="513.67" y1="871.40" x2="518.70" y2="868.46" stroke="#94d4ee" stroke-width="1.25"/><line x1="518.70" y1="868.46" x2="523.73" y2="865.51" stroke="#f47070" stroke-width="1.25"/><line x1="528.77" y1="871.40" x2="526.25" y2="875.33" stroke="#94d4ee" stroke-width="1.25"/><line x1="526.25" y1="875.33" x2="523.73" y2="879.25" stroke="#9a6c4c" stroke-width="1.25"/><line x1="528.77" y1="871.40" x2="533.80" y2="875.33" stroke="#94d4ee" stroke-width="1.25"/><line x1="533.80" y1="875.33" x2="538.83" y2="879.25" stroke="#9a6c4c" stroke-width="1.25"/><line x1="528.77" y1="871.40" x2="526.25" y2="868.46" stroke="#94d4ee" stroke-width="1.25"/><line x1="526.25" y1="868.46" x2="523.73" y2="865.51" stroke="#f47070" stroke-width="1.25"/><line x1="528.77" y1="871.40" x2="533.80" y2="868.46" stroke="#94d4ee" stroke-width="1.25"/><line x1="533.80" y1="868.46" x2="538.83" y2="865.51" stroke="#f47070" stroke-width="1.25"/><line x1="543.87" y1="871.40" x2="541.35" y2="875.33" stroke="#94d4ee" stroke-width="1.25"/><line x1="541.35" y1="875.33" x2="538.83" y2="879.25" stroke="#9a6c4c" stroke-width="1.25"/><line x1="543.87" y1="871.40" x2="548.90" y2="875.33" stroke="#94d4ee" stroke-width="1.25"/><line x1="548.90" y1="875.33" x2="553.93" y2="879.25" stroke="#9a6c4c" stroke-width="1.25"/><line x1="543.87" y1="871.40" x2="541.35" y2="868.46" stroke="#94d4ee" stroke-width="1.25"/><line x1="541.35" y1="868.46" x2="538.83" y2="865.51" stroke="#f47070" stroke-width="1.25"/><line x1="543.87" y1="871.40" x2="548.90" y2="868.46" stroke="#94d4ee" stroke-width="1.25"/><line x1="548.90" y1="868.46" x2="553.93" y2="865.51" stroke="#f47070" stroke-width="1.25"/><line x1="558.97" y1="871.40" x2="556.45" y2="875.33" stroke="#94d4ee" stroke-width="1.25"/><line x1="556.45" y1="875.33" x2="553.93" y2="879.25" stroke="#9a6c4c" stroke-width="1.25"/><line x1="558.97" y1="871.40" x2="564.00" y2="875.33" stroke="#94d4ee" stroke-width="1.25"/><line x1="564.00" y1="875.33" x2="569.03" y2="879.25" stroke="#9a6c4c" stroke-width="1.25"/><line x1="558.97" y1="871.40" x2="556.45" y2="868.46" stroke="#94d4ee" stroke-width="1.25"/><line x1="556.45" y1="868.46" x2="553.93" y2="865.51" stroke="#f47070" stroke-width="1.25"/><line x1="558.97" y1="871.40" x2="564.00" y2="868.46" stroke="#94d4ee" stroke-width="1.25"/><line x1="564.00" y1="868.46" x2="569.03" y2="865.51" stroke="#f47070" stroke-width="1.25"/><line x1="574.07" y1="871.40" x2="571.55" y2="875.33" stroke="#94d4ee" stroke-width="1.25"/><line x1="571.55" y1="875.33" x2="569.03" y2="879.25" stroke="#9a6c4c" stroke-width="1.25"/><line x1="574.07" y1="871.40" x2="579.10" y2="875.33" stroke="#94d4ee" stroke-width="1.25"/><line x1="579.10" y1="875.33" x2="584.13" y2="879.25" stroke="#9a6c4c" stroke-width="1.25"/><line x1="574.07" y1="871.40" x2="571.55" y2="868.46" stroke="#94d4ee" stroke-width="1.25"/><line x1="571.55" y1="868.46" x2="569.03" y2="865.51" stroke="#f47070" stroke-width="1.25"/><line x1="574.07" y1="871.40" x2="579.10" y2="868.46" stroke="#94d4ee" stroke-width="1.25"/><line x1="579.10" y1="868.46" x2="584.13" y2="865.51" stroke="#f47070" stroke-width="1.25"/><line x1="589.17" y1="871.40" x2="586.65" y2="875.33" stroke="#94d4ee" stroke-width="1.25"/><line x1="586.65" y1="875.33" x2="584.13" y2="879.25" stroke="#9a6c4c" stroke-width="1.25"/><line x1="589.17" y1="871.40" x2="594.20" y2="875.33" stroke="#94d4ee" stroke-width="1.25"/><line x1="594.20" y1="875.33" x2="599.23" y2="879.25" stroke="#9a6c4c" stroke-width="1.25"/><line x1="589.17" y1="871.40" x2="586.65" y2="868.46" stroke="#94d4ee" stroke-width="1.25"/><line x1="586.65" y1="868.46" x2="584.13" y2="865.51" stroke="#f47070" stroke-width="1.25"/><line x1="589.17" y1="871.40" x2="594.20" y2="868.46" stroke="#94d4ee" stroke-width="1.25"/><line x1="594.20" y1="868.46" x2="599.23" y2="865.51" stroke="#f47070" stroke-width="1.25"/><line x1="604.27" y1="871.40" x2="601.75" y2="875.33" stroke="#94d4ee" stroke-width="1.25"/><line x1="601.75" y1="875.33" x2="599.23" y2="879.25" stroke="#9a6c4c" stroke-width="1.25"/><line x1="604.27" y1="871.40" x2="609.30" y2="875.33" stroke="#94d4ee" stroke-width="1.25"/><line x1="609.30" y1="875.33" x2="614.33" y2="879.25" stroke="#9a6c4c" stroke-width="1.25"/><line x1="604.27" y1="871.40" x2="601.75" y2="868.46" stroke="#94d4ee" stroke-width="1.25"/><line x1="601.75" y1="868.46" x2="599.23" y2="865.51" stroke="#f47070" stroke-width="1.25"/><line x1="604.27" y1="871.40" x2="609.30" y2="868.46" stroke="#94d4ee" stroke-width="1.25"/><line x1="609.30" y1="868.46" x2="614.33" y2="865.51" stroke="#f47070" stroke-width="1.25"/><line x1="619.37" y1="871.40" x2="616.85" y2="875.33" stroke="#94d4ee" stroke-width="1.25"/><line x1="616.85" y1="875.33" x2="614.33" y2="879.25" stroke="#9a6c4c" stroke-width="1.25"/><line x1="619.37" y1="871.40" x2="624.40" y2="875.33" stroke="#94d4ee" stroke-width="1.25"/><line x1="624.40" y1="875.33" x2="629.43" y2="879.25" stroke="#9a6c4c" stroke-width="1.25"/><line x1="619.37" y1="871.40" x2="616.85" y2="868.46" stroke="#94d4ee" stroke-width="1.25"/><line x1="616.85" y1="868.46" x2="614.33" y2="865.51" stroke="#f47070" stroke-width="1.25"/><line x1="619.37" y1="871.40" x2="624.40" y2="868.46" stroke="#94d4ee" stroke-width="1.25"/><line x1="624.40" y1="868.46" x2="629.43" y2="865.51" stroke="#f47070" stroke-width="1.25"/><line x1="634.47" y1="871.40" x2="631.95" y2="875.33" stroke="#94d4ee" stroke-width="1.25"/><line x1="631.95" y1="875.33" x2="629.43" y2="879.25" stroke="#9a6c4c" stroke-width="1.25"/><line x1="634.47" y1="871.40" x2="639.50" y2="875.33" stroke="#94d4ee" stroke-width="1.25"/><line x1="639.50" y1="875.33" x2="644.53" y2="879.25" stroke="#9a6c4c" stroke-width="1.25"/><line x1="634.47" y1="871.40" x2="631.95" y2="868.46" stroke="#94d4ee" stroke-width="1.25"/><line x1="631.95" y1="868.46" x2="629.43" y2="865.51" stroke="#f47070" stroke-width="1.25"/><line x1="634.47" y1="871.40" x2="639.50" y2="868.46" stroke="#94d4ee" stroke-width="1.25"/><line x1="639.50" y1="868.46" x2="644.53" y2="865.51" stroke="#f47070" stroke-width="1.25"/><line x1="649.57" y1="871.40" x2="647.05" y2="875.33" stroke="#94d4ee" stroke-width="1.25"/><line x1="647.05" y1="875.33" x2="644.53" y2="879.25" stroke="#9a6c4c" stroke-width="1.25"/><line x1="649.57" y1="871.40" x2="654.60" y2="875.33" stroke="#94d4ee" stroke-width="1.25"/><line x1="654.60" y1="875.33" x2="659.63" y2="879.25" stroke="#9a6c4c" stroke-width="1.25"/><line x1="649.57" y1="871.40" x2="647.05" y2="868.46" stroke="#94d4ee" stroke-width="1.25"/><line x1="647.05" y1="868.46" x2="644.53" y2="865.51" stroke="#f47070" stroke-width="1.25"/><line x1="649.57" y1="871.40" x2="654.60" y2="868.46" stroke="#94d4ee" stroke-width="1.25"/><line x1="654.60" y1="868.46" x2="659.63" y2="865.51" stroke="#f47070" stroke-width="1.25"/><line x1="664.67" y1="871.40" x2="662.15" y2="875.33" stroke="#94d4ee" stroke-width="1.25"/><line x1="662.15" y1="875.33" x2="659.63" y2="879.25" stroke="#9a6c4c" stroke-width="1.25"/><line x1="664.67" y1="871.40" x2="662.15" y2="868.46" stroke="#94d4ee" stroke-width="1.25"/><line x1="662.15" y1="868.46" x2="659.63" y2="865.51" stroke="#f47070" stroke-width="1.25"/><line x1="70.73" y1="879.25" x2="75.76" y2="882.88" stroke="#9a6c4c" stroke-width="1.25"/><line x1="75.76" y1="882.88" x2="80.80" y2="886.50" stroke="#94d4ee" stroke-width="1.25"/><line x1="85.83" y1="879.25" x2="83.31" y2="882.88" stroke="#9a6c4c" stroke-width="1.25"/><line x1="83.31" y1="882.88" x2="80.80" y2="886.50" stroke="#94d4ee" stroke-width="1.25"/><line x1="85.83" y1="879.25" x2="90.86" y2="882.88" stroke="#9a6c4c" stroke-width="1.25"/><line x1="90.86" y1="882.88" x2="95.90" y2="886.50" stroke="#94d4ee" stroke-width="1.25"/><line x1="100.93" y1="879.25" x2="98.41" y2="882.88" stroke="#9a6c4c" stroke-width="1.25"/><line x1="98.41" y1="882.88" x2="95.90" y2="886.50" stroke="#94d4ee" stroke-width="1.25"/><line x1="100.93" y1="879.25" x2="105.96" y2="882.88" stroke="#9a6c4c" stroke-width="1.25"/><line x1="105.96" y1="882.88" x2="111.00" y2="886.50" stroke="#94d4ee" stroke-width="1.25"/><line x1="116.03" y1="879.25" x2="113.51" y2="882.88" stroke="#9a6c4c" stroke-width="1.25"/><line x1="113.51" y1="882.88" x2="111.00" y2="886.50" stroke="#94d4ee" stroke-width="1.25"/><line x1="116.03" y1="879.25" x2="121.06" y2="882.88" stroke="#9a6c4c" stroke-width="1.25"/><line x1="121.06" y1="882.88" x2="126.10" y2="886.50" stroke="#94d4ee" stroke-width="1.25"/><line x1="131.13" y1="879.25" x2="128.61" y2="882.88" stroke="#9a6c4c" stroke-width="1.25"/><line x1="128.61" y1="882.88" x2="126.10" y2="886.50" stroke="#94d4ee" stroke-width="1.25"/><line x1="131.13" y1="879.25" x2="136.16" y2="882.88" stroke="#9a6c4c" stroke-width="1.25"/><line x1="136.16" y1="882.88" x2="141.20" y2="886.50" stroke="#94d4ee" stroke-width="1.25"/><line x1="146.23" y1="879.25" x2="143.71" y2="882.88" stroke="#9a6c4c" stroke-width="1.25"/><line x1="143.71" y1="882.88" x2="141.20" y2="886.50" stroke="#94d4ee" stroke-width="1.25"/><line x1="146.23" y1="879.25" x2="151.26" y2="882.88" stroke="#9a6c4c" stroke-width="1.25"/><line x1="151.26" y1="882.88" x2="156.30" y2="886.50" stroke="#94d4ee" stroke-width="1.25"/><line x1="161.33" y1="879.25" x2="158.81" y2="882.88" stroke="#9a6c4c" stroke-width="1.25"/><line x1="158.81" y1="882.88" x2="156.30" y2="886.50" stroke="#94d4ee" stroke-width="1.25"/><line x1="161.33" y1="879.25" x2="166.36" y2="882.88" stroke="#9a6c4c" stroke-width="1.25"/><line x1="166.36" y1="882.88" x2="171.40" y2="886.50" stroke="#94d4ee" stroke-width="1.25"/><line x1="176.43" y1="879.25" x2="173.91" y2="882.88" stroke="#9a6c4c" stroke-width="1.25"/><line x1="173.91" y1="882.88" x2="171.40" y2="886.50" stroke="#94d4ee" stroke-width="1.25"/><line x1="176.43" y1="879.25" x2="181.46" y2="882.88" stroke="#9a6c4c" stroke-width="1.25"/><line x1="181.46" y1="882.88" x2="186.50" y2="886.50" stroke="#94d4ee" stroke-width="1.25"/><line x1="191.53" y1="879.25" x2="189.01" y2="882.88" stroke="#9a6c4c" stroke-width="1.25"/><line x1="189.01" y1="882.88" x2="186.50" y2="886.50" stroke="#94d4ee" stroke-width="1.25"/><line x1="191.53" y1="879.25" x2="196.56" y2="882.88" stroke="#9a6c4c" stroke-width="1.25"/><line x1="196.56" y1="882.88" x2="201.60" y2="886.50" stroke="#94d4ee" stroke-width="1.25"/><line x1="206.63" y1="879.25" x2="204.11" y2="882.88" stroke="#9a6c4c" stroke-width="1.25"/><line x1="204.11" y1="882.88" x2="201.60" y2="886.50" stroke="#94d4ee" stroke-width="1.25"/><line x1="206.63" y1="879.25" x2="211.66" y2="882.88" stroke="#9a6c4c" stroke-width="1.25"/><line x1="211.66" y1="882.88" x2="216.70" y2="886.50" stroke="#94d4ee" stroke-width="1.25"/><line x1="221.73" y1="879.25" x2="219.21" y2="882.88" stroke="#9a6c4c" stroke-width="1.25"/><line x1="219.21" y1="882.88" x2="216.70" y2="886.50" stroke="#94d4ee" stroke-width="1.25"/><line x1="221.73" y1="879.25" x2="226.76" y2="882.88" stroke="#9a6c4c" stroke-width="1.25"/><line x1="226.76" y1="882.88" x2="231.80" y2="886.50" stroke="#94d4ee" stroke-width="1.25"/><line x1="236.83" y1="879.25" x2="234.31" y2="882.88" stroke="#9a6c4c" stroke-width="1.25"/><line x1="234.31" y1="882.88" x2="231.80" y2="886.50" stroke="#94d4ee" stroke-width="1.25"/><line x1="236.83" y1="879.25" x2="241.86" y2="882.88" stroke="#9a6c4c" stroke-width="1.25"/><line x1="241.86" y1="882.88" x2="246.90" y2="886.50" stroke="#94d4ee" stroke-width="1.25"/><line x1="251.93" y1="879.25" x2="249.41" y2="882.88" stroke="#9a6c4c" stroke-width="1.25"/><line x1="249.41" y1="882.88" x2="246.90" y2="886.50" stroke="#94d4ee" stroke-width="1.25"/><line x1="251.93" y1="879.25" x2="256.96" y2="882.88" stroke="#9a6c4c" stroke-width="1.25"/><line x1="256.96" y1="882.88" x2="262.00" y2="886.50" stroke="#94d4ee" stroke-width="1.25"/><line x1="267.03" y1="879.25" x2="264.51" y2="882.88" stroke="#9a6c4c" stroke-width="1.25"/><line x1="264.51" y1="882.88" x2="262.00" y2="886.50" stroke="#94d4ee" stroke-width="1.25"/><line x1="267.03" y1="879.25" x2="272.06" y2="882.88" stroke="#9a6c4c" stroke-width="1.25"/><line x1="272.06" y1="882.88" x2="277.10" y2="886.50" stroke="#94d4ee" stroke-width="1.25"/><line x1="282.13" y1="879.25" x2="279.61" y2="882.88" stroke="#9a6c4c" stroke-width="1.25"/><line x1="279.61" y1="882.88" x2="277.10" y2="886.50" stroke="#94d4ee" stroke-width="1.25"/><line x1="282.13" y1="879.25" x2="287.16" y2="882.88" stroke="#9a6c4c" stroke-width="1.25"/><line x1="287.16" y1="882.88" x2="292.20" y2="886.50" stroke="#94d4ee" stroke-width="1.25"/><line x1="297.23" y1="879.25" x2="294.71" y2="882.88" stroke="#9a6c4c" stroke-width="1.25"/><line x1="294.71" y1="882.88" x2="292.20" y2="886.50" stroke="#94d4ee" stroke-width="1.25"/><line x1="297.23" y1="879.25" x2="302.26" y2="882.88" stroke="#9a6c4c" stroke-width="1.25"/><line x1="302.26" y1="882.88" x2="307.30" y2="886.50" stroke="#94d4ee" stroke-width="1.25"/><line x1="312.33" y1="879.25" x2="309.81" y2="882.88" stroke="#9a6c4c" stroke-width="1.25"/><line x1="309.81" y1="882.88" x2="307.30" y2="886.50" stroke="#94d4ee" stroke-width="1.25"/><line x1="312.33" y1="879.25" x2="317.36" y2="882.88" stroke="#9a6c4c" stroke-width="1.25"/><line x1="317.36" y1="882.88" x2="322.40" y2="886.50" stroke="#94d4ee" stroke-width="1.25"/><line x1="327.43" y1="879.25" x2="324.91" y2="882.88" stroke="#9a6c4c" stroke-width="1.25"/><line x1="324.91" y1="882.88" x2="322.40" y2="886.50" stroke="#94d4ee" stroke-width="1.25"/><line x1="327.43" y1="879.25" x2="332.46" y2="882.88" stroke="#9a6c4c" stroke-width="1.25"/><line x1="332.46" y1="882.88" x2="337.50" y2="886.50" stroke="#94d4ee" stroke-width="1.25"/><line x1="342.53" y1="879.25" x2="340.01" y2="882.88" stroke="#9a6c4c" stroke-width="1.25"/><line x1="340.01" y1="882.88" x2="337.50" y2="886.50" stroke="#94d4ee" stroke-width="1.25"/><line x1="342.53" y1="879.25" x2="347.56" y2="882.88" stroke="#9a6c4c" stroke-width="1.25"/><line x1="347.56" y1="882.88" x2="352.60" y2="886.50" stroke="#94d4ee" stroke-width="1.25"/><line x1="357.63" y1="879.25" x2="355.11" y2="882.88" stroke="#9a6c4c" stroke-width="1.25"/><line x1="355.11" y1="882.88" x2="352.60" y2="886.50" stroke="#94d4ee" stroke-width="1.25"/><line x1="357.63" y1="879.25" x2="362.66" y2="882.88" stroke="#9a6c4c" stroke-width="1.25"/><line x1="362.66" y1="882.88" x2="367.70" y2="886.50" stroke="#94d4ee" stroke-width="1.25"/><line x1="372.73" y1="879.25" x2="370.21" y2="882.88" stroke="#9a6c4c" stroke-width="1.25"/><line x1="370.21" y1="882.88" x2="367.70" y2="886.50" stroke="#94d4ee" stroke-width="1.25"/><line x1="372.73" y1="879.25" x2="377.76" y2="882.88" stroke="#9a6c4c" stroke-width="1.25"/><line x1="377.76" y1="882.88" x2="382.80" y2="886.50" stroke="#94d4ee" stroke-width="1.25"/><line x1="387.83" y1="879.25" x2="385.31" y2="882.88" stroke="#9a6c4c" stroke-width="1.25"/><line x1="385.31" y1="882.88" x2="382.80" y2="886.50" stroke="#94d4ee" stroke-width="1.25"/><line x1="387.83" y1="879.25" x2="392.86" y2="882.88" stroke="#9a6c4c" stroke-width="1.25"/><line x1="392.86" y1="882.88" x2="397.90" y2="886.50" stroke="#94d4ee" stroke-width="1.25"/><line x1="402.93" y1="879.25" x2="400.41" y2="882.88" stroke="#9a6c4c" stroke-width="1.25"/><line x1="400.41" y1="882.88" x2="397.90" y2="886.50" stroke="#94d4ee" stroke-width="1.25"/><line x1="402.93" y1="879.25" x2="407.96" y2="882.88" stroke="#9a6c4c" stroke-width="1.25"/><line x1="407.96" y1="882.88" x2="413.00" y2="886.50" stroke="#94d4ee" stroke-width="1.25"/><line x1="418.03" y1="879.25" x2="415.51" y2="882.88" stroke="#9a6c4c" stroke-width="1.25"/><line x1="415.51" y1="882.88" x2="413.00" y2="886.50" stroke="#94d4ee" stroke-width="1.25"/><line x1="418.03" y1="879.25" x2="423.06" y2="882.88" stroke="#9a6c4c" stroke-width="1.25"/><line x1="423.06" y1="882.88" x2="428.10" y2="886.50" stroke="#94d4ee" stroke-width="1.25"/><line x1="433.13" y1="879.25" x2="430.61" y2="882.88" stroke="#9a6c4c" stroke-width="1.25"/><line x1="430.61" y1="882.88" x2="428.10" y2="886.50" stroke="#94d4ee" stroke-width="1.25"/><line x1="433.13" y1="879.25" x2="438.16" y2="882.88" stroke="#9a6c4c" stroke-width="1.25"/><line x1="438.16" y1="882.88" x2="443.20" y2="886.50" stroke="#94d4ee" stroke-width="1.25"/><line x1="448.23" y1="879.25" x2="445.71" y2="882.88" stroke="#9a6c4c" stroke-width="1.25"/><line x1="445.71" y1="882.88" x2="443.20" y2="886.50" stroke="#94d4ee" stroke-width="1.25"/><line x1="448.23" y1="879.25" x2="453.26" y2="882.88" stroke="#9a6c4c" stroke-width="1.25"/><line x1="453.26" y1="882.88" x2="458.30" y2="886.50" stroke="#94d4ee" stroke-width="1.25"/><line x1="463.33" y1="879.25" x2="460.81" y2="882.88" stroke="#9a6c4c" stroke-width="1.25"/><line x1="460.81" y1="882.88" x2="458.30" y2="886.50" stroke="#94d4ee" stroke-width="1.25"/><line x1="463.33" y1="879.25" x2="468.36" y2="882.88" stroke="#9a6c4c" stroke-width="1.25"/><line x1="468.36" y1="882.88" x2="473.40" y2="886.50" stroke="#94d4ee" stroke-width="1.25"/><line x1="478.43" y1="879.25" x2="475.91" y2="882.88" stroke="#9a6c4c" stroke-width="1.25"/><line x1="475.91" y1="882.88" x2="473.40" y2="886.50" stroke="#94d4ee" stroke-width="1.25"/><line x1="478.43" y1="879.25" x2="483.46" y2="882.88" stroke="#9a6c4c" stroke-width="1.25"/><line x1="483.46" y1="882.88" x2="488.50" y2="886.50" stroke="#94d4ee" stroke-width="1.25"/><line x1="493.53" y1="879.25" x2="491.01" y2="882.88" stroke="#9a6c4c" stroke-width="1.25"/><line x1="491.01" y1="882.88" x2="488.50" y2="886.50" stroke="#94d4ee" stroke-width="1.25"/><line x1="493.53" y1="879.25" x2="498.56" y2="882.88" stroke="#9a6c4c" stroke-width="1.25"/><line x1="498.56" y1="882.88" x2="503.60" y2="886.50" stroke="#94d4ee" stroke-width="1.25"/><line x1="508.63" y1="879.25" x2="506.11" y2="882.88" stroke="#9a6c4c" stroke-width="1.25"/><line x1="506.11" y1="882.88" x2="503.60" y2="886.50" stroke="#94d4ee" stroke-width="1.25"/><line x1="508.63" y1="879.25" x2="513.66" y2="882.88" stroke="#9a6c4c" stroke-width="1.25"/><line x1="513.66" y1="882.88" x2="518.70" y2="886.50" stroke="#94d4ee" stroke-width="1.25"/><line x1="523.73" y1="879.25" x2="521.21" y2="882.88" stroke="#9a6c4c" stroke-width="1.25"/><line x1="521.21" y1="882.88" x2="518.70" y2="886.50" stroke="#94d4ee" stroke-width="1.25"/><line x1="523.73" y1="879.25" x2="528.76" y2="882.88" stroke="#9a6c4c" stroke-width="1.25"/><line x1="528.76" y1="882.88" x2="533.80" y2="886.50" stroke="#94d4ee" stroke-width="1.25"/><line x1="538.83" y1="879.25" x2="536.31" y2="882.88" stroke="#9a6c4c" stroke-width="1.25"/><line x1="536.31" y1="882.88" x2="533.80" y2="886.50" stroke="#94d4ee" stroke-width="1.25"/><line x1="538.83" y1="879.25" x2="543.86" y2="882.88" stroke="#9a6c4c" stroke-width="1.25"/><line x1="543.86" y1="882.88" x2="548.90" y2="886.50" stroke="#94d4ee" stroke-width="1.25"/><line x1="553.93" y1="879.25" x2="551.41" y2="882.88" stroke="#9a6c4c" stroke-width="1.25"/><line x1="551.41" y1="882.88" x2="548.90" y2="886.50" stroke="#94d4ee" stroke-width="1.25"/><line x1="553.93" y1="879.25" x2="558.96" y2="882.88" stroke="#9a6c4c" stroke-width="1.25"/><line x1="558.96" y1="882.88" x2="564.00" y2="886.50" stroke="#94d4ee" stroke-width="1.25"/><line x1="569.03" y1="879.25" x2="566.51" y2="882.88" stroke="#9a6c4c" stroke-width="1.25"/><line x1="566.51" y1="882.88" x2="564.00" y2="886.50" stroke="#94d4ee" stroke-width="1.25"/><line x1="569.03" y1="879.25" x2="574.06" y2="882.88" stroke="#9a6c4c" stroke-width="1.25"/><line x1="574.06" y1="882.88" x2="579.10" y2="886.50" stroke="#94d4ee" stroke-width="1.25"/><line x1="584.13" y1="879.25" x2="581.61" y2="882.88" stroke="#9a6c4c" stroke-width="1.25"/><line x1="581.61" y1="882.88" x2="579.10" y2="886.50" stroke="#94d4ee" stroke-width="1.25"/><line x1="584.13" y1="879.25" x2="589.16" y2="882.88" stroke="#9a6c4c" stroke-width="1.25"/><line x1="589.16" y1="882.88" x2="594.20" y2="886.50" stroke="#94d4ee" stroke-width="1.25"/><line x1="599.23" y1="879.25" x2="596.71" y2="882.88" stroke="#9a6c4c" stroke-width="1.25"/><line x1="596.71" y1="882.88" x2="594.20" y2="886.50" stroke="#94d4ee" stroke-width="1.25"/><line x1="599.23" y1="879.25" x2="604.26" y2="882.88" stroke="#9a6c4c" stroke-width="1.25"/><line x1="604.26" y1="882.88" x2="609.30" y2="886.50" stroke="#94d4ee" stroke-width="1.25"/><line x1="614.33" y1="879.25" x2="611.81" y2="882.88" stroke="#9a6c4c" stroke-width="1.25"/><line x1="611.81" y1="882.88" x2="609.30" y2="886.50" stroke="#94d4ee" stroke-width="1.25"/><line x1="614.33" y1="879.25" x2="619.36" y2="882.88" stroke="#9a6c4c" stroke-width="1.25"/><line x1="619.36" y1="882.88" x2="624.40" y2="886.50" stroke="#94d4ee" stroke-width="1.25"/><line x1="629.43" y1="879.25" x2="626.91" y2="882.88" stroke="#9a6c4c" stroke-width="1.25"/><line x1="626.91" y1="882.88" x2="624.40" y2="886.50" stroke="#94d4ee" stroke-width="1.25"/><line x1="629.43" y1="879.25" x2="634.46" y2="882.88" stroke="#9a6c4c" stroke-width="1.25"/><line x1="634.46" y1="882.88" x2="639.50" y2="886.50" stroke="#94d4ee" stroke-width="1.25"/><line x1="644.53" y1="879.25" x2="642.01" y2="882.88" stroke="#9a6c4c" stroke-width="1.25"/><line x1="642.01" y1="882.88" x2="639.50" y2="886.50" stroke="#94d4ee" stroke-width="1.25"/><line x1="644.53" y1="879.25" x2="649.56" y2="882.88" stroke="#9a6c4c" stroke-width="1.25"/><line x1="649.56" y1="882.88" x2="654.60" y2="886.50" stroke="#94d4ee" stroke-width="1.25"/><line x1="659.63" y1="879.25" x2="657.11" y2="882.88" stroke="#9a6c4c" stroke-width="1.25"/><line x1="657.11" y1="882.88" x2="654.60" y2="886.50" stroke="#94d4ee" stroke-width="1.25"/><line x1="659.63" y1="879.25" x2="664.66" y2="882.88" stroke="#9a6c4c" stroke-width="1.25"/><line x1="664.66" y1="882.88" x2="669.70" y2="886.50" stroke="#94d4ee" stroke-width="1.25"/><line x1="80.80" y1="886.50" x2="78.29" y2="889.97" stroke="#94d4ee" stroke-width="1.25"/><line x1="78.29" y1="889.97" x2="75.77" y2="893.45" stroke="#9a6c4c" stroke-width="1.25"/><line x1="80.80" y1="886.50" x2="85.84" y2="889.97" stroke="#94d4ee" stroke-width="1.25"/><line x1="85.84" y1="889.97" x2="90.87" y2="893.45" stroke="#9a6c4c" stroke-width="1.25"/><line x1="95.90" y1="886.50" x2="93.39" y2="889.97" stroke="#94d4ee" stroke-width="1.25"/><line x1="93.39" y1="889.97" x2="90.87" y2="893.45" stroke="#9a6c4c" stroke-width="1.25"/><line x1="95.90" y1="886.50" x2="100.94" y2="889.97" stroke="#94d4ee" stroke-width="1.25"/><line x1="100.94" y1="889.97" x2="105.97" y2="893.45" stroke="#9a6c4c" stroke-width="1.25"/><line x1="111.00" y1="886.50" x2="108.49" y2="889.97" stroke="#94d4ee" stroke-width="1.25"/><line x1="108.49" y1="889.97" x2="105.97" y2="893.45" stroke="#9a6c4c" stroke-width="1.25"/><line x1="111.00" y1="886.50" x2="116.04" y2="889.97" stroke="#94d4ee" stroke-width="1.25"/><line x1="116.04" y1="889.97" x2="121.07" y2="893.45" stroke="#9a6c4c" stroke-width="1.25"/><line x1="126.10" y1="886.50" x2="123.59" y2="889.97" stroke="#94d4ee" stroke-width="1.25"/><line x1="123.59" y1="889.97" x2="121.07" y2="893.45" stroke="#9a6c4c" stroke-width="1.25"/><line x1="126.10" y1="886.50" x2="131.14" y2="889.97" stroke="#94d4ee" stroke-width="1.25"/><line x1="131.14" y1="889.97" x2="136.17" y2="893.45" stroke="#9a6c4c" stroke-width="1.25"/><line x1="141.20" y1="886.50" x2="138.69" y2="889.97" stroke="#94d4ee" stroke-width="1.25"/><line x1="138.69" y1="889.97" x2="136.17" y2="893.45" stroke="#9a6c4c" stroke-width="1.25"/><line x1="141.20" y1="886.50" x2="146.24" y2="889.97" stroke="#94d4ee" stroke-width="1.25"/><line x1="146.24" y1="889.97" x2="151.27" y2="893.45" stroke="#9a6c4c" stroke-width="1.25"/><line x1="156.30" y1="886.50" x2="153.79" y2="889.97" stroke="#94d4ee" stroke-width="1.25"/><line x1="153.79" y1="889.97" x2="151.27" y2="893.45" stroke="#9a6c4c" stroke-width="1.25"/><line x1="156.30" y1="886.50" x2="161.34" y2="889.97" stroke="#94d4ee" stroke-width="1.25"/><line x1="161.34" y1="889.97" x2="166.37" y2="893.45" stroke="#9a6c4c" stroke-width="1.25"/><line x1="171.40" y1="886.50" x2="168.89" y2="889.97" stroke="#94d4ee" stroke-width="1.25"/><line x1="168.89" y1="889.97" x2="166.37" y2="893.45" stroke="#9a6c4c" stroke-width="1.25"/><line x1="171.40" y1="886.50" x2="176.44" y2="889.97" stroke="#94d4ee" stroke-width="1.25"/><line x1="176.44" y1="889.97" x2="181.47" y2="893.45" stroke="#9a6c4c" stroke-width="1.25"/><line x1="186.50" y1="886.50" x2="183.99" y2="889.97" stroke="#94d4ee" stroke-width="1.25"/><line x1="183.99" y1="889.97" x2="181.47" y2="893.45" stroke="#9a6c4c" stroke-width="1.25"/><line x1="186.50" y1="886.50" x2="191.54" y2="889.97" stroke="#94d4ee" stroke-width="1.25"/><line x1="191.54" y1="889.97" x2="196.57" y2="893.45" stroke="#9a6c4c" stroke-width="1.25"/><line x1="201.60" y1="886.50" x2="199.09" y2="889.97" stroke="#94d4ee" stroke-width="1.25"/><line x1="199.09" y1="889.97" x2="196.57" y2="893.45" stroke="#9a6c4c" stroke-width="1.25"/><line x1="201.60" y1="886.50" x2="206.64" y2="889.97" stroke="#94d4ee" stroke-width="1.25"/><line x1="206.64" y1="889.97" x2="211.67" y2="893.45" stroke="#9a6c4c" stroke-width="1.25"/><line x1="216.70" y1="886.50" x2="214.19" y2="889.97" stroke="#94d4ee" stroke-width="1.25"/><line x1="214.19" y1="889.97" x2="211.67" y2="893.45" stroke="#9a6c4c" stroke-width="1.25"/><line x1="216.70" y1="886.50" x2="221.74" y2="889.97" stroke="#94d4ee" stroke-width="1.25"/><line x1="221.74" y1="889.97" x2="226.77" y2="893.45" stroke="#9a6c4c" stroke-width="1.25"/><line x1="231.80" y1="886.50" x2="229.29" y2="889.97" stroke="#94d4ee" stroke-width="1.25"/><line x1="229.29" y1="889.97" x2="226.77" y2="893.45" stroke="#9a6c4c" stroke-width="1.25"/><line x1="231.80" y1="886.50" x2="236.84" y2="889.97" stroke="#94d4ee" stroke-width="1.25"/><line x1="236.84" y1="889.97" x2="241.87" y2="893.45" stroke="#9a6c4c" stroke-width="1.25"/><line x1="246.90" y1="886.50" x2="244.39" y2="889.97" stroke="#94d4ee" stroke-width="1.25"/><line x1="244.39" y1="889.97" x2="241.87" y2="893.45" stroke="#9a6c4c" stroke-width="1.25"/><line x1="246.90" y1="886.50" x2="251.94" y2="889.97" stroke="#94d4ee" stroke-width="1.25"/><line x1="251.94" y1="889.97" x2="256.97" y2="893.45" stroke="#9a6c4c" stroke-width="1.25"/><line x1="262.00" y1="886.50" x2="259.49" y2="889.97" stroke="#94d4ee" stroke-width="1.25"/><line x1="259.49" y1="889.97" x2="256.97" y2="893.45" stroke="#9a6c4c" stroke-width="1.25"/><line x1="262.00" y1="886.50" x2="267.04" y2="889.97" stroke="#94d4ee" stroke-width="1.25"/><line x1="267.04" y1="889.97" x2="272.07" y2="893.45" stroke="#9a6c4c" stroke-width="1.25"/><line x1="277.10" y1="886.50" x2="274.59" y2="889.97" stroke="#94d4ee" stroke-width="1.25"/><line x1="274.59" y1="889.97" x2="272.07" y2="893.45" stroke="#9a6c4c" stroke-width="1.25"/><line x1="277.10" y1="886.50" x2="282.14" y2="889.97" stroke="#94d4ee" stroke-width="1.25"/><line x1="282.14" y1="889.97" x2="287.17" y2="893.45" stroke="#9a6c4c" stroke-width="1.25"/><line x1="292.20" y1="886.50" x2="289.69" y2="889.97" stroke="#94d4ee" stroke-width="1.25"/><line x1="289.69" y1="889.97" x2="287.17" y2="893.45" stroke="#9a6c4c" stroke-width="1.25"/><line x1="292.20" y1="886.50" x2="297.24" y2="889.97" stroke="#94d4ee" stroke-width="1.25"/><line x1="297.24" y1="889.97" x2="302.27" y2="893.45" stroke="#9a6c4c" stroke-width="1.25"/><line x1="307.30" y1="886.50" x2="304.79" y2="889.97" stroke="#94d4ee" stroke-width="1.25"/><line x1="304.79" y1="889.97" x2="302.27" y2="893.45" stroke="#9a6c4c" stroke-width="1.25"/><line x1="307.30" y1="886.50" x2="312.34" y2="889.97" stroke="#94d4ee" stroke-width="1.25"/><line x1="312.34" y1="889.97" x2="317.37" y2="893.45" stroke="#9a6c4c" stroke-width="1.25"/><line x1="322.40" y1="886.50" x2="319.89" y2="889.97" stroke="#94d4ee" stroke-width="1.25"/><line x1="319.89" y1="889.97" x2="317.37" y2="893.45" stroke="#9a6c4c" stroke-width="1.25"/><line x1="322.40" y1="886.50" x2="327.44" y2="889.97" stroke="#94d4ee" stroke-width="1.25"/><line x1="327.44" y1="889.97" x2="332.47" y2="893.45" stroke="#9a6c4c" stroke-width="1.25"/><line x1="337.50" y1="886.50" x2="334.99" y2="889.97" stroke="#94d4ee" stroke-width="1.25"/><line x1="334.99" y1="889.97" x2="332.47" y2="893.45" stroke="#9a6c4c" stroke-width="1.25"/><line x1="337.50" y1="886.50" x2="342.54" y2="889.97" stroke="#94d4ee" stroke-width="1.25"/><line x1="342.54" y1="889.97" x2="347.57" y2="893.45" stroke="#9a6c4c" stroke-width="1.25"/><line x1="352.60" y1="886.50" x2="350.09" y2="889.97" stroke="#94d4ee" stroke-width="1.25"/><line x1="350.09" y1="889.97" x2="347.57" y2="893.45" stroke="#9a6c4c" stroke-width="1.25"/><line x1="352.60" y1="886.50" x2="357.64" y2="889.97" stroke="#94d4ee" stroke-width="1.25"/><line x1="357.64" y1="889.97" x2="362.67" y2="893.45" stroke="#9a6c4c" stroke-width="1.25"/><line x1="367.70" y1="886.50" x2="365.19" y2="889.97" stroke="#94d4ee" stroke-width="1.25"/><line x1="365.19" y1="889.97" x2="362.67" y2="893.45" stroke="#9a6c4c" stroke-width="1.25"/><line x1="367.70" y1="886.50" x2="372.74" y2="889.97" stroke="#94d4ee" stroke-width="1.25"/><line x1="372.74" y1="889.97" x2="377.77" y2="893.45" stroke="#9a6c4c" stroke-width="1.25"/><line x1="382.80" y1="886.50" x2="380.29" y2="889.97" stroke="#94d4ee" stroke-width="1.25"/><line x1="380.29" y1="889.97" x2="377.77" y2="893.45" stroke="#9a6c4c" stroke-width="1.25"/><line x1="382.80" y1="886.50" x2="387.84" y2="889.97" stroke="#94d4ee" stroke-width="1.25"/><line x1="387.84" y1="889.97" x2="392.87" y2="893.45" stroke="#9a6c4c" stroke-width="1.25"/><line x1="397.90" y1="886.50" x2="395.39" y2="889.97" stroke="#94d4ee" stroke-width="1.25"/><line x1="395.39" y1="889.97" x2="392.87" y2="893.45" stroke="#9a6c4c" stroke-width="1.25"/><line x1="397.90" y1="886.50" x2="402.94" y2="889.97" stroke="#94d4ee" stroke-width="1.25"/><line x1="402.94" y1="889.97" x2="407.97" y2="893.45" stroke="#9a6c4c" stroke-width="1.25"/><line x1="413.00" y1="886.50" x2="410.49" y2="889.97" stroke="#94d4ee" stroke-width="1.25"/><line x1="410.49" y1="889.97" x2="407.97" y2="893.45" stroke="#9a6c4c" stroke-width="1.25"/><line x1="413.00" y1="886.50" x2="418.04" y2="889.97" stroke="#94d4ee" stroke-width="1.25"/><line x1="418.04" y1="889.97" x2="423.07" y2="893.45" stroke="#9a6c4c" stroke-width="1.25"/><line x1="428.10" y1="886.50" x2="425.59" y2="889.97" stroke="#94d4ee" stroke-width="1.25"/><line x1="425.59" y1="889.97" x2="423.07" y2="893.45" stroke="#9a6c4c" stroke-width="1.25"/><line x1="428.10" y1="886.50" x2="433.14" y2="889.97" stroke="#94d4ee" stroke-width="1.25"/><line x1="433.14" y1="889.97" x2="438.17" y2="893.45" stroke="#9a6c4c" stroke-width="1.25"/><line x1="443.20" y1="886.50" x2="440.69" y2="889.97" stroke="#94d4ee" stroke-width="1.25"/><line x1="440.69" y1="889.97" x2="438.17" y2="893.45" stroke="#9a6c4c" stroke-width="1.25"/><line x1="443.20" y1="886.50" x2="448.24" y2="889.97" stroke="#94d4ee" stroke-width="1.25"/><line x1="448.24" y1="889.97" x2="453.27" y2="893.45" stroke="#9a6c4c" stroke-width="1.25"/><line x1="458.30" y1="886.50" x2="455.79" y2="889.97" stroke="#94d4ee" stroke-width="1.25"/><line x1="455.79" y1="889.97" x2="453.27" y2="893.45" stroke="#9a6c4c" stroke-width="1.25"/><line x1="458.30" y1="886.50" x2="463.34" y2="889.97" stroke="#94d4ee" stroke-width="1.25"/><line x1="463.34" y1="889.97" x2="468.37" y2="893.45" stroke="#9a6c4c" stroke-width="1.25"/><line x1="473.40" y1="886.50" x2="470.89" y2="889.97" stroke="#94d4ee" stroke-width="1.25"/><line x1="470.89" y1="889.97" x2="468.37" y2="893.45" stroke="#9a6c4c" stroke-width="1.25"/><line x1="473.40" y1="886.50" x2="478.44" y2="889.97" stroke="#94d4ee" stroke-width="1.25"/><line x1="478.44" y1="889.97" x2="483.47" y2="893.45" stroke="#9a6c4c" stroke-width="1.25"/><line x1="488.50" y1="886.50" x2="485.99" y2="889.97" stroke="#94d4ee" stroke-width="1.25"/><line x1="485.99" y1="889.97" x2="483.47" y2="893.45" stroke="#9a6c4c" stroke-width="1.25"/><line x1="488.50" y1="886.50" x2="493.54" y2="889.97" stroke="#94d4ee" stroke-width="1.25"/><line x1="493.54" y1="889.97" x2="498.57" y2="893.45" stroke="#9a6c4c" stroke-width="1.25"/><line x1="503.60" y1="886.50" x2="501.09" y2="889.97" stroke="#94d4ee" stroke-width="1.25"/><line x1="501.09" y1="889.97" x2="498.57" y2="893.45" stroke="#9a6c4c" stroke-width="1.25"/><line x1="503.60" y1="886.50" x2="508.64" y2="889.97" stroke="#94d4ee" stroke-width="1.25"/><line x1="508.64" y1="889.97" x2="513.67" y2="893.45" stroke="#9a6c4c" stroke-width="1.25"/><line x1="518.70" y1="886.50" x2="516.19" y2="889.97" stroke="#94d4ee" stroke-width="1.25"/><line x1="516.19" y1="889.97" x2="513.67" y2="893.45" stroke="#9a6c4c" stroke-width="1.25"/><line x1="518.70" y1="886.50" x2="523.74" y2="889.97" stroke="#94d4ee" stroke-width="1.25"/><line x1="523.74" y1="889.97" x2="528.77" y2="893.45" stroke="#9a6c4c" stroke-width="1.25"/><line x1="533.80" y1="886.50" x2="531.29" y2="889.97" stroke="#94d4ee" stroke-width="1.25"/><line x1="531.29" y1="889.97" x2="528.77" y2="893.45" stroke="#9a6c4c" stroke-width="1.25"/><line x1="533.80" y1="886.50" x2="538.84" y2="889.97" stroke="#94d4ee" stroke-width="1.25"/><line x1="538.84" y1="889.97" x2="543.87" y2="893.45" stroke="#9a6c4c" stroke-width="1.25"/><line x1="548.90" y1="886.50" x2="546.39" y2="889.97" stroke="#94d4ee" stroke-width="1.25"/><line x1="546.39" y1="889.97" x2="543.87" y2="893.45" stroke="#9a6c4c" stroke-width="1.25"/><line x1="548.90" y1="886.50" x2="553.94" y2="889.97" stroke="#94d4ee" stroke-width="1.25"/><line x1="553.94" y1="889.97" x2="558.97" y2="893.45" stroke="#9a6c4c" stroke-width="1.25"/><line x1="564.00" y1="886.50" x2="561.49" y2="889.97" stroke="#94d4ee" stroke-width="1.25"/><line x1="561.49" y1="889.97" x2="558.97" y2="893.45" stroke="#9a6c4c" stroke-width="1.25"/><line x1="564.00" y1="886.50" x2="569.04" y2="889.97" stroke="#94d4ee" stroke-width="1.25"/><line x1="569.04" y1="889.97" x2="574.07" y2="893.45" stroke="#9a6c4c" stroke-width="1.25"/><line x1="579.10" y1="886.50" x2="576.59" y2="889.97" stroke="#94d4ee" stroke-width="1.25"/><line x1="576.59" y1="889.97" x2="574.07" y2="893.45" stroke="#9a6c4c" stroke-width="1.25"/><line x1="579.10" y1="886.50" x2="584.14" y2="889.97" stroke="#94d4ee" stroke-width="1.25"/><line x1="584.14" y1="889.97" x2="589.17" y2="893.45" stroke="#9a6c4c" stroke-width="1.25"/><line x1="594.20" y1="886.50" x2="591.69" y2="889.97" stroke="#94d4ee" stroke-width="1.25"/><line x1="591.69" y1="889.97" x2="589.17" y2="893.45" stroke="#9a6c4c" stroke-width="1.25"/><line x1="594.20" y1="886.50" x2="599.24" y2="889.97" stroke="#94d4ee" stroke-width="1.25"/><line x1="599.24" y1="889.97" x2="604.27" y2="893.45" stroke="#9a6c4c" stroke-width="1.25"/><line x1="609.30" y1="886.50" x2="606.79" y2="889.97" stroke="#94d4ee" stroke-width="1.25"/><line x1="606.79" y1="889.97" x2="604.27" y2="893.45" stroke="#9a6c4c" stroke-width="1.25"/><line x1="609.30" y1="886.50" x2="614.34" y2="889.97" stroke="#94d4ee" stroke-width="1.25"/><line x1="614.34" y1="889.97" x2="619.37" y2="893.45" stroke="#9a6c4c" stroke-width="1.25"/><line x1="624.40" y1="886.50" x2="621.89" y2="889.97" stroke="#94d4ee" stroke-width="1.25"/><line x1="621.89" y1="889.97" x2="619.37" y2="893.45" stroke="#9a6c4c" stroke-width="1.25"/><line x1="624.40" y1="886.50" x2="629.44" y2="889.97" stroke="#94d4ee" stroke-width="1.25"/><line x1="629.44" y1="889.97" x2="634.47" y2="893.45" stroke="#9a6c4c" stroke-width="1.25"/><line x1="639.50" y1="886.50" x2="636.99" y2="889.97" stroke="#94d4ee" stroke-width="1.25"/><line x1="636.99" y1="889.97" x2="634.47" y2="893.45" stroke="#9a6c4c" stroke-width="1.25"/><line x1="639.50" y1="886.50" x2="644.54" y2="889.97" stroke="#94d4ee" stroke-width="1.25"/><line x1="644.54" y1="889.97" x2="649.57" y2="893.45" stroke="#9a6c4c" stroke-width="1.25"/><line x1="654.60" y1="886.50" x2="652.09" y2="889.97" stroke="#94d4ee" stroke-width="1.25"/><line x1="652.09" y1="889.97" x2="649.57" y2="893.45" stroke="#9a6c4c" stroke-width="1.25"/><line x1="654.60" y1="886.50" x2="659.64" y2="889.97" stroke="#94d4ee" stroke-width="1.25"/><line x1="659.64" y1="889.97" x2="664.67" y2="893.45" stroke="#9a6c4c" stroke-width="1.25"/><line x1="669.70" y1="886.50" x2="667.19" y2="889.97" stroke="#94d4ee" stroke-width="1.25"/><line x1="667.19" y1="889.97" x2="664.67" y2="893.45" stroke="#9a6c4c" stroke-width="1.25"/><line x1="75.77" y1="893.45" x2="73.25" y2="897.37" stroke="#9a6c4c" stroke-width="1.25"/><line x1="73.25" y1="897.37" x2="70.73" y2="901.30" stroke="#94d4ee" stroke-width="1.25"/><line x1="75.77" y1="893.45" x2="80.80" y2="897.37" stroke="#9a6c4c" stroke-width="1.25"/><line x1="80.80" y1="897.37" x2="85.83" y2="901.30" stroke="#94d4ee" stroke-width="1.25"/><line x1="90.87" y1="893.45" x2="88.35" y2="897.37" stroke="#9a6c4c" stroke-width="1.25"/><line x1="88.35" y1="897.37" x2="85.83" y2="901.30" stroke="#94d4ee" stroke-width="1.25"/><line x1="90.87" y1="893.45" x2="95.90" y2="897.37" stroke="#9a6c4c" stroke-width="1.25"/><line x1="95.90" y1="897.37" x2="100.93" y2="901.30" stroke="#94d4ee" stroke-width="1.25"/><line x1="105.97" y1="893.45" x2="103.45" y2="897.37" stroke="#9a6c4c" stroke-width="1.25"/><line x1="103.45" y1="897.37" x2="100.93" y2="901.30" stroke="#94d4ee" stroke-width="1.25"/><line x1="105.97" y1="893.45" x2="111.00" y2="897.37" stroke="#9a6c4c" stroke-width="1.25"/><line x1="111.00" y1="897.37" x2="116.03" y2="901.30" stroke="#94d4ee" stroke-width="1.25"/><line x1="121.07" y1="893.45" x2="118.55" y2="897.37" stroke="#9a6c4c" stroke-width="1.25"/><line x1="118.55" y1="897.37" x2="116.03" y2="901.30" stroke="#94d4ee" stroke-width="1.25"/><line x1="121.07" y1="893.45" x2="126.10" y2="897.37" stroke="#9a6c4c" stroke-width="1.25"/><line x1="126.10" y1="897.37" x2="131.13" y2="901.30" stroke="#94d4ee" stroke-width="1.25"/><line x1="136.17" y1="893.45" x2="133.65" y2="897.37" stroke="#9a6c4c" stroke-width="1.25"/><line x1="133.65" y1="897.37" x2="131.13" y2="901.30" stroke="#94d4ee" stroke-width="1.25"/><line x1="136.17" y1="893.45" x2="141.20" y2="897.37" stroke="#9a6c4c" stroke-width="1.25"/><line x1="141.20" y1="897.37" x2="146.23" y2="901.30" stroke="#94d4ee" stroke-width="1.25"/><line x1="151.27" y1="893.45" x2="148.75" y2="897.37" stroke="#9a6c4c" stroke-width="1.25"/><line x1="148.75" y1="897.37" x2="146.23" y2="901.30" stroke="#94d4ee" stroke-width="1.25"/><line x1="151.27" y1="893.45" x2="156.30" y2="897.37" stroke="#9a6c4c" stroke-width="1.25"/><line x1="156.30" y1="897.37" x2="161.33" y2="901.30" stroke="#94d4ee" stroke-width="1.25"/><line x1="166.37" y1="893.45" x2="163.85" y2="897.37" stroke="#9a6c4c" stroke-width="1.25"/><line x1="163.85" y1="897.37" x2="161.33" y2="901.30" stroke="#94d4ee" stroke-width="1.25"/><line x1="166.37" y1="893.45" x2="171.40" y2="897.37" stroke="#9a6c4c" stroke-width="1.25"/><line x1="171.40" y1="897.37" x2="176.43" y2="901.30" stroke="#94d4ee" stroke-width="1.25"/><line x1="181.47" y1="893.45" x2="178.95" y2="897.37" stroke="#9a6c4c" stroke-width="1.25"/><line x1="178.95" y1="897.37" x2="176.43" y2="901.30" stroke="#94d4ee" stroke-width="1.25"/><line x1="181.47" y1="893.45" x2="186.50" y2="897.37" stroke="#9a6c4c" stroke-width="1.25"/><line x1="186.50" y1="897.37" x2="191.53" y2="901.30" stroke="#94d4ee" stroke-width="1.25"/><line x1="196.57" y1="893.45" x2="194.05" y2="897.37" stroke="#9a6c4c" stroke-width="1.25"/><line x1="194.05" y1="897.37" x2="191.53" y2="901.30" stroke="#94d4ee" stroke-width="1.25"/><line x1="196.57" y1="893.45" x2="201.60" y2="897.37" stroke="#9a6c4c" stroke-width="1.25"/><line x1="201.60" y1="897.37" x2="206.63" y2="901.30" stroke="#94d4ee" stroke-width="1.25"/><line x1="211.67" y1="893.45" x2="209.15" y2="897.37" stroke="#9a6c4c" stroke-width="1.25"/><line x1="209.15" y1="897.37" x2="206.63" y2="901.30" stroke="#94d4ee" stroke-width="1.25"/><line x1="211.67" y1="893.45" x2="216.70" y2="897.37" stroke="#9a6c4c" stroke-width="1.25"/><line x1="216.70" y1="897.37" x2="221.73" y2="901.30" stroke="#94d4ee" stroke-width="1.25"/><line x1="226.77" y1="893.45" x2="224.25" y2="897.37" stroke="#9a6c4c" stroke-width="1.25"/><line x1="224.25" y1="897.37" x2="221.73" y2="901.30" stroke="#94d4ee" stroke-width="1.25"/><line x1="226.77" y1="893.45" x2="231.80" y2="897.37" stroke="#9a6c4c" stroke-width="1.25"/><line x1="231.80" y1="897.37" x2="236.83" y2="901.30" stroke="#94d4ee" stroke-width="1.25"/><line x1="241.87" y1="893.45" x2="239.35" y2="897.37" stroke="#9a6c4c" stroke-width="1.25"/><line x1="239.35" y1="897.37" x2="236.83" y2="901.30" stroke="#94d4ee" stroke-width="1.25"/><line x1="241.87" y1="893.45" x2="246.90" y2="897.37" stroke="#9a6c4c" stroke-width="1.25"/><line x1="246.90" y1="897.37" x2="251.93" y2="901.30" stroke="#94d4ee" stroke-width="1.25"/><line x1="256.97" y1="893.45" x2="254.45" y2="897.37" stroke="#9a6c4c" stroke-width="1.25"/><line x1="254.45" y1="897.37" x2="251.93" y2="901.30" stroke="#94d4ee" stroke-width="1.25"/><line x1="256.97" y1="893.45" x2="262.00" y2="897.37" stroke="#9a6c4c" stroke-width="1.25"/><line x1="262.00" y1="897.37" x2="267.03" y2="901.30" stroke="#94d4ee" stroke-width="1.25"/><line x1="272.07" y1="893.45" x2="269.55" y2="897.37" stroke="#9a6c4c" stroke-width="1.25"/><line x1="269.55" y1="897.37" x2="267.03" y2="901.30" stroke="#94d4ee" stroke-width="1.25"/><line x1="272.07" y1="893.45" x2="277.10" y2="897.37" stroke="#9a6c4c" stroke-width="1.25"/><line x1="277.10" y1="897.37" x2="282.13" y2="901.30" stroke="#94d4ee" stroke-width="1.25"/><line x1="287.17" y1="893.45" x2="284.65" y2="897.37" stroke="#9a6c4c" stroke-width="1.25"/><line x1="284.65" y1="897.37" x2="282.13" y2="901.30" stroke="#94d4ee" stroke-width="1.25"/><line x1="287.17" y1="893.45" x2="292.20" y2="897.37" stroke="#9a6c4c" stroke-width="1.25"/><line x1="292.20" y1="897.37" x2="297.23" y2="901.30" stroke="#94d4ee" stroke-width="1.25"/><line x1="302.27" y1="893.45" x2="299.75" y2="897.37" stroke="#9a6c4c" stroke-width="1.25"/><line x1="299.75" y1="897.37" x2="297.23" y2="901.30" stroke="#94d4ee" stroke-width="1.25"/><line x1="302.27" y1="893.45" x2="307.30" y2="897.37" stroke="#9a6c4c" stroke-width="1.25"/><line x1="307.30" y1="897.37" x2="312.33" y2="901.30" stroke="#94d4ee" stroke-width="1.25"/><line x1="317.37" y1="893.45" x2="314.85" y2="897.37" stroke="#9a6c4c" stroke-width="1.25"/><line x1="314.85" y1="897.37" x2="312.33" y2="901.30" stroke="#94d4ee" stroke-width="1.25"/><line x1="317.37" y1="893.45" x2="322.40" y2="897.37" stroke="#9a6c4c" stroke-width="1.25"/><line x1="322.40" y1="897.37" x2="327.43" y2="901.30" stroke="#94d4ee" stroke-width="1.25"/><line x1="332.47" y1="893.45" x2="329.95" y2="897.37" stroke="#9a6c4c" stroke-width="1.25"/><line x1="329.95" y1="897.37" x2="327.43" y2="901.30" stroke="#94d4ee" stroke-width="1.25"/><line x1="332.47" y1="893.45" x2="337.50" y2="897.37" stroke="#9a6c4c" stroke-width="1.25"/><line x1="337.50" y1="897.37" x2="342.53" y2="901.30" stroke="#94d4ee" stroke-width="1.25"/><line x1="347.57" y1="893.45" x2="345.05" y2="897.37" stroke="#9a6c4c" stroke-width="1.25"/><line x1="345.05" y1="897.37" x2="342.53" y2="901.30" stroke="#94d4ee" stroke-width="1.25"/><line x1="347.57" y1="893.45" x2="352.60" y2="897.37" stroke="#9a6c4c" stroke-width="1.25"/><line x1="352.60" y1="897.37" x2="357.63" y2="901.30" stroke="#94d4ee" stroke-width="1.25"/><line x1="362.67" y1="893.45" x2="360.15" y2="897.37" stroke="#9a6c4c" stroke-width="1.25"/><line x1="360.15" y1="897.37" x2="357.63" y2="901.30" stroke="#94d4ee" stroke-width="1.25"/><line x1="362.67" y1="893.45" x2="367.70" y2="897.37" stroke="#9a6c4c" stroke-width="1.25"/><line x1="367.70" y1="897.37" x2="372.73" y2="901.30" stroke="#94d4ee" stroke-width="1.25"/><line x1="377.77" y1="893.45" x2="375.25" y2="897.37" stroke="#9a6c4c" stroke-width="1.25"/><line x1="375.25" y1="897.37" x2="372.73" y2="901.30" stroke="#94d4ee" stroke-width="1.25"/><line x1="377.77" y1="893.45" x2="382.80" y2="897.37" stroke="#9a6c4c" stroke-width="1.25"/><line x1="382.80" y1="897.37" x2="387.83" y2="901.30" stroke="#94d4ee" stroke-width="1.25"/><line x1="392.87" y1="893.45" x2="390.35" y2="897.37" stroke="#9a6c4c" stroke-width="1.25"/><line x1="390.35" y1="897.37" x2="387.83" y2="901.30" stroke="#94d4ee" stroke-width="1.25"/><line x1="392.87" y1="893.45" x2="397.90" y2="897.37" stroke="#9a6c4c" stroke-width="1.25"/><line x1="397.90" y1="897.37" x2="402.93" y2="901.30" stroke="#94d4ee" stroke-width="1.25"/><line x1="407.97" y1="893.45" x2="405.45" y2="897.37" stroke="#9a6c4c" stroke-width="1.25"/><line x1="405.45" y1="897.37" x2="402.93" y2="901.30" stroke="#94d4ee" stroke-width="1.25"/><line x1="407.97" y1="893.45" x2="413.00" y2="897.37" stroke="#9a6c4c" stroke-width="1.25"/><line x1="413.00" y1="897.37" x2="418.03" y2="901.30" stroke="#94d4ee" stroke-width="1.25"/><line x1="423.07" y1="893.45" x2="420.55" y2="897.37" stroke="#9a6c4c" stroke-width="1.25"/><line x1="420.55" y1="897.37" x2="418.03" y2="901.30" stroke="#94d4ee" stroke-width="1.25"/><line x1="423.07" y1="893.45" x2="428.10" y2="897.37" stroke="#9a6c4c" stroke-width="1.25"/><line x1="428.10" y1="897.37" x2="433.13" y2="901.30" stroke="#94d4ee" stroke-width="1.25"/><line x1="438.17" y1="893.45" x2="435.65" y2="897.37" stroke="#9a6c4c" stroke-width="1.25"/><line x1="435.65" y1="897.37" x2="433.13" y2="901.30" stroke="#94d4ee" stroke-width="1.25"/><line x1="438.17" y1="893.45" x2="443.20" y2="897.37" stroke="#9a6c4c" stroke-width="1.25"/><line x1="443.20" y1="897.37" x2="448.23" y2="901.30" stroke="#94d4ee" stroke-width="1.25"/><line x1="453.27" y1="893.45" x2="450.75" y2="897.37" stroke="#9a6c4c" stroke-width="1.25"/><line x1="450.75" y1="897.37" x2="448.23" y2="901.30" stroke="#94d4ee" stroke-width="1.25"/><line x1="453.27" y1="893.45" x2="458.30" y2="897.37" stroke="#9a6c4c" stroke-width="1.25"/><line x1="458.30" y1="897.37" x2="463.33" y2="901.30" stroke="#94d4ee" stroke-width="1.25"/><line x1="468.37" y1="893.45" x2="465.85" y2="897.37" stroke="#9a6c4c" stroke-width="1.25"/><line x1="465.85" y1="897.37" x2="463.33" y2="901.30" stroke="#94d4ee" stroke-width="1.25"/><line x1="468.37" y1="893.45" x2="473.40" y2="897.37" stroke="#9a6c4c" stroke-width="1.25"/><line x1="473.40" y1="897.37" x2="478.43" y2="901.30" stroke="#94d4ee" stroke-width="1.25"/><line x1="483.47" y1="893.45" x2="480.95" y2="897.37" stroke="#9a6c4c" stroke-width="1.25"/><line x1="480.95" y1="897.37" x2="478.43" y2="901.30" stroke="#94d4ee" stroke-width="1.25"/><line x1="483.47" y1="893.45" x2="488.50" y2="897.37" stroke="#9a6c4c" stroke-width="1.25"/><line x1="488.50" y1="897.37" x2="493.53" y2="901.30" stroke="#94d4ee" stroke-width="1.25"/><line x1="498.57" y1="893.45" x2="496.05" y2="897.37" stroke="#9a6c4c" stroke-width="1.25"/><line x1="496.05" y1="897.37" x2="493.53" y2="901.30" stroke="#94d4ee" stroke-width="1.25"/><line x1="498.57" y1="893.45" x2="503.60" y2="897.37" stroke="#9a6c4c" stroke-width="1.25"/><line x1="503.60" y1="897.37" x2="508.63" y2="901.30" stroke="#94d4ee" stroke-width="1.25"/><line x1="513.67" y1="893.45" x2="511.15" y2="897.37" stroke="#9a6c4c" stroke-width="1.25"/><line x1="511.15" y1="897.37" x2="508.63" y2="901.30" stroke="#94d4ee" stroke-width="1.25"/><line x1="513.67" y1="893.45" x2="518.70" y2="897.37" stroke="#9a6c4c" stroke-width="1.25"/><line x1="518.70" y1="897.37" x2="523.73" y2="901.30" stroke="#94d4ee" stroke-width="1.25"/><line x1="528.77" y1="893.45" x2="526.25" y2="897.37" stroke="#9a6c4c" stroke-width="1.25"/><line x1="526.25" y1="897.37" x2="523.73" y2="901.30" stroke="#94d4ee" stroke-width="1.25"/><line x1="528.77" y1="893.45" x2="533.80" y2="897.37" stroke="#9a6c4c" stroke-width="1.25"/><line x1="533.80" y1="897.37" x2="538.83" y2="901.30" stroke="#94d4ee" stroke-width="1.25"/><line x1="543.87" y1="893.45" x2="541.35" y2="897.37" stroke="#9a6c4c" stroke-width="1.25"/><line x1="541.35" y1="897.37" x2="538.83" y2="901.30" stroke="#94d4ee" stroke-width="1.25"/><line x1="543.87" y1="893.45" x2="548.90" y2="897.37" stroke="#9a6c4c" stroke-width="1.25"/><line x1="548.90" y1="897.37" x2="553.93" y2="901.30" stroke="#94d4ee" stroke-width="1.25"/><line x1="558.97" y1="893.45" x2="556.45" y2="897.37" stroke="#9a6c4c" stroke-width="1.25"/><line x1="556.45" y1="897.37" x2="553.93" y2="901.30" stroke="#94d4ee" stroke-width="1.25"/><line x1="558.97" y1="893.45" x2="564.00" y2="897.37" stroke="#9a6c4c" stroke-width="1.25"/><line x1="564.00" y1="897.37" x2="569.03" y2="901.30" stroke="#94d4ee" stroke-width="1.25"/><line x1="574.07" y1="893.45" x2="571.55" y2="897.37" stroke="#9a6c4c" stroke-width="1.25"/><line x1="571.55" y1="897.37" x2="569.03" y2="901.30" stroke="#94d4ee" stroke-width="1.25"/><line x1="574.07" y1="893.45" x2="579.10" y2="897.37" stroke="#9a6c4c" stroke-width="1.25"/><line x1="579.10" y1="897.37" x2="584.13" y2="901.30" stroke="#94d4ee" stroke-width="1.25"/><line x1="589.17" y1="893.45" x2="586.65" y2="897.37" stroke="#9a6c4c" stroke-width="1.25"/><line x1="586.65" y1="897.37" x2="584.13" y2="901.30" stroke="#94d4ee" stroke-width="1.25"/><line x1="589.17" y1="893.45" x2="594.20" y2="897.37" stroke="#9a6c4c" stroke-width="1.25"/><line x1="594.20" y1="897.37" x2="599.23" y2="901.30" stroke="#94d4ee" stroke-width="1.25"/><line x1="604.27" y1="893.45" x2="601.75" y2="897.37" stroke="#9a6c4c" stroke-width="1.25"/><line x1="601.75" y1="897.37" x2="599.23" y2="901.30" stroke="#94d4ee" stroke-width="1.25"/><line x1="604.27" y1="893.45" x2="609.30" y2="897.37" stroke="#9a6c4c" stroke-width="1.25"/><line x1="609.30" y1="897.37" x2="614.33" y2="901.30" stroke="#94d4ee" stroke-width="1.25"/><line x1="619.37" y1="893.45" x2="616.85" y2="897.37" stroke="#9a6c4c" stroke-width="1.25"/><line x1="616.85" y1="897.37" x2="614.33" y2="901.30" stroke="#94d4ee" stroke-width="1.25"/><line x1="619.37" y1="893.45" x2="624.40" y2="897.37" stroke="#9a6c4c" stroke-width="1.25"/><line x1="624.40" y1="897.37" x2="629.43" y2="901.30" stroke="#94d4ee" stroke-width="1.25"/><line x1="634.47" y1="893.45" x2="631.95" y2="897.37" stroke="#9a6c4c" stroke-width="1.25"/><line x1="631.95" y1="897.37" x2="629.43" y2="901.30" stroke="#94d4ee" stroke-width="1.25"/><line x1="634.47" y1="893.45" x2="639.50" y2="897.37" stroke="#9a6c4c" stroke-width="1.25"/><line x1="639.50" y1="897.37" x2="644.53" y2="901.30" stroke="#94d4ee" stroke-width="1.25"/><line x1="649.57" y1="893.45" x2="647.05" y2="897.37" stroke="#9a6c4c" stroke-width="1.25"/><line x1="647.05" y1="897.37" x2="644.53" y2="901.30" stroke="#94d4ee" stroke-width="1.25"/><line x1="649.57" y1="893.45" x2="654.60" y2="897.37" stroke="#9a6c4c" stroke-width="1.25"/><line x1="654.60" y1="897.37" x2="659.63" y2="901.30" stroke="#94d4ee" stroke-width="1.25"/><line x1="664.67" y1="893.45" x2="662.15" y2="897.37" stroke="#9a6c4c" stroke-width="1.25"/><line x1="662.15" y1="897.37" x2="659.63" y2="901.30" stroke="#94d4ee" stroke-width="1.25"/><line x1="70.73" y1="901.30" x2="73.25" y2="904.09" stroke="#94d4ee" stroke-width="1.25"/><line x1="73.25" y1="904.09" x2="75.77" y2="906.88" stroke="#f47070" stroke-width="1.25"/><line x1="85.83" y1="901.30" x2="80.80" y2="904.09" stroke="#94d4ee" stroke-width="1.25"/><line x1="80.80" y1="904.09" x2="75.77" y2="906.88" stroke="#f47070" stroke-width="1.25"/><line x1="85.83" y1="901.30" x2="88.35" y2="904.09" stroke="#94d4ee" stroke-width="1.25"/><line x1="88.35" y1="904.09" x2="90.87" y2="906.88" stroke="#f47070" stroke-width="1.25"/><line x1="100.93" y1="901.30" x2="95.90" y2="904.09" stroke="#94d4ee" stroke-width="1.25"/><line x1="95.90" y1="904.09" x2="90.87" y2="906.88" stroke="#f47070" stroke-width="1.25"/><line x1="100.93" y1="901.30" x2="103.45" y2="904.09" stroke="#94d4ee" stroke-width="1.25"/><line x1="103.45" y1="904.09" x2="105.97" y2="906.88" stroke="#f47070" stroke-width="1.25"/><line x1="116.03" y1="901.30" x2="111.00" y2="904.09" stroke="#94d4ee" stroke-width="1.25"/><line x1="111.00" y1="904.09" x2="105.97" y2="906.88" stroke="#f47070" stroke-width="1.25"/><line x1="116.03" y1="901.30" x2="118.55" y2="904.09" stroke="#94d4ee" stroke-width="1.25"/><line x1="118.55" y1="904.09" x2="121.07" y2="906.88" stroke="#f47070" stroke-width="1.25"/><line x1="131.13" y1="901.30" x2="126.10" y2="904.09" stroke="#94d4ee" stroke-width="1.25"/><line x1="126.10" y1="904.09" x2="121.07" y2="906.88" stroke="#f47070" stroke-width="1.25"/><line x1="131.13" y1="901.30" x2="133.65" y2="904.09" stroke="#94d4ee" stroke-width="1.25"/><line x1="133.65" y1="904.09" x2="136.17" y2="906.88" stroke="#f47070" stroke-width="1.25"/><line x1="146.23" y1="901.30" x2="141.20" y2="904.09" stroke="#94d4ee" stroke-width="1.25"/><line x1="141.20" y1="904.09" x2="136.17" y2="906.88" stroke="#f47070" stroke-width="1.25"/><line x1="146.23" y1="901.30" x2="148.75" y2="904.09" stroke="#94d4ee" stroke-width="1.25"/><line x1="148.75" y1="904.09" x2="151.27" y2="906.88" stroke="#f47070" stroke-width="1.25"/><line x1="161.33" y1="901.30" x2="156.30" y2="904.09" stroke="#94d4ee" stroke-width="1.25"/><line x1="156.30" y1="904.09" x2="151.27" y2="906.88" stroke="#f47070" stroke-width="1.25"/><line x1="161.33" y1="901.30" x2="163.85" y2="904.09" stroke="#94d4ee" stroke-width="1.25"/><line x1="163.85" y1="904.09" x2="166.37" y2="906.88" stroke="#f47070" stroke-width="1.25"/><line x1="176.43" y1="901.30" x2="171.40" y2="904.09" stroke="#94d4ee" stroke-width="1.25"/><line x1="171.40" y1="904.09" x2="166.37" y2="906.88" stroke="#f47070" stroke-width="1.25"/><line x1="176.43" y1="901.30" x2="178.95" y2="904.09" stroke="#94d4ee" stroke-width="1.25"/><line x1="178.95" y1="904.09" x2="181.47" y2="906.88" stroke="#f47070" stroke-width="1.25"/><line x1="191.53" y1="901.30" x2="186.50" y2="904.09" stroke="#94d4ee" stroke-width="1.25"/><line x1="186.50" y1="904.09" x2="181.47" y2="906.88" stroke="#f47070" stroke-width="1.25"/><line x1="191.53" y1="901.30" x2="194.05" y2="904.09" stroke="#94d4ee" stroke-width="1.25"/><line x1="194.05" y1="904.09" x2="196.57" y2="906.88" stroke="#f47070" stroke-width="1.25"/><line x1="206.63" y1="901.30" x2="201.60" y2="904.09" stroke="#94d4ee" stroke-width="1.25"/><line x1="201.60" y1="904.09" x2="196.57" y2="906.88" stroke="#f47070" stroke-width="1.25"/><line x1="206.63" y1="901.30" x2="209.15" y2="904.09" stroke="#94d4ee" stroke-width="1.25"/><line x1="209.15" y1="904.09" x2="211.67" y2="906.88" stroke="#f47070" stroke-width="1.25"/><line x1="221.73" y1="901.30" x2="216.70" y2="904.09" stroke="#94d4ee" stroke-width="1.25"/><line x1="216.70" y1="904.09" x2="211.67" y2="906.88" stroke="#f47070" stroke-width="1.25"/><line x1="221.73" y1="901.30" x2="224.25" y2="904.09" stroke="#94d4ee" stroke-width="1.25"/><line x1="224.25" y1="904.09" x2="226.77" y2="906.88" stroke="#f47070" stroke-width="1.25"/><line x1="236.83" y1="901.30" x2="231.80" y2="904.09" stroke="#94d4ee" stroke-width="1.25"/><line x1="231.80" y1="904.09" x2="226.77" y2="906.88" stroke="#f47070" stroke-width="1.25"/><line x1="236.83" y1="901.30" x2="239.35" y2="904.09" stroke="#94d4ee" stroke-width="1.25"/><line x1="239.35" y1="904.09" x2="241.87" y2="906.88" stroke="#f47070" stroke-width="1.25"/><line x1="251.93" y1="901.30" x2="246.90" y2="904.09" stroke="#94d4ee" stroke-width="1.25"/><line x1="246.90" y1="904.09" x2="241.87" y2="906.88" stroke="#f47070" stroke-width="1.25"/><line x1="251.93" y1="901.30" x2="254.45" y2="904.09" stroke="#94d4ee" stroke-width="1.25"/><line x1="254.45" y1="904.09" x2="256.97" y2="906.88" stroke="#f47070" stroke-width="1.25"/><line x1="267.03" y1="901.30" x2="262.00" y2="904.09" stroke="#94d4ee" stroke-width="1.25"/><line x1="262.00" y1="904.09" x2="256.97" y2="906.88" stroke="#f47070" stroke-width="1.25"/><line x1="267.03" y1="901.30" x2="269.55" y2="904.09" stroke="#94d4ee" stroke-width="1.25"/><line x1="269.55" y1="904.09" x2="272.07" y2="906.88" stroke="#f47070" stroke-width="1.25"/><line x1="282.13" y1="901.30" x2="277.10" y2="904.09" stroke="#94d4ee" stroke-width="1.25"/><line x1="277.10" y1="904.09" x2="272.07" y2="906.88" stroke="#f47070" stroke-width="1.25"/><line x1="282.13" y1="901.30" x2="284.65" y2="904.09" stroke="#94d4ee" stroke-width="1.25"/><line x1="284.65" y1="904.09" x2="287.17" y2="906.88" stroke="#f47070" stroke-width="1.25"/><line x1="297.23" y1="901.30" x2="292.20" y2="904.09" stroke="#94d4ee" stroke-width="1.25"/><line x1="292.20" y1="904.09" x2="287.17" y2="906.88" stroke="#f47070" stroke-width="1.25"/><line x1="297.23" y1="901.30" x2="299.75" y2="904.09" stroke="#94d4ee" stroke-width="1.25"/><line x1="299.75" y1="904.09" x2="302.27" y2="906.88" stroke="#f47070" stroke-width="1.25"/><line x1="312.33" y1="901.30" x2="307.30" y2="904.09" stroke="#94d4ee" stroke-width="1.25"/><line x1="307.30" y1="904.09" x2="302.27" y2="906.88" stroke="#f47070" stroke-width="1.25"/><line x1="312.33" y1="901.30" x2="314.85" y2="904.09" stroke="#94d4ee" stroke-width="1.25"/><line x1="314.85" y1="904.09" x2="317.37" y2="906.88" stroke="#f47070" stroke-width="1.25"/><line x1="327.43" y1="901.30" x2="322.40" y2="904.09" stroke="#94d4ee" stroke-width="1.25"/><line x1="322.40" y1="904.09" x2="317.37" y2="906.88" stroke="#f47070" stroke-width="1.25"/><line x1="327.43" y1="901.30" x2="329.95" y2="904.09" stroke="#94d4ee" stroke-width="1.25"/><line x1="329.95" y1="904.09" x2="332.47" y2="906.88" stroke="#f47070" stroke-width="1.25"/><line x1="342.53" y1="901.30" x2="337.50" y2="904.09" stroke="#94d4ee" stroke-width="1.25"/><line x1="337.50" y1="904.09" x2="332.47" y2="906.88" stroke="#f47070" stroke-width="1.25"/><line x1="342.53" y1="901.30" x2="345.05" y2="904.09" stroke="#94d4ee" stroke-width="1.25"/><line x1="345.05" y1="904.09" x2="347.57" y2="906.88" stroke="#f47070" stroke-width="1.25"/><line x1="357.63" y1="901.30" x2="352.60" y2="904.09" stroke="#94d4ee" stroke-width="1.25"/><line x1="352.60" y1="904.09" x2="347.57" y2="906.88" stroke="#f47070" stroke-width="1.25"/><line x1="357.63" y1="901.30" x2="360.15" y2="904.09" stroke="#94d4ee" stroke-width="1.25"/><line x1="360.15" y1="904.09" x2="362.67" y2="906.88" stroke="#f47070" stroke-width="1.25"/><line x1="372.73" y1="901.30" x2="367.70" y2="904.09" stroke="#94d4ee" stroke-width="1.25"/><line x1="367.70" y1="904.09" x2="362.67" y2="906.88" stroke="#f47070" stroke-width="1.25"/><line x1="372.73" y1="901.30" x2="375.25" y2="904.09" stroke="#94d4ee" stroke-width="1.25"/><line x1="375.25" y1="904.09" x2="377.77" y2="906.88" stroke="#f47070" stroke-width="1.25"/><line x1="387.83" y1="901.30" x2="382.80" y2="904.09" stroke="#94d4ee" stroke-width="1.25"/><line x1="382.80" y1="904.09" x2="377.77" y2="906.88" stroke="#f47070" stroke-width="1.25"/><line x1="387.83" y1="901.30" x2="390.35" y2="904.09" stroke="#94d4ee" stroke-width="1.25"/><line x1="390.35" y1="904.09" x2="392.87" y2="906.88" stroke="#f47070" stroke-width="1.25"/><line x1="402.93" y1="901.30" x2="397.90" y2="904.09" stroke="#94d4ee" stroke-width="1.25"/><line x1="397.90" y1="904.09" x2="392.87" y2="906.88" stroke="#f47070" stroke-width="1.25"/><line x1="402.93" y1="901.30" x2="405.45" y2="904.09" stroke="#94d4ee" stroke-width="1.25"/><line x1="405.45" y1="904.09" x2="407.97" y2="906.88" stroke="#f47070" stroke-width="1.25"/><line x1="418.03" y1="901.30" x2="413.00" y2="904.09" stroke="#94d4ee" stroke-width="1.25"/><line x1="413.00" y1="904.09" x2="407.97" y2="906.88" stroke="#f47070" stroke-width="1.25"/><line x1="418.03" y1="901.30" x2="420.55" y2="904.09" stroke="#94d4ee" stroke-width="1.25"/><line x1="420.55" y1="904.09" x2="423.07" y2="906.88" stroke="#f47070" stroke-width="1.25"/><line x1="433.13" y1="901.30" x2="428.10" y2="904.09" stroke="#94d4ee" stroke-width="1.25"/><line x1="428.10" y1="904.09" x2="423.07" y2="906.88" stroke="#f47070" stroke-width="1.25"/><line x1="433.13" y1="901.30" x2="435.65" y2="904.09" stroke="#94d4ee" stroke-width="1.25"/><line x1="435.65" y1="904.09" x2="438.17" y2="906.88" stroke="#f47070" stroke-width="1.25"/><line x1="448.23" y1="901.30" x2="443.20" y2="904.09" stroke="#94d4ee" stroke-width="1.25"/><line x1="443.20" y1="904.09" x2="438.17" y2="906.88" stroke="#f47070" stroke-width="1.25"/><line x1="448.23" y1="901.30" x2="450.75" y2="904.09" stroke="#94d4ee" stroke-width="1.25"/><line x1="450.75" y1="904.09" x2="453.27" y2="906.88" stroke="#f47070" stroke-width="1.25"/><line x1="463.33" y1="901.30" x2="458.30" y2="904.09" stroke="#94d4ee" stroke-width="1.25"/><line x1="458.30" y1="904.09" x2="453.27" y2="906.88" stroke="#f47070" stroke-width="1.25"/><line x1="463.33" y1="901.30" x2="465.85" y2="904.09" stroke="#94d4ee" stroke-width="1.25"/><line x1="465.85" y1="904.09" x2="468.37" y2="906.88" stroke="#f47070" stroke-width="1.25"/><line x1="478.43" y1="901.30" x2="473.40" y2="904.09" stroke="#94d4ee" stroke-width="1.25"/><line x1="473.40" y1="904.09" x2="468.37" y2="906.88" stroke="#f47070" stroke-width="1.25"/><line x1="478.43" y1="901.30" x2="480.95" y2="904.09" stroke="#94d4ee" stroke-width="1.25"/><line x1="480.95" y1="904.09" x2="483.47" y2="906.88" stroke="#f47070" stroke-width="1.25"/><line x1="493.53" y1="901.30" x2="488.50" y2="904.09" stroke="#94d4ee" stroke-width="1.25"/><line x1="488.50" y1="904.09" x2="483.47" y2="906.88" stroke="#f47070" stroke-width="1.25"/><line x1="493.53" y1="901.30" x2="496.05" y2="904.09" stroke="#94d4ee" stroke-width="1.25"/><line x1="496.05" y1="904.09" x2="498.57" y2="906.88" stroke="#f47070" stroke-width="1.25"/><line x1="508.63" y1="901.30" x2="503.60" y2="904.09" stroke="#94d4ee" stroke-width="1.25"/><line x1="503.60" y1="904.09" x2="498.57" y2="906.88" stroke="#f47070" stroke-width="1.25"/><line x1="508.63" y1="901.30" x2="511.15" y2="904.09" stroke="#94d4ee" stroke-width="1.25"/><line x1="511.15" y1="904.09" x2="513.67" y2="906.88" stroke="#f47070" stroke-width="1.25"/><line x1="523.73" y1="901.30" x2="518.70" y2="904.09" stroke="#94d4ee" stroke-width="1.25"/><line x1="518.70" y1="904.09" x2="513.67" y2="906.88" stroke="#f47070" stroke-width="1.25"/><line x1="523.73" y1="901.30" x2="526.25" y2="904.09" stroke="#94d4ee" stroke-width="1.25"/><line x1="526.25" y1="904.09" x2="528.77" y2="906.88" stroke="#f47070" stroke-width="1.25"/><line x1="538.83" y1="901.30" x2="533.80" y2="904.09" stroke="#94d4ee" stroke-width="1.25"/><line x1="533.80" y1="904.09" x2="528.77" y2="906.88" stroke="#f47070" stroke-width="1.25"/><line x1="538.83" y1="901.30" x2="541.35" y2="904.09" stroke="#94d4ee" stroke-width="1.25"/><line x1="541.35" y1="904.09" x2="543.87" y2="906.88" stroke="#f47070" stroke-width="1.25"/><line x1="553.93" y1="901.30" x2="548.90" y2="904.09" stroke="#94d4ee" stroke-width="1.25"/><line x1="548.90" y1="904.09" x2="543.87" y2="906.88" stroke="#f47070" stroke-width="1.25"/><line x1="553.93" y1="901.30" x2="556.45" y2="904.09" stroke="#94d4ee" stroke-width="1.25"/><line x1="556.45" y1="904.09" x2="558.97" y2="906.88" stroke="#f47070" stroke-width="1.25"/><line x1="569.03" y1="901.30" x2="564.00" y2="904.09" stroke="#94d4ee" stroke-width="1.25"/><line x1="564.00" y1="904.09" x2="558.97" y2="906.88" stroke="#f47070" stroke-width="1.25"/><line x1="569.03" y1="901.30" x2="571.55" y2="904.09" stroke="#94d4ee" stroke-width="1.25"/><line x1="571.55" y1="904.09" x2="574.07" y2="906.88" stroke="#f47070" stroke-width="1.25"/><line x1="584.13" y1="901.30" x2="579.10" y2="904.09" stroke="#94d4ee" stroke-width="1.25"/><line x1="579.10" y1="904.09" x2="574.07" y2="906.88" stroke="#f47070" stroke-width="1.25"/><line x1="584.13" y1="901.30" x2="586.65" y2="904.09" stroke="#94d4ee" stroke-width="1.25"/><line x1="586.65" y1="904.09" x2="589.17" y2="906.88" stroke="#f47070" stroke-width="1.25"/><line x1="599.23" y1="901.30" x2="594.20" y2="904.09" stroke="#94d4ee" stroke-width="1.25"/><line x1="594.20" y1="904.09" x2="589.17" y2="906.88" stroke="#f47070" stroke-width="1.25"/><line x1="599.23" y1="901.30" x2="601.75" y2="904.09" stroke="#94d4ee" stroke-width="1.25"/><line x1="601.75" y1="904.09" x2="604.27" y2="906.88" stroke="#f47070" stroke-width="1.25"/><line x1="614.33" y1="901.30" x2="609.30" y2="904.09" stroke="#94d4ee" stroke-width="1.25"/><line x1="609.30" y1="904.09" x2="604.27" y2="906.88" stroke="#f47070" stroke-width="1.25"/><line x1="614.33" y1="901.30" x2="616.85" y2="904.09" stroke="#94d4ee" stroke-width="1.25"/><line x1="616.85" y1="904.09" x2="619.37" y2="906.88" stroke="#f47070" stroke-width="1.25"/><line x1="629.43" y1="901.30" x2="624.40" y2="904.09" stroke="#94d4ee" stroke-width="1.25"/><line x1="624.40" y1="904.09" x2="619.37" y2="906.88" stroke="#f47070" stroke-width="1.25"/><line x1="629.43" y1="901.30" x2="631.95" y2="904.09" stroke="#94d4ee" stroke-width="1.25"/><line x1="631.95" y1="904.09" x2="634.47" y2="906.88" stroke="#f47070" stroke-width="1.25"/><line x1="644.53" y1="901.30" x2="639.50" y2="904.09" stroke="#94d4ee" stroke-width="1.25"/><line x1="639.50" y1="904.09" x2="634.47" y2="906.88" stroke="#f47070" stroke-width="1.25"/><line x1="644.53" y1="901.30" x2="647.05" y2="904.09" stroke="#94d4ee" stroke-width="1.25"/><line x1="647.05" y1="904.09" x2="649.57" y2="906.88" stroke="#f47070" stroke-width="1.25"/><line x1="659.63" y1="901.30" x2="654.60" y2="904.09" stroke="#94d4ee" stroke-width="1.25"/><line x1="654.60" y1="904.09" x2="649.57" y2="906.88" stroke="#f47070" stroke-width="1.25"/><line x1="659.63" y1="901.30" x2="662.15" y2="904.09" stroke="#94d4ee" stroke-width="1.25"/><line x1="662.15" y1="904.09" x2="664.67" y2="906.88" stroke="#f47070" stroke-width="1.25"/><circle cx="75.77" cy="871.40" r="3.40" fill="url(#gTi)"/><circle cx="90.87" cy="871.40" r="3.40" fill="url(#gTi)"/><circle cx="105.97" cy="871.40" r="3.40" fill="url(#gTi)"/><circle cx="121.07" cy="871.40" r="3.40" fill="url(#gTi)"/><circle cx="136.17" cy="871.40" r="3.40" fill="url(#gTi)"/><circle cx="151.27" cy="871.40" r="3.40" fill="url(#gTi)"/><circle cx="166.37" cy="871.40" r="3.40" fill="url(#gTi)"/><circle cx="181.47" cy="871.40" r="3.40" fill="url(#gTi)"/><circle cx="196.57" cy="871.40" r="3.40" fill="url(#gTi)"/><circle cx="211.67" cy="871.40" r="3.40" fill="url(#gTi)"/><circle cx="226.77" cy="871.40" r="3.40" fill="url(#gTi)"/><circle cx="241.87" cy="871.40" r="3.40" fill="url(#gTi)"/><circle cx="256.97" cy="871.40" r="3.40" fill="url(#gTi)"/><circle cx="272.07" cy="871.40" r="3.40" fill="url(#gTi)"/><circle cx="287.17" cy="871.40" r="3.40" fill="url(#gTi)"/><circle cx="302.27" cy="871.40" r="3.40" fill="url(#gTi)"/><circle cx="317.37" cy="871.40" r="3.40" fill="url(#gTi)"/><circle cx="332.47" cy="871.40" r="3.40" fill="url(#gTi)"/><circle cx="347.57" cy="871.40" r="3.40" fill="url(#gTi)"/><circle cx="362.67" cy="871.40" r="3.40" fill="url(#gTi)"/><circle cx="377.77" cy="871.40" r="3.40" fill="url(#gTi)"/><circle cx="392.87" cy="871.40" r="3.40" fill="url(#gTi)"/><circle cx="407.97" cy="871.40" r="3.40" fill="url(#gTi)"/><circle cx="423.07" cy="871.40" r="3.40" fill="url(#gTi)"/><circle cx="438.17" cy="871.40" r="3.40" fill="url(#gTi)"/><circle cx="453.27" cy="871.40" r="3.40" fill="url(#gTi)"/><circle cx="468.37" cy="871.40" r="3.40" fill="url(#gTi)"/><circle cx="483.47" cy="871.40" r="3.40" fill="url(#gTi)"/><circle cx="498.57" cy="871.40" r="3.40" fill="url(#gTi)"/><circle cx="513.67" cy="871.40" r="3.40" fill="url(#gTi)"/><circle cx="528.77" cy="871.40" r="3.40" fill="url(#gTi)"/><circle cx="543.87" cy="871.40" r="3.40" fill="url(#gTi)"/><circle cx="558.97" cy="871.40" r="3.40" fill="url(#gTi)"/><circle cx="574.07" cy="871.40" r="3.40" fill="url(#gTi)"/><circle cx="589.17" cy="871.40" r="3.40" fill="url(#gTi)"/><circle cx="604.27" cy="871.40" r="3.40" fill="url(#gTi)"/><circle cx="619.37" cy="871.40" r="3.40" fill="url(#gTi)"/><circle cx="634.47" cy="871.40" r="3.40" fill="url(#gTi)"/><circle cx="649.57" cy="871.40" r="3.40" fill="url(#gTi)"/><circle cx="664.67" cy="871.40" r="3.40" fill="url(#gTi)"/><circle cx="70.73" cy="879.25" r="2.00" fill="url(#gC)"/><circle cx="85.83" cy="879.25" r="2.00" fill="url(#gC)"/><circle cx="100.93" cy="879.25" r="2.00" fill="url(#gC)"/><circle cx="116.03" cy="879.25" r="2.00" fill="url(#gC)"/><circle cx="131.13" cy="879.25" r="2.00" fill="url(#gC)"/><circle cx="146.23" cy="879.25" r="2.00" fill="url(#gC)"/><circle cx="161.33" cy="879.25" r="2.00" fill="url(#gC)"/><circle cx="176.43" cy="879.25" r="2.00" fill="url(#gC)"/><circle cx="191.53" cy="879.25" r="2.00" fill="url(#gC)"/><circle cx="206.63" cy="879.25" r="2.00" fill="url(#gC)"/><circle cx="221.73" cy="879.25" r="2.00" fill="url(#gC)"/><circle cx="236.83" cy="879.25" r="2.00" fill="url(#gC)"/><circle cx="251.93" cy="879.25" r="2.00" fill="url(#gC)"/><circle cx="267.03" cy="879.25" r="2.00" fill="url(#gC)"/><circle cx="282.13" cy="879.25" r="2.00" fill="url(#gC)"/><circle cx="297.23" cy="879.25" r="2.00" fill="url(#gC)"/><circle cx="312.33" cy="879.25" r="2.00" fill="url(#gC)"/><circle cx="327.43" cy="879.25" r="2.00" fill="url(#gC)"/><circle cx="342.53" cy="879.25" r="2.00" fill="url(#gC)"/><circle cx="357.63" cy="879.25" r="2.00" fill="url(#gC)"/><circle cx="372.73" cy="879.25" r="2.00" fill="url(#gC)"/><circle cx="387.83" cy="879.25" r="2.00" fill="url(#gC)"/><circle cx="402.93" cy="879.25" r="2.00" fill="url(#gC)"/><circle cx="418.03" cy="879.25" r="2.00" fill="url(#gC)"/><circle cx="433.13" cy="879.25" r="2.00" fill="url(#gC)"/><circle cx="448.23" cy="879.25" r="2.00" fill="url(#gC)"/><circle cx="463.33" cy="879.25" r="2.00" fill="url(#gC)"/><circle cx="478.43" cy="879.25" r="2.00" fill="url(#gC)"/><circle cx="493.53" cy="879.25" r="2.00" fill="url(#gC)"/><circle cx="508.63" cy="879.25" r="2.00" fill="url(#gC)"/><circle cx="523.73" cy="879.25" r="2.00" fill="url(#gC)"/><circle cx="538.83" cy="879.25" r="2.00" fill="url(#gC)"/><circle cx="553.93" cy="879.25" r="2.00" fill="url(#gC)"/><circle cx="569.03" cy="879.25" r="2.00" fill="url(#gC)"/><circle cx="584.13" cy="879.25" r="2.00" fill="url(#gC)"/><circle cx="599.23" cy="879.25" r="2.00" fill="url(#gC)"/><circle cx="614.33" cy="879.25" r="2.00" fill="url(#gC)"/><circle cx="629.43" cy="879.25" r="2.00" fill="url(#gC)"/><circle cx="644.53" cy="879.25" r="2.00" fill="url(#gC)"/><circle cx="659.63" cy="879.25" r="2.00" fill="url(#gC)"/><circle cx="80.80" cy="886.50" r="3.40" fill="url(#gTi)"/><circle cx="95.90" cy="886.50" r="3.40" fill="url(#gTi)"/><circle cx="111.00" cy="886.50" r="3.40" fill="url(#gTi)"/><circle cx="126.10" cy="886.50" r="3.40" fill="url(#gTi)"/><circle cx="141.20" cy="886.50" r="3.40" fill="url(#gTi)"/><circle cx="156.30" cy="886.50" r="3.40" fill="url(#gTi)"/><circle cx="171.40" cy="886.50" r="3.40" fill="url(#gTi)"/><circle cx="186.50" cy="886.50" r="3.40" fill="url(#gTi)"/><circle cx="201.60" cy="886.50" r="3.40" fill="url(#gTi)"/><circle cx="216.70" cy="886.50" r="3.40" fill="url(#gTi)"/><circle cx="231.80" cy="886.50" r="3.40" fill="url(#gTi)"/><circle cx="246.90" cy="886.50" r="3.40" fill="url(#gTi)"/><circle cx="262.00" cy="886.50" r="3.40" fill="url(#gTi)"/><circle cx="277.10" cy="886.50" r="3.40" fill="url(#gTi)"/><circle cx="292.20" cy="886.50" r="3.40" fill="url(#gTi)"/><circle cx="307.30" cy="886.50" r="3.40" fill="url(#gTi)"/><circle cx="322.40" cy="886.50" r="3.40" fill="url(#gTi)"/><circle cx="337.50" cy="886.50" r="3.40" fill="url(#gTi)"/><circle cx="352.60" cy="886.50" r="3.40" fill="url(#gTi)"/><circle cx="367.70" cy="886.50" r="3.40" fill="url(#gTi)"/><circle cx="382.80" cy="886.50" r="3.40" fill="url(#gTi)"/><circle cx="397.90" cy="886.50" r="3.40" fill="url(#gTi)"/><circle cx="413.00" cy="886.50" r="3.40" fill="url(#gTi)"/><circle cx="428.10" cy="886.50" r="3.40" fill="url(#gTi)"/><circle cx="443.20" cy="886.50" r="3.40" fill="url(#gTi)"/><circle cx="458.30" cy="886.50" r="3.40" fill="url(#gTi)"/><circle cx="473.40" cy="886.50" r="3.40" fill="url(#gTi)"/><circle cx="488.50" cy="886.50" r="3.40" fill="url(#gTi)"/><circle cx="503.60" cy="886.50" r="3.40" fill="url(#gTi)"/><circle cx="518.70" cy="886.50" r="3.40" fill="url(#gTi)"/><circle cx="533.80" cy="886.50" r="3.40" fill="url(#gTi)"/><circle cx="548.90" cy="886.50" r="3.40" fill="url(#gTi)"/><circle cx="564.00" cy="886.50" r="3.40" fill="url(#gTi)"/><circle cx="579.10" cy="886.50" r="3.40" fill="url(#gTi)"/><circle cx="594.20" cy="886.50" r="3.40" fill="url(#gTi)"/><circle cx="609.30" cy="886.50" r="3.40" fill="url(#gTi)"/><circle cx="624.40" cy="886.50" r="3.40" fill="url(#gTi)"/><circle cx="639.50" cy="886.50" r="3.40" fill="url(#gTi)"/><circle cx="654.60" cy="886.50" r="3.40" fill="url(#gTi)"/><circle cx="669.70" cy="886.50" r="3.40" fill="url(#gTi)"/><circle cx="75.77" cy="893.45" r="2.00" fill="url(#gC)"/><circle cx="90.87" cy="893.45" r="2.00" fill="url(#gC)"/><circle cx="105.97" cy="893.45" r="2.00" fill="url(#gC)"/><circle cx="121.07" cy="893.45" r="2.00" fill="url(#gC)"/><circle cx="136.17" cy="893.45" r="2.00" fill="url(#gC)"/><circle cx="151.27" cy="893.45" r="2.00" fill="url(#gC)"/><circle cx="166.37" cy="893.45" r="2.00" fill="url(#gC)"/><circle cx="181.47" cy="893.45" r="2.00" fill="url(#gC)"/><circle cx="196.57" cy="893.45" r="2.00" fill="url(#gC)"/><circle cx="211.67" cy="893.45" r="2.00" fill="url(#gC)"/><circle cx="226.77" cy="893.45" r="2.00" fill="url(#gC)"/><circle cx="241.87" cy="893.45" r="2.00" fill="url(#gC)"/><circle cx="256.97" cy="893.45" r="2.00" fill="url(#gC)"/><circle cx="272.07" cy="893.45" r="2.00" fill="url(#gC)"/><circle cx="287.17" cy="893.45" r="2.00" fill="url(#gC)"/><circle cx="302.27" cy="893.45" r="2.00" fill="url(#gC)"/><circle cx="317.37" cy="893.45" r="2.00" fill="url(#gC)"/><circle cx="332.47" cy="893.45" r="2.00" fill="url(#gC)"/><circle cx="347.57" cy="893.45" r="2.00" fill="url(#gC)"/><circle cx="362.67" cy="893.45" r="2.00" fill="url(#gC)"/><circle cx="377.77" cy="893.45" r="2.00" fill="url(#gC)"/><circle cx="392.87" cy="893.45" r="2.00" fill="url(#gC)"/><circle cx="407.97" cy="893.45" r="2.00" fill="url(#gC)"/><circle cx="423.07" cy="893.45" r="2.00" fill="url(#gC)"/><circle cx="438.17" cy="893.45" r="2.00" fill="url(#gC)"/><circle cx="453.27" cy="893.45" r="2.00" fill="url(#gC)"/><circle cx="468.37" cy="893.45" r="2.00" fill="url(#gC)"/><circle cx="483.47" cy="893.45" r="2.00" fill="url(#gC)"/><circle cx="498.57" cy="893.45" r="2.00" fill="url(#gC)"/><circle cx="513.67" cy="893.45" r="2.00" fill="url(#gC)"/><circle cx="528.77" cy="893.45" r="2.00" fill="url(#gC)"/><circle cx="543.87" cy="893.45" r="2.00" fill="url(#gC)"/><circle cx="558.97" cy="893.45" r="2.00" fill="url(#gC)"/><circle cx="574.07" cy="893.45" r="2.00" fill="url(#gC)"/><circle cx="589.17" cy="893.45" r="2.00" fill="url(#gC)"/><circle cx="604.27" cy="893.45" r="2.00" fill="url(#gC)"/><circle cx="619.37" cy="893.45" r="2.00" fill="url(#gC)"/><circle cx="634.47" cy="893.45" r="2.00" fill="url(#gC)"/><circle cx="649.57" cy="893.45" r="2.00" fill="url(#gC)"/><circle cx="664.67" cy="893.45" r="2.00" fill="url(#gC)"/><circle cx="70.73" cy="901.30" r="3.40" fill="url(#gTi)"/><circle cx="85.83" cy="901.30" r="3.40" fill="url(#gTi)"/><circle cx="100.93" cy="901.30" r="3.40" fill="url(#gTi)"/><circle cx="116.03" cy="901.30" r="3.40" fill="url(#gTi)"/><circle cx="131.13" cy="901.30" r="3.40" fill="url(#gTi)"/><circle cx="146.23" cy="901.30" r="3.40" fill="url(#gTi)"/><circle cx="161.33" cy="901.30" r="3.40" fill="url(#gTi)"/><circle cx="176.43" cy="901.30" r="3.40" fill="url(#gTi)"/><circle cx="191.53" cy="901.30" r="3.40" fill="url(#gTi)"/><circle cx="206.63" cy="901.30" r="3.40" fill="url(#gTi)"/><circle cx="221.73" cy="901.30" r="3.40" fill="url(#gTi)"/><circle cx="236.83" cy="901.30" r="3.40" fill="url(#gTi)"/><circle cx="251.93" cy="901.30" r="3.40" fill="url(#gTi)"/><circle cx="267.03" cy="901.30" r="3.40" fill="url(#gTi)"/><circle cx="282.13" cy="901.30" r="3.40" fill="url(#gTi)"/><circle cx="297.23" cy="901.30" r="3.40" fill="url(#gTi)"/><circle cx="312.33" cy="901.30" r="3.40" fill="url(#gTi)"/><circle cx="327.43" cy="901.30" r="3.40" fill="url(#gTi)"/><circle cx="342.53" cy="901.30" r="3.40" fill="url(#gTi)"/><circle cx="357.63" cy="901.30" r="3.40" fill="url(#gTi)"/><circle cx="372.73" cy="901.30" r="3.40" fill="url(#gTi)"/><circle cx="387.83" cy="901.30" r="3.40" fill="url(#gTi)"/><circle cx="402.93" cy="901.30" r="3.40" fill="url(#gTi)"/><circle cx="418.03" cy="901.30" r="3.40" fill="url(#gTi)"/><circle cx="433.13" cy="901.30" r="3.40" fill="url(#gTi)"/><circle cx="448.23" cy="901.30" r="3.40" fill="url(#gTi)"/><circle cx="463.33" cy="901.30" r="3.40" fill="url(#gTi)"/><circle cx="478.43" cy="901.30" r="3.40" fill="url(#gTi)"/><circle cx="493.53" cy="901.30" r="3.40" fill="url(#gTi)"/><circle cx="508.63" cy="901.30" r="3.40" fill="url(#gTi)"/><circle cx="523.73" cy="901.30" r="3.40" fill="url(#gTi)"/><circle cx="538.83" cy="901.30" r="3.40" fill="url(#gTi)"/><circle cx="553.93" cy="901.30" r="3.40" fill="url(#gTi)"/><circle cx="569.03" cy="901.30" r="3.40" fill="url(#gTi)"/><circle cx="584.13" cy="901.30" r="3.40" fill="url(#gTi)"/><circle cx="599.23" cy="901.30" r="3.40" fill="url(#gTi)"/><circle cx="614.33" cy="901.30" r="3.40" fill="url(#gTi)"/><circle cx="629.43" cy="901.30" r="3.40" fill="url(#gTi)"/><circle cx="644.53" cy="901.30" r="3.40" fill="url(#gTi)"/><circle cx="659.63" cy="901.30" r="3.40" fill="url(#gTi)"/><circle cx="75.77" cy="906.88" r="2.20" fill="url(#gO)"/><circle cx="90.87" cy="906.88" r="2.20" fill="url(#gO)"/><circle cx="105.97" cy="906.88" r="2.20" fill="url(#gO)"/><circle cx="121.07" cy="906.88" r="2.20" fill="url(#gO)"/><circle cx="136.17" cy="906.88" r="2.20" fill="url(#gO)"/><circle cx="151.27" cy="906.88" r="2.20" fill="url(#gO)"/><circle cx="166.37" cy="906.88" r="2.20" fill="url(#gO)"/><circle cx="181.47" cy="906.88" r="2.20" fill="url(#gO)"/><circle cx="196.57" cy="906.88" r="2.20" fill="url(#gO)"/><circle cx="211.67" cy="906.88" r="2.20" fill="url(#gO)"/><circle cx="226.77" cy="906.88" r="2.20" fill="url(#gO)"/><circle cx="241.87" cy="906.88" r="2.20" fill="url(#gO)"/><circle cx="256.97" cy="906.88" r="2.20" fill="url(#gO)"/><circle cx="272.07" cy="906.88" r="2.20" fill="url(#gO)"/><circle cx="287.17" cy="906.88" r="2.20" fill="url(#gO)"/><circle cx="302.27" cy="906.88" r="2.20" fill="url(#gO)"/><circle cx="317.37" cy="906.88" r="2.20" fill="url(#gO)"/><circle cx="332.47" cy="906.88" r="2.20" fill="url(#gO)"/><circle cx="347.57" cy="906.88" r="2.20" fill="url(#gO)"/><circle cx="362.67" cy="906.88" r="2.20" fill="url(#gO)"/><circle cx="377.77" cy="906.88" r="2.20" fill="url(#gO)"/><circle cx="392.87" cy="906.88" r="2.20" fill="url(#gO)"/><circle cx="407.97" cy="906.88" r="2.20" fill="url(#gO)"/><circle cx="423.07" cy="906.88" r="2.20" fill="url(#gO)"/><circle cx="438.17" cy="906.88" r="2.20" fill="url(#gO)"/><circle cx="453.27" cy="906.88" r="2.20" fill="url(#gO)"/><circle cx="468.37" cy="906.88" r="2.20" fill="url(#gO)"/><circle cx="483.47" cy="906.88" r="2.20" fill="url(#gO)"/><circle cx="498.57" cy="906.88" r="2.20" fill="url(#gO)"/><circle cx="513.67" cy="906.88" r="2.20" fill="url(#gO)"/><circle cx="528.77" cy="906.88" r="2.20" fill="url(#gO)"/><circle cx="543.87" cy="906.88" r="2.20" fill="url(#gO)"/><circle cx="558.97" cy="906.88" r="2.20" fill="url(#gO)"/><circle cx="574.07" cy="906.88" r="2.20" fill="url(#gO)"/><circle cx="589.17" cy="906.88" r="2.20" fill="url(#gO)"/><circle cx="604.27" cy="906.88" r="2.20" fill="url(#gO)"/><circle cx="619.37" cy="906.88" r="2.20" fill="url(#gO)"/><circle cx="634.47" cy="906.88" r="2.20" fill="url(#gO)"/><circle cx="649.57" cy="906.88" r="2.20" fill="url(#gO)"/><circle cx="664.67" cy="906.88" r="2.20" fill="url(#gO)"/><circle cx="70.73" cy="865.51" r="2.20" fill="url(#gO)"/><circle cx="85.83" cy="865.51" r="2.20" fill="url(#gO)"/><circle cx="100.93" cy="865.51" r="2.20" fill="url(#gO)"/><circle cx="116.03" cy="865.51" r="2.20" fill="url(#gO)"/><circle cx="131.13" cy="865.51" r="2.20" fill="url(#gO)"/><circle cx="146.23" cy="865.51" r="2.20" fill="url(#gO)"/><circle cx="161.33" cy="865.51" r="2.20" fill="url(#gO)"/><circle cx="176.43" cy="865.51" r="2.20" fill="url(#gO)"/><circle cx="191.53" cy="865.51" r="2.20" fill="url(#gO)"/><circle cx="206.63" cy="865.51" r="2.20" fill="url(#gO)"/><circle cx="221.73" cy="865.51" r="2.20" fill="url(#gO)"/><circle cx="236.83" cy="865.51" r="2.20" fill="url(#gO)"/><circle cx="251.93" cy="865.51" r="2.20" fill="url(#gO)"/><circle cx="267.03" cy="865.51" r="2.20" fill="url(#gO)"/><circle cx="282.13" cy="865.51" r="2.20" fill="url(#gO)"/><circle cx="297.23" cy="865.51" r="2.20" fill="url(#gO)"/><circle cx="312.33" cy="865.51" r="2.20" fill="url(#gO)"/><circle cx="327.43" cy="865.51" r="2.20" fill="url(#gO)"/><circle cx="342.53" cy="865.51" r="2.20" fill="url(#gO)"/><circle cx="357.63" cy="865.51" r="2.20" fill="url(#gO)"/><circle cx="372.73" cy="865.51" r="2.20" fill="url(#gO)"/><circle cx="387.83" cy="865.51" r="2.20" fill="url(#gO)"/><circle cx="402.93" cy="865.51" r="2.20" fill="url(#gO)"/><circle cx="418.03" cy="865.51" r="2.20" fill="url(#gO)"/><circle cx="433.13" cy="865.51" r="2.20" fill="url(#gO)"/><circle cx="448.23" cy="865.51" r="2.20" fill="url(#gO)"/><circle cx="463.33" cy="865.51" r="2.20" fill="url(#gO)"/><circle cx="478.43" cy="865.51" r="2.20" fill="url(#gO)"/><circle cx="493.53" cy="865.51" r="2.20" fill="url(#gO)"/><circle cx="508.63" cy="865.51" r="2.20" fill="url(#gO)"/><circle cx="523.73" cy="865.51" r="2.20" fill="url(#gO)"/><circle cx="538.83" cy="865.51" r="2.20" fill="url(#gO)"/><circle cx="553.93" cy="865.51" r="2.20" fill="url(#gO)"/><circle cx="569.03" cy="865.51" r="2.20" fill="url(#gO)"/><circle cx="584.13" cy="865.51" r="2.20" fill="url(#gO)"/><circle cx="599.23" cy="865.51" r="2.20" fill="url(#gO)"/><circle cx="614.33" cy="865.51" r="2.20" fill="url(#gO)"/><circle cx="629.43" cy="865.51" r="2.20" fill="url(#gO)"/><circle cx="644.53" cy="865.51" r="2.20" fill="url(#gO)"/><circle cx="659.63" cy="865.51" r="2.20" fill="url(#gO)"/>
<line x1="241.10" y1="846.00" x2="243.27" y2="844.10" stroke="#2020b0" stroke-width="1.6" opacity="0.5"/><line x1="243.27" y1="844.10" x2="245.45" y2="842.20" stroke="#86d020" stroke-width="1.6" opacity="0.5"/><line x1="241.10" y1="846.00" x2="246.39" y2="847.40" stroke="#2020b0" stroke-width="1.6" opacity="0.5"/><line x1="246.39" y1="847.40" x2="251.69" y2="848.80" stroke="#86d020" stroke-width="1.6" opacity="0.5"/><line x1="255.60" y1="846.00" x2="250.52" y2="844.10" stroke="#2020b0" stroke-width="1.6" opacity="0.5"/><line x1="250.52" y1="844.10" x2="245.45" y2="842.20" stroke="#86d020" stroke-width="1.6" opacity="0.5"/><line x1="255.60" y1="846.00" x2="253.64" y2="847.40" stroke="#2020b0" stroke-width="1.6" opacity="0.5"/><line x1="253.64" y1="847.40" x2="251.69" y2="848.80" stroke="#86d020" stroke-width="1.6" opacity="0.5"/><line x1="255.60" y1="846.00" x2="257.77" y2="844.10" stroke="#2020b0" stroke-width="1.6" opacity="0.5"/><line x1="257.77" y1="844.10" x2="259.95" y2="842.20" stroke="#86d020" stroke-width="1.6" opacity="0.5"/><line x1="255.60" y1="846.00" x2="260.89" y2="847.40" stroke="#2020b0" stroke-width="1.6" opacity="0.5"/><line x1="260.89" y1="847.40" x2="266.19" y2="848.80" stroke="#86d020" stroke-width="1.6" opacity="0.5"/><line x1="270.10" y1="846.00" x2="265.02" y2="844.10" stroke="#2020b0" stroke-width="1.6" opacity="0.5"/><line x1="265.02" y1="844.10" x2="259.95" y2="842.20" stroke="#86d020" stroke-width="1.6" opacity="0.5"/><line x1="270.10" y1="846.00" x2="268.14" y2="847.40" stroke="#2020b0" stroke-width="1.6" opacity="0.5"/><line x1="268.14" y1="847.40" x2="266.19" y2="848.80" stroke="#86d020" stroke-width="1.6" opacity="0.5"/><line x1="270.10" y1="846.00" x2="272.28" y2="844.10" stroke="#2020b0" stroke-width="1.6" opacity="0.5"/><line x1="272.28" y1="844.10" x2="274.45" y2="842.20" stroke="#86d020" stroke-width="1.6" opacity="0.5"/><line x1="270.10" y1="846.00" x2="275.39" y2="847.40" stroke="#2020b0" stroke-width="1.6" opacity="0.5"/><line x1="275.39" y1="847.40" x2="280.69" y2="848.80" stroke="#86d020" stroke-width="1.6" opacity="0.5"/><line x1="284.60" y1="846.00" x2="279.53" y2="844.10" stroke="#2020b0" stroke-width="1.6" opacity="0.5"/><line x1="279.53" y1="844.10" x2="274.45" y2="842.20" stroke="#86d020" stroke-width="1.6" opacity="0.5"/><line x1="284.60" y1="846.00" x2="282.64" y2="847.40" stroke="#2020b0" stroke-width="1.6" opacity="0.5"/><line x1="282.64" y1="847.40" x2="280.69" y2="848.80" stroke="#86d020" stroke-width="1.6" opacity="0.5"/><line x1="284.60" y1="846.00" x2="286.78" y2="844.10" stroke="#2020b0" stroke-width="1.6" opacity="0.5"/><line x1="286.78" y1="844.10" x2="288.95" y2="842.20" stroke="#86d020" stroke-width="1.6" opacity="0.5"/><line x1="284.60" y1="846.00" x2="289.89" y2="847.40" stroke="#2020b0" stroke-width="1.6" opacity="0.5"/><line x1="289.89" y1="847.40" x2="295.19" y2="848.80" stroke="#86d020" stroke-width="1.6" opacity="0.5"/><line x1="299.10" y1="846.00" x2="294.03" y2="844.10" stroke="#2020b0" stroke-width="1.6" opacity="0.5"/><line x1="294.03" y1="844.10" x2="288.95" y2="842.20" stroke="#86d020" stroke-width="1.6" opacity="0.5"/><line x1="299.10" y1="846.00" x2="297.14" y2="847.40" stroke="#2020b0" stroke-width="1.6" opacity="0.5"/><line x1="297.14" y1="847.40" x2="295.19" y2="848.80" stroke="#86d020" stroke-width="1.6" opacity="0.5"/><circle cx="241.10" cy="846.00" r="2.90" fill="url(#gCo)" opacity="0.5"/><circle cx="255.60" cy="846.00" r="2.90" fill="url(#gCo)" opacity="0.5"/><circle cx="270.10" cy="846.00" r="2.90" fill="url(#gCo)" opacity="0.5"/><circle cx="284.60" cy="846.00" r="2.90" fill="url(#gCo)" opacity="0.5"/><circle cx="299.10" cy="846.00" r="2.90" fill="url(#gCo)" opacity="0.5"/><circle cx="245.45" cy="842.20" r="2.60" fill="url(#gSe)" opacity="0.5"/><circle cx="251.69" cy="848.80" r="2.60" fill="url(#gSe)" opacity="0.5"/><circle cx="259.95" cy="842.20" r="2.60" fill="url(#gSe)" opacity="0.5"/><circle cx="266.19" cy="848.80" r="2.60" fill="url(#gSe)" opacity="0.5"/><circle cx="274.45" cy="842.20" r="2.60" fill="url(#gSe)" opacity="0.5"/><circle cx="280.69" cy="848.80" r="2.60" fill="url(#gSe)" opacity="0.5"/><circle cx="288.95" cy="842.20" r="2.60" fill="url(#gSe)" opacity="0.5"/><circle cx="295.19" cy="848.80" r="2.60" fill="url(#gSe)" opacity="0.5"/>
<line x1="241.10" y1="859.50" x2="243.27" y2="857.60" stroke="#2020b0" stroke-width="1.6" opacity="0.5"/><line x1="243.27" y1="857.60" x2="245.45" y2="855.70" stroke="#86d020" stroke-width="1.6" opacity="0.5"/><line x1="241.10" y1="859.50" x2="246.39" y2="860.90" stroke="#2020b0" stroke-width="1.6" opacity="0.5"/><line x1="246.39" y1="860.90" x2="251.69" y2="862.30" stroke="#86d020" stroke-width="1.6" opacity="0.5"/><line x1="255.60" y1="859.50" x2="250.52" y2="857.60" stroke="#2020b0" stroke-width="1.6" opacity="0.5"/><line x1="250.52" y1="857.60" x2="245.45" y2="855.70" stroke="#86d020" stroke-width="1.6" opacity="0.5"/><line x1="255.60" y1="859.50" x2="253.64" y2="860.90" stroke="#2020b0" stroke-width="1.6" opacity="0.5"/><line x1="253.64" y1="860.90" x2="251.69" y2="862.30" stroke="#86d020" stroke-width="1.6" opacity="0.5"/><line x1="255.60" y1="859.50" x2="257.77" y2="857.60" stroke="#2020b0" stroke-width="1.6" opacity="0.5"/><line x1="257.77" y1="857.60" x2="259.95" y2="855.70" stroke="#86d020" stroke-width="1.6" opacity="0.5"/><line x1="255.60" y1="859.50" x2="260.89" y2="860.90" stroke="#2020b0" stroke-width="1.6" opacity="0.5"/><line x1="260.89" y1="860.90" x2="266.19" y2="862.30" stroke="#86d020" stroke-width="1.6" opacity="0.5"/><line x1="270.10" y1="859.50" x2="265.02" y2="857.60" stroke="#2020b0" stroke-width="1.6" opacity="0.5"/><line x1="265.02" y1="857.60" x2="259.95" y2="855.70" stroke="#86d020" stroke-width="1.6" opacity="0.5"/><line x1="270.10" y1="859.50" x2="268.14" y2="860.90" stroke="#2020b0" stroke-width="1.6" opacity="0.5"/><line x1="268.14" y1="860.90" x2="266.19" y2="862.30" stroke="#86d020" stroke-width="1.6" opacity="0.5"/><line x1="270.10" y1="859.50" x2="272.28" y2="857.60" stroke="#2020b0" stroke-width="1.6" opacity="0.5"/><line x1="272.28" y1="857.60" x2="274.45" y2="855.70" stroke="#86d020" stroke-width="1.6" opacity="0.5"/><line x1="270.10" y1="859.50" x2="275.39" y2="860.90" stroke="#2020b0" stroke-width="1.6" opacity="0.5"/><line x1="275.39" y1="860.90" x2="280.69" y2="862.30" stroke="#86d020" stroke-width="1.6" opacity="0.5"/><line x1="284.60" y1="859.50" x2="279.53" y2="857.60" stroke="#2020b0" stroke-width="1.6" opacity="0.5"/><line x1="279.53" y1="857.60" x2="274.45" y2="855.70" stroke="#86d020" stroke-width="1.6" opacity="0.5"/><line x1="284.60" y1="859.50" x2="282.64" y2="860.90" stroke="#2020b0" stroke-width="1.6" opacity="0.5"/><line x1="282.64" y1="860.90" x2="280.69" y2="862.30" stroke="#86d020" stroke-width="1.6" opacity="0.5"/><line x1="284.60" y1="859.50" x2="286.78" y2="857.60" stroke="#2020b0" stroke-width="1.6" opacity="0.5"/><line x1="286.78" y1="857.60" x2="288.95" y2="855.70" stroke="#86d020" stroke-width="1.6" opacity="0.5"/><line x1="284.60" y1="859.50" x2="289.89" y2="860.90" stroke="#2020b0" stroke-width="1.6" opacity="0.5"/><line x1="289.89" y1="860.90" x2="295.19" y2="862.30" stroke="#86d020" stroke-width="1.6" opacity="0.5"/><line x1="299.10" y1="859.50" x2="294.03" y2="857.60" stroke="#2020b0" stroke-width="1.6" opacity="0.5"/><line x1="294.03" y1="857.60" x2="288.95" y2="855.70" stroke="#86d020" stroke-width="1.6" opacity="0.5"/><line x1="299.10" y1="859.50" x2="297.14" y2="860.90" stroke="#2020b0" stroke-width="1.6" opacity="0.5"/><line x1="297.14" y1="860.90" x2="295.19" y2="862.30" stroke="#86d020" stroke-width="1.6" opacity="0.5"/><circle cx="241.10" cy="859.50" r="2.90" fill="url(#gCo)" opacity="0.5"/><circle cx="255.60" cy="859.50" r="2.90" fill="url(#gCo)" opacity="0.5"/><circle cx="270.10" cy="859.50" r="2.90" fill="url(#gCo)" opacity="0.5"/><circle cx="284.60" cy="859.50" r="2.90" fill="url(#gCo)" opacity="0.5"/><circle cx="299.10" cy="859.50" r="2.90" fill="url(#gCo)" opacity="0.5"/><circle cx="245.45" cy="855.70" r="2.60" fill="url(#gSe)" opacity="0.5"/><circle cx="251.69" cy="862.30" r="2.60" fill="url(#gSe)" opacity="0.5"/><circle cx="259.95" cy="855.70" r="2.60" fill="url(#gSe)" opacity="0.5"/><circle cx="266.19" cy="862.30" r="2.60" fill="url(#gSe)" opacity="0.5"/><circle cx="274.45" cy="855.70" r="2.60" fill="url(#gSe)" opacity="0.5"/><circle cx="280.69" cy="862.30" r="2.60" fill="url(#gSe)" opacity="0.5"/><circle cx="288.95" cy="855.70" r="2.60" fill="url(#gSe)" opacity="0.5"/><circle cx="295.19" cy="862.30" r="2.60" fill="url(#gSe)" opacity="0.5"/>
<line x1="572.50" y1="847.90" x2="574.67" y2="846.00" stroke="#2020b0" stroke-width="1.6" opacity="0.5"/><line x1="574.67" y1="846.00" x2="576.85" y2="844.10" stroke="#86d020" stroke-width="1.6" opacity="0.5"/><line x1="572.50" y1="847.90" x2="577.79" y2="849.30" stroke="#2020b0" stroke-width="1.6" opacity="0.5"/><line x1="577.79" y1="849.30" x2="583.09" y2="850.70" stroke="#86d020" stroke-width="1.6" opacity="0.5"/><line x1="587.00" y1="847.90" x2="581.92" y2="846.00" stroke="#2020b0" stroke-width="1.6" opacity="0.5"/><line x1="581.92" y1="846.00" x2="576.85" y2="844.10" stroke="#86d020" stroke-width="1.6" opacity="0.5"/><line x1="587.00" y1="847.90" x2="585.04" y2="849.30" stroke="#2020b0" stroke-width="1.6" opacity="0.5"/><line x1="585.04" y1="849.30" x2="583.09" y2="850.70" stroke="#86d020" stroke-width="1.6" opacity="0.5"/><line x1="587.00" y1="847.90" x2="589.17" y2="846.00" stroke="#2020b0" stroke-width="1.6" opacity="0.5"/><line x1="589.17" y1="846.00" x2="591.35" y2="844.10" stroke="#86d020" stroke-width="1.6" opacity="0.5"/><line x1="587.00" y1="847.90" x2="592.29" y2="849.30" stroke="#2020b0" stroke-width="1.6" opacity="0.5"/><line x1="592.29" y1="849.30" x2="597.59" y2="850.70" stroke="#86d020" stroke-width="1.6" opacity="0.5"/><line x1="601.50" y1="847.90" x2="596.42" y2="846.00" stroke="#2020b0" stroke-width="1.6" opacity="0.5"/><line x1="596.42" y1="846.00" x2="591.35" y2="844.10" stroke="#86d020" stroke-width="1.6" opacity="0.5"/><line x1="601.50" y1="847.90" x2="599.54" y2="849.30" stroke="#2020b0" stroke-width="1.6" opacity="0.5"/><line x1="599.54" y1="849.30" x2="597.59" y2="850.70" stroke="#86d020" stroke-width="1.6" opacity="0.5"/><line x1="601.50" y1="847.90" x2="603.67" y2="846.00" stroke="#2020b0" stroke-width="1.6" opacity="0.5"/><line x1="603.67" y1="846.00" x2="605.85" y2="844.10" stroke="#86d020" stroke-width="1.6" opacity="0.5"/><line x1="601.50" y1="847.90" x2="606.79" y2="849.30" stroke="#2020b0" stroke-width="1.6" opacity="0.5"/><line x1="606.79" y1="849.30" x2="612.09" y2="850.70" stroke="#86d020" stroke-width="1.6" opacity="0.5"/><line x1="616.00" y1="847.90" x2="610.92" y2="846.00" stroke="#2020b0" stroke-width="1.6" opacity="0.5"/><line x1="610.92" y1="846.00" x2="605.85" y2="844.10" stroke="#86d020" stroke-width="1.6" opacity="0.5"/><line x1="616.00" y1="847.90" x2="614.04" y2="849.30" stroke="#2020b0" stroke-width="1.6" opacity="0.5"/><line x1="614.04" y1="849.30" x2="612.09" y2="850.70" stroke="#86d020" stroke-width="1.6" opacity="0.5"/><line x1="616.00" y1="847.90" x2="618.17" y2="846.00" stroke="#2020b0" stroke-width="1.6" opacity="0.5"/><line x1="618.17" y1="846.00" x2="620.35" y2="844.10" stroke="#86d020" stroke-width="1.6" opacity="0.5"/><line x1="616.00" y1="847.90" x2="621.29" y2="849.30" stroke="#2020b0" stroke-width="1.6" opacity="0.5"/><line x1="621.29" y1="849.30" x2="626.59" y2="850.70" stroke="#86d020" stroke-width="1.6" opacity="0.5"/><line x1="630.50" y1="847.90" x2="625.42" y2="846.00" stroke="#2020b0" stroke-width="1.6" opacity="0.5"/><line x1="625.42" y1="846.00" x2="620.35" y2="844.10" stroke="#86d020" stroke-width="1.6" opacity="0.5"/><line x1="630.50" y1="847.90" x2="628.54" y2="849.30" stroke="#2020b0" stroke-width="1.6" opacity="0.5"/><line x1="628.54" y1="849.30" x2="626.59" y2="850.70" stroke="#86d020" stroke-width="1.6" opacity="0.5"/><circle cx="572.50" cy="847.90" r="2.90" fill="url(#gCo)" opacity="0.5"/><circle cx="587.00" cy="847.90" r="2.90" fill="url(#gCo)" opacity="0.5"/><circle cx="601.50" cy="847.90" r="2.90" fill="url(#gCo)" opacity="0.5"/><circle cx="616.00" cy="847.90" r="2.90" fill="url(#gCo)" opacity="0.5"/><circle cx="630.50" cy="847.90" r="2.90" fill="url(#gCo)" opacity="0.5"/><circle cx="576.85" cy="844.10" r="2.60" fill="url(#gSe)" opacity="0.5"/><circle cx="583.09" cy="850.70" r="2.60" fill="url(#gSe)" opacity="0.5"/><circle cx="591.35" cy="844.10" r="2.60" fill="url(#gSe)" opacity="0.5"/><circle cx="597.59" cy="850.70" r="2.60" fill="url(#gSe)" opacity="0.5"/><circle cx="605.85" cy="844.10" r="2.60" fill="url(#gSe)" opacity="0.5"/><circle cx="612.09" cy="850.70" r="2.60" fill="url(#gSe)" opacity="0.5"/><circle cx="620.35" cy="844.10" r="2.60" fill="url(#gSe)" opacity="0.5"/><circle cx="626.59" cy="850.70" r="2.60" fill="url(#gSe)" opacity="0.5"/>
<line x1="572.50" y1="861.40" x2="574.67" y2="859.50" stroke="#2020b0" stroke-width="1.6" opacity="0.5"/><line x1="574.67" y1="859.50" x2="576.85" y2="857.60" stroke="#86d020" stroke-width="1.6" opacity="0.5"/><line x1="572.50" y1="861.40" x2="577.79" y2="862.80" stroke="#2020b0" stroke-width="1.6" opacity="0.5"/><line x1="577.79" y1="862.80" x2="583.09" y2="864.20" stroke="#86d020" stroke-width="1.6" opacity="0.5"/><line x1="587.00" y1="861.40" x2="581.92" y2="859.50" stroke="#2020b0" stroke-width="1.6" opacity="0.5"/><line x1="581.92" y1="859.50" x2="576.85" y2="857.60" stroke="#86d020" stroke-width="1.6" opacity="0.5"/><line x1="587.00" y1="861.40" x2="585.04" y2="862.80" stroke="#2020b0" stroke-width="1.6" opacity="0.5"/><line x1="585.04" y1="862.80" x2="583.09" y2="864.20" stroke="#86d020" stroke-width="1.6" opacity="0.5"/><line x1="587.00" y1="861.40" x2="589.17" y2="859.50" stroke="#2020b0" stroke-width="1.6" opacity="0.5"/><line x1="589.17" y1="859.50" x2="591.35" y2="857.60" stroke="#86d020" stroke-width="1.6" opacity="0.5"/><line x1="587.00" y1="861.40" x2="592.29" y2="862.80" stroke="#2020b0" stroke-width="1.6" opacity="0.5"/><line x1="592.29" y1="862.80" x2="597.59" y2="864.20" stroke="#86d020" stroke-width="1.6" opacity="0.5"/><line x1="601.50" y1="861.40" x2="596.42" y2="859.50" stroke="#2020b0" stroke-width="1.6" opacity="0.5"/><line x1="596.42" y1="859.50" x2="591.35" y2="857.60" stroke="#86d020" stroke-width="1.6" opacity="0.5"/><line x1="601.50" y1="861.40" x2="599.54" y2="862.80" stroke="#2020b0" stroke-width="1.6" opacity="0.5"/><line x1="599.54" y1="862.80" x2="597.59" y2="864.20" stroke="#86d020" stroke-width="1.6" opacity="0.5"/><line x1="601.50" y1="861.40" x2="603.67" y2="859.50" stroke="#2020b0" stroke-width="1.6" opacity="0.5"/><line x1="603.67" y1="859.50" x2="605.85" y2="857.60" stroke="#86d020" stroke-width="1.6" opacity="0.5"/><line x1="601.50" y1="861.40" x2="606.79" y2="862.80" stroke="#2020b0" stroke-width="1.6" opacity="0.5"/><line x1="606.79" y1="862.80" x2="612.09" y2="864.20" stroke="#86d020" stroke-width="1.6" opacity="0.5"/><line x1="616.00" y1="861.40" x2="610.92" y2="859.50" stroke="#2020b0" stroke-width="1.6" opacity="0.5"/><line x1="610.92" y1="859.50" x2="605.85" y2="857.60" stroke="#86d020" stroke-width="1.6" opacity="0.5"/><line x1="616.00" y1="861.40" x2="614.04" y2="862.80" stroke="#2020b0" stroke-width="1.6" opacity="0.5"/><line x1="614.04" y1="862.80" x2="612.09" y2="864.20" stroke="#86d020" stroke-width="1.6" opacity="0.5"/><line x1="616.00" y1="861.40" x2="618.17" y2="859.50" stroke="#2020b0" stroke-width="1.6" opacity="0.5"/><line x1="618.17" y1="859.50" x2="620.35" y2="857.60" stroke="#86d020" stroke-width="1.6" opacity="0.5"/><line x1="616.00" y1="861.40" x2="621.29" y2="862.80" stroke="#2020b0" stroke-width="1.6" opacity="0.5"/><line x1="621.29" y1="862.80" x2="626.59" y2="864.20" stroke="#86d020" stroke-width="1.6" opacity="0.5"/><line x1="630.50" y1="861.40" x2="625.42" y2="859.50" stroke="#2020b0" stroke-width="1.6" opacity="0.5"/><line x1="625.42" y1="859.50" x2="620.35" y2="857.60" stroke="#86d020" stroke-width="1.6" opacity="0.5"/><line x1="630.50" y1="861.40" x2="628.54" y2="862.80" stroke="#2020b0" stroke-width="1.6" opacity="0.5"/><line x1="628.54" y1="862.80" x2="626.59" y2="864.20" stroke="#86d020" stroke-width="1.6" opacity="0.5"/><circle cx="572.50" cy="861.40" r="2.90" fill="url(#gCo)" opacity="0.5"/><circle cx="587.00" cy="861.40" r="2.90" fill="url(#gCo)" opacity="0.5"/><circle cx="601.50" cy="861.40" r="2.90" fill="url(#gCo)" opacity="0.5"/><circle cx="616.00" cy="861.40" r="2.90" fill="url(#gCo)" opacity="0.5"/><circle cx="630.50" cy="861.40" r="2.90" fill="url(#gCo)" opacity="0.5"/><circle cx="576.85" cy="857.60" r="2.60" fill="url(#gSe)" opacity="0.5"/><circle cx="583.09" cy="864.20" r="2.60" fill="url(#gSe)" opacity="0.5"/><circle cx="591.35" cy="857.60" r="2.60" fill="url(#gSe)" opacity="0.5"/><circle cx="597.59" cy="864.20" r="2.60" fill="url(#gSe)" opacity="0.5"/><circle cx="605.85" cy="857.60" r="2.60" fill="url(#gSe)" opacity="0.5"/><circle cx="612.09" cy="864.20" r="2.60" fill="url(#gSe)" opacity="0.5"/><circle cx="620.35" cy="857.60" r="2.60" fill="url(#gSe)" opacity="0.5"/><circle cx="626.59" cy="864.20" r="2.60" fill="url(#gSe)" opacity="0.5"/>
<line x1="449.99" y1="840.90" x2="455.33" y2="840.90" stroke="#2020b0" stroke-width="1.5" opacity="0.5"/><line x1="455.33" y1="840.90" x2="460.68" y2="840.90" stroke="#86d020" stroke-width="1.5" opacity="0.5"/><line x1="478.49" y1="840.90" x2="473.22" y2="840.90" stroke="#2020b0" stroke-width="1.5" opacity="0.5"/><line x1="473.22" y1="840.90" x2="467.94" y2="840.90" stroke="#86d020" stroke-width="1.5" opacity="0.5"/><line x1="478.49" y1="840.90" x2="483.83" y2="840.90" stroke="#2020b0" stroke-width="1.5" opacity="0.5"/><line x1="483.83" y1="840.90" x2="489.18" y2="840.90" stroke="#86d020" stroke-width="1.5" opacity="0.5"/><line x1="506.99" y1="840.90" x2="501.72" y2="840.90" stroke="#2020b0" stroke-width="1.5" opacity="0.5"/><line x1="501.72" y1="840.90" x2="496.44" y2="840.90" stroke="#86d020" stroke-width="1.5" opacity="0.5"/><circle cx="449.99" cy="840.90" r="2.90" fill="url(#gCo)" opacity="0.5"/><circle cx="478.49" cy="840.90" r="2.90" fill="url(#gCo)" opacity="0.5"/><circle cx="506.99" cy="840.90" r="2.90" fill="url(#gCo)" opacity="0.5"/><circle cx="460.68" cy="840.90" r="2.60" fill="url(#gSe)" opacity="0.5"/><circle cx="467.94" cy="840.90" r="2.60" fill="url(#gSe)" opacity="0.5"/><circle cx="489.18" cy="840.90" r="2.60" fill="url(#gSe)" opacity="0.5"/><circle cx="496.44" cy="840.90" r="2.60" fill="url(#gSe)" opacity="0.5"/>
<line x1="453.69" y1="849.90" x2="459.04" y2="849.90" stroke="#86d020" stroke-width="1.5" opacity="0.5"/><line x1="459.04" y1="849.90" x2="464.38" y2="849.90" stroke="#2020b0" stroke-width="1.5" opacity="0.5"/><line x1="474.50" y1="849.90" x2="469.44" y2="849.90" stroke="#86d020" stroke-width="1.5" opacity="0.5"/><line x1="469.44" y1="849.90" x2="464.38" y2="849.90" stroke="#2020b0" stroke-width="1.5" opacity="0.5"/><line x1="482.19" y1="849.90" x2="487.54" y2="849.90" stroke="#86d020" stroke-width="1.5" opacity="0.5"/><line x1="487.54" y1="849.90" x2="492.88" y2="849.90" stroke="#2020b0" stroke-width="1.5" opacity="0.5"/><line x1="503.00" y1="849.90" x2="497.94" y2="849.90" stroke="#86d020" stroke-width="1.5" opacity="0.5"/><line x1="497.94" y1="849.90" x2="492.88" y2="849.90" stroke="#2020b0" stroke-width="1.5" opacity="0.5"/><circle cx="446.00" cy="849.90" r="2.60" fill="url(#gSe)" opacity="0.5"/><circle cx="453.69" cy="849.90" r="2.60" fill="url(#gSe)" opacity="0.5"/><circle cx="474.50" cy="849.90" r="2.60" fill="url(#gSe)" opacity="0.5"/><circle cx="482.19" cy="849.90" r="2.60" fill="url(#gSe)" opacity="0.5"/><circle cx="503.00" cy="849.90" r="2.60" fill="url(#gSe)" opacity="0.5"/><circle cx="510.69" cy="849.90" r="2.60" fill="url(#gSe)" opacity="0.5"/><circle cx="464.38" cy="849.90" r="2.90" fill="url(#gCo)" opacity="0.5"/><circle cx="492.88" cy="849.90" r="2.90" fill="url(#gCo)" opacity="0.5"/>
<line x1="449.99" y1="858.90" x2="455.33" y2="858.90" stroke="#2020b0" stroke-width="1.5" opacity="0.5"/><line x1="455.33" y1="858.90" x2="460.68" y2="858.90" stroke="#86d020" stroke-width="1.5" opacity="0.5"/><line x1="478.49" y1="858.90" x2="473.22" y2="858.90" stroke="#2020b0" stroke-width="1.5" opacity="0.5"/><line x1="473.22" y1="858.90" x2="467.94" y2="858.90" stroke="#86d020" stroke-width="1.5" opacity="0.5"/><line x1="478.49" y1="858.90" x2="483.83" y2="858.90" stroke="#2020b0" stroke-width="1.5" opacity="0.5"/><line x1="483.83" y1="858.90" x2="489.18" y2="858.90" stroke="#86d020" stroke-width="1.5" opacity="0.5"/><line x1="506.99" y1="858.90" x2="501.72" y2="858.90" stroke="#2020b0" stroke-width="1.5" opacity="0.5"/><line x1="501.72" y1="858.90" x2="496.44" y2="858.90" stroke="#86d020" stroke-width="1.5" opacity="0.5"/><circle cx="449.99" cy="858.90" r="2.90" fill="url(#gCo)" opacity="0.5"/><circle cx="478.49" cy="858.90" r="2.90" fill="url(#gCo)" opacity="0.5"/><circle cx="506.99" cy="858.90" r="2.90" fill="url(#gCo)" opacity="0.5"/><circle cx="460.68" cy="858.90" r="2.60" fill="url(#gSe)" opacity="0.5"/><circle cx="467.94" cy="858.90" r="2.60" fill="url(#gSe)" opacity="0.5"/><circle cx="489.18" cy="858.90" r="2.60" fill="url(#gSe)" opacity="0.5"/><circle cx="496.44" cy="858.90" r="2.60" fill="url(#gSe)" opacity="0.5"/>
<line x1="453.69" y1="867.40" x2="459.04" y2="867.40" stroke="#86d020" stroke-width="1.5" opacity="0.5"/><line x1="459.04" y1="867.40" x2="464.38" y2="867.40" stroke="#2020b0" stroke-width="1.5" opacity="0.5"/><line x1="474.50" y1="867.40" x2="469.44" y2="867.40" stroke="#86d020" stroke-width="1.5" opacity="0.5"/><line x1="469.44" y1="867.40" x2="464.38" y2="867.40" stroke="#2020b0" stroke-width="1.5" opacity="0.5"/><line x1="482.19" y1="867.40" x2="487.54" y2="867.40" stroke="#86d020" stroke-width="1.5" opacity="0.5"/><line x1="487.54" y1="867.40" x2="492.88" y2="867.40" stroke="#2020b0" stroke-width="1.5" opacity="0.5"/><line x1="503.00" y1="867.40" x2="497.94" y2="867.40" stroke="#86d020" stroke-width="1.5" opacity="0.5"/><line x1="497.94" y1="867.40" x2="492.88" y2="867.40" stroke="#2020b0" stroke-width="1.5" opacity="0.5"/><circle cx="446.00" cy="867.40" r="2.60" fill="url(#gSe)" opacity="0.5"/><circle cx="453.69" cy="867.40" r="2.60" fill="url(#gSe)" opacity="0.5"/><circle cx="474.50" cy="867.40" r="2.60" fill="url(#gSe)" opacity="0.5"/><circle cx="482.19" cy="867.40" r="2.60" fill="url(#gSe)" opacity="0.5"/><circle cx="503.00" cy="867.40" r="2.60" fill="url(#gSe)" opacity="0.5"/><circle cx="510.69" cy="867.40" r="2.60" fill="url(#gSe)" opacity="0.5"/><circle cx="464.38" cy="867.40" r="2.90" fill="url(#gCo)" opacity="0.5"/><circle cx="492.88" cy="867.40" r="2.90" fill="url(#gCo)" opacity="0.5"/>
<rect x="66.3" y="879.5" width="78.7" height="28.5" fill="#e9e9e9" opacity="0.86"/>
<rect x="232.4" y="837.5" width="80.6" height="29.4" fill="#e6e6e6" opacity="0.8"/>
<rect x="441.0" y="837.7" width="81.2" height="29.8" fill="#e6e6e6" opacity="0.8"/>
<rect x="568.1" y="837.7" width="75.0" height="28.6" fill="#e6e6e6" opacity="0.8"/>
<line x1="241.10" y1="832.50" x2="243.27" y2="830.60" stroke="#2020b0" stroke-width="2.0"/><line x1="243.27" y1="830.60" x2="245.45" y2="828.70" stroke="#86d020" stroke-width="2.0"/><line x1="241.10" y1="832.50" x2="246.39" y2="833.90" stroke="#2020b0" stroke-width="2.0"/><line x1="246.39" y1="833.90" x2="251.69" y2="835.30" stroke="#86d020" stroke-width="2.0"/><line x1="255.60" y1="832.50" x2="250.52" y2="830.60" stroke="#2020b0" stroke-width="2.0"/><line x1="250.52" y1="830.60" x2="245.45" y2="828.70" stroke="#86d020" stroke-width="2.0"/><line x1="255.60" y1="832.50" x2="253.64" y2="833.90" stroke="#2020b0" stroke-width="2.0"/><line x1="253.64" y1="833.90" x2="251.69" y2="835.30" stroke="#86d020" stroke-width="2.0"/><line x1="255.60" y1="832.50" x2="257.77" y2="830.60" stroke="#2020b0" stroke-width="2.0"/><line x1="257.77" y1="830.60" x2="259.95" y2="828.70" stroke="#86d020" stroke-width="2.0"/><line x1="255.60" y1="832.50" x2="260.89" y2="833.90" stroke="#2020b0" stroke-width="2.0"/><line x1="260.89" y1="833.90" x2="266.19" y2="835.30" stroke="#86d020" stroke-width="2.0"/><line x1="270.10" y1="832.50" x2="265.02" y2="830.60" stroke="#2020b0" stroke-width="2.0"/><line x1="265.02" y1="830.60" x2="259.95" y2="828.70" stroke="#86d020" stroke-width="2.0"/><line x1="270.10" y1="832.50" x2="268.14" y2="833.90" stroke="#2020b0" stroke-width="2.0"/><line x1="268.14" y1="833.90" x2="266.19" y2="835.30" stroke="#86d020" stroke-width="2.0"/><line x1="270.10" y1="832.50" x2="272.28" y2="830.60" stroke="#2020b0" stroke-width="2.0"/><line x1="272.28" y1="830.60" x2="274.45" y2="828.70" stroke="#86d020" stroke-width="2.0"/><line x1="270.10" y1="832.50" x2="275.39" y2="833.90" stroke="#2020b0" stroke-width="2.0"/><line x1="275.39" y1="833.90" x2="280.69" y2="835.30" stroke="#86d020" stroke-width="2.0"/><line x1="284.60" y1="832.50" x2="279.53" y2="830.60" stroke="#2020b0" stroke-width="2.0"/><line x1="279.53" y1="830.60" x2="274.45" y2="828.70" stroke="#86d020" stroke-width="2.0"/><line x1="284.60" y1="832.50" x2="282.64" y2="833.90" stroke="#2020b0" stroke-width="2.0"/><line x1="282.64" y1="833.90" x2="280.69" y2="835.30" stroke="#86d020" stroke-width="2.0"/><line x1="284.60" y1="832.50" x2="286.78" y2="830.60" stroke="#2020b0" stroke-width="2.0"/><line x1="286.78" y1="830.60" x2="288.95" y2="828.70" stroke="#86d020" stroke-width="2.0"/><line x1="284.60" y1="832.50" x2="289.89" y2="833.90" stroke="#2020b0" stroke-width="2.0"/><line x1="289.89" y1="833.90" x2="295.19" y2="835.30" stroke="#86d020" stroke-width="2.0"/><line x1="299.10" y1="832.50" x2="294.03" y2="830.60" stroke="#2020b0" stroke-width="2.0"/><line x1="294.03" y1="830.60" x2="288.95" y2="828.70" stroke="#86d020" stroke-width="2.0"/><line x1="299.10" y1="832.50" x2="297.14" y2="833.90" stroke="#2020b0" stroke-width="2.0"/><line x1="297.14" y1="833.90" x2="295.19" y2="835.30" stroke="#86d020" stroke-width="2.0"/><circle cx="241.10" cy="832.50" r="2.90" fill="url(#gCo)"/><circle cx="255.60" cy="832.50" r="2.90" fill="url(#gCo)"/><circle cx="270.10" cy="832.50" r="2.90" fill="url(#gCo)"/><circle cx="284.60" cy="832.50" r="2.90" fill="url(#gCo)"/><circle cx="299.10" cy="832.50" r="2.90" fill="url(#gCo)"/><circle cx="245.45" cy="828.70" r="2.60" fill="url(#gSe)"/><circle cx="251.69" cy="835.30" r="2.60" fill="url(#gSe)"/><circle cx="259.95" cy="828.70" r="2.60" fill="url(#gSe)"/><circle cx="266.19" cy="835.30" r="2.60" fill="url(#gSe)"/><circle cx="274.45" cy="828.70" r="2.60" fill="url(#gSe)"/><circle cx="280.69" cy="835.30" r="2.60" fill="url(#gSe)"/><circle cx="288.95" cy="828.70" r="2.60" fill="url(#gSe)"/><circle cx="295.19" cy="835.30" r="2.60" fill="url(#gSe)"/>
<line x1="572.50" y1="834.40" x2="574.67" y2="832.50" stroke="#2020b0" stroke-width="2.0"/><line x1="574.67" y1="832.50" x2="576.85" y2="830.60" stroke="#86d020" stroke-width="2.0"/><line x1="572.50" y1="834.40" x2="577.79" y2="835.80" stroke="#2020b0" stroke-width="2.0"/><line x1="577.79" y1="835.80" x2="583.09" y2="837.20" stroke="#86d020" stroke-width="2.0"/><line x1="587.00" y1="834.40" x2="581.92" y2="832.50" stroke="#2020b0" stroke-width="2.0"/><line x1="581.92" y1="832.50" x2="576.85" y2="830.60" stroke="#86d020" stroke-width="2.0"/><line x1="587.00" y1="834.40" x2="585.04" y2="835.80" stroke="#2020b0" stroke-width="2.0"/><line x1="585.04" y1="835.80" x2="583.09" y2="837.20" stroke="#86d020" stroke-width="2.0"/><line x1="587.00" y1="834.40" x2="589.17" y2="832.50" stroke="#2020b0" stroke-width="2.0"/><line x1="589.17" y1="832.50" x2="591.35" y2="830.60" stroke="#86d020" stroke-width="2.0"/><line x1="587.00" y1="834.40" x2="592.29" y2="835.80" stroke="#2020b0" stroke-width="2.0"/><line x1="592.29" y1="835.80" x2="597.59" y2="837.20" stroke="#86d020" stroke-width="2.0"/><line x1="601.50" y1="834.40" x2="596.42" y2="832.50" stroke="#2020b0" stroke-width="2.0"/><line x1="596.42" y1="832.50" x2="591.35" y2="830.60" stroke="#86d020" stroke-width="2.0"/><line x1="601.50" y1="834.40" x2="599.54" y2="835.80" stroke="#2020b0" stroke-width="2.0"/><line x1="599.54" y1="835.80" x2="597.59" y2="837.20" stroke="#86d020" stroke-width="2.0"/><line x1="601.50" y1="834.40" x2="603.67" y2="832.50" stroke="#2020b0" stroke-width="2.0"/><line x1="603.67" y1="832.50" x2="605.85" y2="830.60" stroke="#86d020" stroke-width="2.0"/><line x1="601.50" y1="834.40" x2="606.79" y2="835.80" stroke="#2020b0" stroke-width="2.0"/><line x1="606.79" y1="835.80" x2="612.09" y2="837.20" stroke="#86d020" stroke-width="2.0"/><line x1="616.00" y1="834.40" x2="610.92" y2="832.50" stroke="#2020b0" stroke-width="2.0"/><line x1="610.92" y1="832.50" x2="605.85" y2="830.60" stroke="#86d020" stroke-width="2.0"/><line x1="616.00" y1="834.40" x2="614.04" y2="835.80" stroke="#2020b0" stroke-width="2.0"/><line x1="614.04" y1="835.80" x2="612.09" y2="837.20" stroke="#86d020" stroke-width="2.0"/><line x1="616.00" y1="834.40" x2="618.17" y2="832.50" stroke="#2020b0" stroke-width="2.0"/><line x1="618.17" y1="832.50" x2="620.35" y2="830.60" stroke="#86d020" stroke-width="2.0"/><line x1="616.00" y1="834.40" x2="621.29" y2="835.80" stroke="#2020b0" stroke-width="2.0"/><line x1="621.29" y1="835.80" x2="626.59" y2="837.20" stroke="#86d020" stroke-width="2.0"/><line x1="630.50" y1="834.40" x2="625.42" y2="832.50" stroke="#2020b0" stroke-width="2.0"/><line x1="625.42" y1="832.50" x2="620.35" y2="830.60" stroke="#86d020" stroke-width="2.0"/><line x1="630.50" y1="834.40" x2="628.54" y2="835.80" stroke="#2020b0" stroke-width="2.0"/><line x1="628.54" y1="835.80" x2="626.59" y2="837.20" stroke="#86d020" stroke-width="2.0"/><circle cx="572.50" cy="834.40" r="2.90" fill="url(#gCo)"/><circle cx="587.00" cy="834.40" r="2.90" fill="url(#gCo)"/><circle cx="601.50" cy="834.40" r="2.90" fill="url(#gCo)"/><circle cx="616.00" cy="834.40" r="2.90" fill="url(#gCo)"/><circle cx="630.50" cy="834.40" r="2.90" fill="url(#gCo)"/><circle cx="576.85" cy="830.60" r="2.60" fill="url(#gSe)"/><circle cx="583.09" cy="837.20" r="2.60" fill="url(#gSe)"/><circle cx="591.35" cy="830.60" r="2.60" fill="url(#gSe)"/><circle cx="597.59" cy="837.20" r="2.60" fill="url(#gSe)"/><circle cx="605.85" cy="830.60" r="2.60" fill="url(#gSe)"/><circle cx="612.09" cy="837.20" r="2.60" fill="url(#gSe)"/><circle cx="620.35" cy="830.60" r="2.60" fill="url(#gSe)"/><circle cx="626.59" cy="837.20" r="2.60" fill="url(#gSe)"/>
<line x1="446.00" y1="831.90" x2="449.85" y2="831.90" stroke="#86d020" stroke-width="2.0"/><line x1="449.85" y1="831.90" x2="453.69" y2="831.90" stroke="#86d020" stroke-width="2.0"/><line x1="453.69" y1="831.90" x2="459.04" y2="831.90" stroke="#86d020" stroke-width="2.0"/><line x1="459.04" y1="831.90" x2="464.38" y2="831.90" stroke="#2020b0" stroke-width="2.0"/><line x1="474.50" y1="831.90" x2="478.35" y2="831.90" stroke="#86d020" stroke-width="2.0"/><line x1="478.35" y1="831.90" x2="482.19" y2="831.90" stroke="#86d020" stroke-width="2.0"/><line x1="474.50" y1="831.90" x2="469.44" y2="831.90" stroke="#86d020" stroke-width="2.0"/><line x1="469.44" y1="831.90" x2="464.38" y2="831.90" stroke="#2020b0" stroke-width="2.0"/><line x1="482.19" y1="831.90" x2="487.54" y2="831.90" stroke="#86d020" stroke-width="2.0"/><line x1="487.54" y1="831.90" x2="492.88" y2="831.90" stroke="#2020b0" stroke-width="2.0"/><line x1="503.00" y1="831.90" x2="506.85" y2="831.90" stroke="#86d020" stroke-width="2.0"/><line x1="506.85" y1="831.90" x2="510.69" y2="831.90" stroke="#86d020" stroke-width="2.0"/><line x1="503.00" y1="831.90" x2="497.94" y2="831.90" stroke="#86d020" stroke-width="2.0"/><line x1="497.94" y1="831.90" x2="492.88" y2="831.90" stroke="#2020b0" stroke-width="2.0"/><circle cx="446.00" cy="831.90" r="2.70" fill="url(#gSe)"/><circle cx="453.69" cy="831.90" r="2.70" fill="url(#gSe)"/><circle cx="474.50" cy="831.90" r="2.70" fill="url(#gSe)"/><circle cx="482.19" cy="831.90" r="2.70" fill="url(#gSe)"/><circle cx="503.00" cy="831.90" r="2.70" fill="url(#gSe)"/><circle cx="510.69" cy="831.90" r="2.70" fill="url(#gSe)"/><circle cx="464.38" cy="831.90" r="3.00" fill="url(#gCo)"/><circle cx="492.88" cy="831.90" r="3.00" fill="url(#gCo)"/>
<line x1="446.00" y1="867.00" x2="449.85" y2="867.00" stroke="#86d020" stroke-width="1.6" opacity="0.9"/><line x1="449.85" y1="867.00" x2="453.69" y2="867.00" stroke="#86d020" stroke-width="1.6" opacity="0.9"/><line x1="453.69" y1="867.00" x2="459.04" y2="867.00" stroke="#86d020" stroke-width="1.6" opacity="0.9"/><line x1="459.04" y1="867.00" x2="464.38" y2="867.00" stroke="#2020b0" stroke-width="1.6" opacity="0.9"/><line x1="474.50" y1="867.00" x2="478.35" y2="867.00" stroke="#86d020" stroke-width="1.6" opacity="0.9"/><line x1="478.35" y1="867.00" x2="482.19" y2="867.00" stroke="#86d020" stroke-width="1.6" opacity="0.9"/><line x1="474.50" y1="867.00" x2="469.44" y2="867.00" stroke="#86d020" stroke-width="1.6" opacity="0.9"/><line x1="469.44" y1="867.00" x2="464.38" y2="867.00" stroke="#2020b0" stroke-width="1.6" opacity="0.9"/><line x1="482.19" y1="867.00" x2="487.54" y2="867.00" stroke="#86d020" stroke-width="1.6" opacity="0.9"/><line x1="487.54" y1="867.00" x2="492.88" y2="867.00" stroke="#2020b0" stroke-width="1.6" opacity="0.9"/><line x1="503.00" y1="867.00" x2="506.85" y2="867.00" stroke="#86d020" stroke-width="1.6" opacity="0.9"/><line x1="506.85" y1="867.00" x2="510.69" y2="867.00" stroke="#86d020" stroke-width="1.6" opacity="0.9"/><line x1="503.00" y1="867.00" x2="497.94" y2="867.00" stroke="#86d020" stroke-width="1.6" opacity="0.9"/><line x1="497.94" y1="867.00" x2="492.88" y2="867.00" stroke="#2020b0" stroke-width="1.6" opacity="0.9"/><circle cx="446.00" cy="867.00" r="2.30" fill="url(#gSe)" opacity="0.9"/><circle cx="453.69" cy="867.00" r="2.30" fill="url(#gSe)" opacity="0.9"/><circle cx="474.50" cy="867.00" r="2.30" fill="url(#gSe)" opacity="0.9"/><circle cx="482.19" cy="867.00" r="2.30" fill="url(#gSe)" opacity="0.9"/><circle cx="503.00" cy="867.00" r="2.30" fill="url(#gSe)" opacity="0.9"/><circle cx="510.69" cy="867.00" r="2.30" fill="url(#gSe)" opacity="0.9"/><circle cx="464.38" cy="867.00" r="2.60" fill="url(#gCo)" opacity="0.9"/><circle cx="492.88" cy="867.00" r="2.60" fill="url(#gCo)" opacity="0.9"/>
<text x="76.30" y="900.00" font-size="17.5" font-weight="bold" fill="#111" text-anchor="start" textLength="55.00" lengthAdjust="spacingAndGlyphs" >Ti<tspan font-size="12.60" dy="4.90">3</tspan><tspan dy="-4.90">C</tspan><tspan font-size="12.60" dy="4.90">2</tspan><tspan dy="-4.90">O</tspan><tspan font-size="12.60" dy="4.90">2</tspan></text>
<text x="242.40" y="858.10" font-size="17.5" font-weight="bold" fill="#111" text-anchor="start" textLength="61.20" lengthAdjust="spacingAndGlyphs" >C-CoSe<tspan font-size="12.60" dy="4.90">2</tspan></text>
<text x="450.40" y="857.50" font-size="17.5" font-weight="bold" fill="#111" text-anchor="start" textLength="63.70" lengthAdjust="spacingAndGlyphs" >O-CoSe<tspan font-size="12.60" dy="4.90">2</tspan></text>
<text x="575.00" y="857.50" font-size="17.5" font-weight="bold" fill="#111" text-anchor="start" textLength="61.20" lengthAdjust="spacingAndGlyphs" >C-CoSe<tspan font-size="12.60" dy="4.90">2</tspan></text>
<path d="M88.8,799.6 C130.3,828.5 195.5,814.3 201.8,761.8" fill="none" stroke="#3b5676" stroke-width="2.6" stroke-dasharray="8 5.2"/>
<path d="M202.3,757.8 L205.1,766.2 L201.6,763.6 L197.6,765.3Z" fill="#3b5676" stroke="#3b5676" stroke-width="0.8" stroke-linejoin="round"/>
<path d="M207.0,766.0 C224.3,792.9 327.1,798.8 334.1,761.4" fill="none" stroke="#3b5676" stroke-width="2.6" stroke-dasharray="8 5.2"/>
<path d="M334.8,757.5 L337.1,766.1 L333.7,763.2 L329.6,764.7Z" fill="#3b5676" stroke="#3b5676" stroke-width="0.8" stroke-linejoin="round"/>
<path d="M337.0,767.5 C361.6,816.3 424.9,804.1 428.7,760.0" fill="none" stroke="#3b5676" stroke-width="2.6" stroke-dasharray="8 5.2"/>
<path d="M429.0,756.0 L432.1,764.3 L428.5,761.8 L424.5,763.6Z" fill="#3b5676" stroke="#3b5676" stroke-width="0.8" stroke-linejoin="round"/>
<path d="M431.5,768.0 C451.0,811.4 517.5,814.1 536.9,777.3" fill="none" stroke="#3b5676" stroke-width="2.6" stroke-dasharray="8 5.2"/>
<path d="M538.8,773.8 L538.4,782.6 L536.1,778.9 L531.7,779.1Z" fill="#3b5676" stroke="#3b5676" stroke-width="0.8" stroke-linejoin="round"/>
<path d="M544.9,788.1 C567.0,816.0 630.1,817.0 652.2,796.0" fill="none" stroke="#3b5676" stroke-width="2.6" stroke-dasharray="8 5.2"/>
<path d="M655.1,793.2 L651.9,801.5 L650.9,797.2 L646.7,796.0Z" fill="#3b5676" stroke="#3b5676" stroke-width="0.8" stroke-linejoin="round"/>
<polygon points="103.50,784.06 95.33,792.07 83.77,792.07 75.60,784.06 75.60,772.74 83.77,764.73 95.33,764.73 103.50,772.74" fill="none" stroke="#e6de1a" stroke-width="1.6"/>
<circle cx="103.50" cy="784.06" r="2.70" fill="url(#gS)"/>
<circle cx="95.33" cy="792.07" r="2.70" fill="url(#gS)"/>
<circle cx="83.77" cy="792.07" r="2.70" fill="url(#gS)"/>
<circle cx="75.60" cy="784.06" r="2.70" fill="url(#gS)"/>
<circle cx="75.60" cy="772.74" r="2.70" fill="url(#gS)"/>
<circle cx="83.77" cy="764.73" r="2.70" fill="url(#gS)"/>
<circle cx="95.33" cy="764.73" r="2.70" fill="url(#gS)"/>
<circle cx="103.50" cy="772.74" r="2.70" fill="url(#gS)"/>
<polyline points="194.20,747.50 192.50,739.20 192.50,730.00 202.10,724.60 207.90,726.70 217.10,731.70 216.25,742.10 214.60,748.30" fill="none" stroke="#e6de1a" stroke-width="1.6"/>
<circle cx="194.20" cy="747.50" r="2.50" fill="url(#gS)"/>
<circle cx="192.50" cy="739.20" r="2.50" fill="url(#gS)"/>
<circle cx="192.50" cy="730.00" r="2.50" fill="url(#gS)"/>
<circle cx="202.10" cy="724.60" r="2.50" fill="url(#gS)"/>
<circle cx="207.90" cy="726.70" r="2.50" fill="url(#gS)"/>
<circle cx="217.10" cy="731.70" r="2.50" fill="url(#gS)"/>
<circle cx="216.25" cy="742.10" r="2.50" fill="url(#gS)"/>
<circle cx="214.60" cy="748.30" r="2.50" fill="url(#gS)"/>
<polyline points="194.2,747.5 204.2,746.7 214.6,748.3" fill="none" stroke="#7ad090" stroke-width="1.2"/>
<line x1="192.5" y1="739.2" x2="204.2" y2="746.7" stroke="#7ad090" stroke-width="1.0"/>
<circle cx="204.20" cy="746.70" r="3.90" fill="url(#gLi)"/>
<polyline points="324.20,742.90 325.80,732.10 328.75,726.25 340.80,726.25 343.75,735.80 345.00,744.60" fill="none" stroke="#e6de1a" stroke-width="1.6"/>
<circle cx="324.20" cy="742.90" r="2.50" fill="url(#gS)"/>
<circle cx="325.80" cy="732.10" r="2.50" fill="url(#gS)"/>
<circle cx="328.75" cy="726.25" r="2.50" fill="url(#gS)"/>
<circle cx="340.80" cy="726.25" r="2.50" fill="url(#gS)"/>
<circle cx="343.75" cy="735.80" r="2.50" fill="url(#gS)"/>
<circle cx="345.00" cy="744.60" r="2.50" fill="url(#gS)"/>
<polyline points="324.2,742.9 332.5,744.2 345,744.6" fill="none" stroke="#e6de1a" stroke-width="1.2"/>
<line x1="325.8" y1="732.1" x2="336.7" y2="740.4" stroke="#7ad090" stroke-width="1.2"/>
<circle cx="336.70" cy="740.40" r="3.50" fill="url(#gLi)"/>
<circle cx="332.50" cy="744.20" r="3.60" fill="url(#gLi)"/>
<polyline points="417.1,742.5 422.1,732.5 435,732.5 440,743.3" fill="none" stroke="#e6de1a" stroke-width="1.6"/>
<polyline points="422.1,732.5 425.8,746.7" fill="none" stroke="#e6de1a" stroke-width="1.2"/>
<polyline points="435,732.5 431.7,743.3" fill="none" stroke="#e6de1a" stroke-width="1.2"/>
<polyline points="417.1,742.5 425.8,746.7 431.7,743.3 440,743.3" fill="none" stroke="#e6de1a" stroke-width="1.2"/>
<circle cx="422.10" cy="732.50" r="2.70" fill="url(#gS)"/>
<circle cx="435.00" cy="732.50" r="2.70" fill="url(#gS)"/>
<circle cx="417.10" cy="742.50" r="2.70" fill="url(#gS)"/>
<circle cx="440.00" cy="743.30" r="2.70" fill="url(#gS)"/>
<circle cx="431.70" cy="743.30" r="3.80" fill="url(#gLi)"/>
<circle cx="425.80" cy="746.70" r="4.00" fill="url(#gLi)"/>
<line x1="535.4" y1="753.75" x2="550.4" y2="755" stroke="#e6de1a" stroke-width="1.8"/>
<circle cx="547.10" cy="760.00" r="3.80" fill="url(#gLi)"/>
<circle cx="539.20" cy="763.30" r="4.00" fill="url(#gLi)"/>
<circle cx="535.40" cy="753.75" r="3.00" fill="url(#gS)"/>
<circle cx="550.40" cy="755.00" r="3.00" fill="url(#gS)"/>
<polyline points="649.8,780 656.7,771.7 664.8,777.1" fill="none" stroke="#c8d840" stroke-width="1.8"/>
<circle cx="656.70" cy="771.70" r="3.00" fill="url(#gS)"/>
<circle cx="649.80" cy="780.00" r="4.20" fill="url(#gLi)"/>
<circle cx="664.80" cy="777.10" r="4.20" fill="url(#gLi)"/>
<line x1="130" y1="847" x2="155" y2="847" stroke="#e6de1a" stroke-width="1.6"/>
<circle cx="130.00" cy="844.00" r="2.40" fill="url(#gS)"/>
<circle cx="130.00" cy="850.50" r="2.40" fill="url(#gS)"/>
<circle cx="137.00" cy="844.50" r="2.40" fill="url(#gS)"/>
<circle cx="137.00" cy="850.50" r="2.40" fill="url(#gS)"/>
<circle cx="147.00" cy="844.50" r="2.40" fill="url(#gS)"/>
<circle cx="147.00" cy="850.50" r="2.40" fill="url(#gS)"/>
<circle cx="154.50" cy="844.00" r="2.40" fill="url(#gS)"/>
<circle cx="154.50" cy="850.50" r="2.40" fill="url(#gS)"/>
<polyline points="272.00,820.00 266.00,812.00 266.00,804.00 273.00,800.00 282.00,800.00 290.00,803.00 293.00,810.00 291.00,818.00 287.00,821.00" fill="none" stroke="#e6de1a" stroke-width="1.6"/>
<circle cx="272.00" cy="820.00" r="2.50" fill="url(#gS)"/>
<circle cx="266.00" cy="812.00" r="2.50" fill="url(#gS)"/>
<circle cx="266.00" cy="804.00" r="2.50" fill="url(#gS)"/>
<circle cx="273.00" cy="800.00" r="2.50" fill="url(#gS)"/>
<circle cx="282.00" cy="800.00" r="2.50" fill="url(#gS)"/>
<circle cx="290.00" cy="803.00" r="2.50" fill="url(#gS)"/>
<circle cx="293.00" cy="810.00" r="2.50" fill="url(#gS)"/>
<circle cx="291.00" cy="818.00" r="2.50" fill="url(#gS)"/>
<circle cx="287.00" cy="821.00" r="2.50" fill="url(#gS)"/>
<line x1="276.1" y1="818" x2="274" y2="832" stroke="#5cc880" stroke-width="1.2"/>
<line x1="284.9" y1="820" x2="288" y2="832" stroke="#5cc880" stroke-width="1.2"/>
<circle cx="276.10" cy="818.10" r="3.40" fill="url(#gLi)"/>
<circle cx="284.90" cy="820.00" r="3.40" fill="url(#gLi)"/>
<polyline points="366.00,846.00 363.00,838.00 368.00,830.00 377.00,829.00 384.00,831.00 386.00,840.00 383.00,848.00" fill="none" stroke="#e6de1a" stroke-width="1.6"/>
<circle cx="366.00" cy="846.00" r="2.60" fill="url(#gS)"/>
<circle cx="363.00" cy="838.00" r="2.60" fill="url(#gS)"/>
<circle cx="368.00" cy="830.00" r="2.60" fill="url(#gS)"/>
<circle cx="377.00" cy="829.00" r="2.60" fill="url(#gS)"/>
<circle cx="384.00" cy="831.00" r="2.60" fill="url(#gS)"/>
<circle cx="386.00" cy="840.00" r="2.60" fill="url(#gS)"/>
<circle cx="383.00" cy="848.00" r="2.60" fill="url(#gS)"/>
<line x1="366" y1="846" x2="383" y2="848" stroke="#e6de1a" stroke-width="1.3"/>
<line x1="367.5" y1="858.7" x2="366" y2="846" stroke="#5cc880" stroke-width="1.4"/>
<line x1="383.7" y1="858.7" x2="383" y2="848" stroke="#5cc880" stroke-width="1.4"/>
<circle cx="367.50" cy="858.70" r="3.50" fill="url(#gLi)"/>
<circle cx="383.70" cy="858.70" r="3.50" fill="url(#gLi)"/>
<circle cx="488.00" cy="815.00" r="2.60" fill="url(#gS)"/>
<circle cx="495.00" cy="815.00" r="2.60" fill="url(#gS)"/>
<circle cx="489.00" cy="821.50" r="2.60" fill="url(#gS)"/>
<circle cx="495.50" cy="821.50" r="2.60" fill="url(#gS)"/>
<line x1="482" y1="824" x2="475" y2="832" stroke="#5cc880" stroke-width="1.3"/>
<line x1="502.3" y1="824" x2="509" y2="832" stroke="#5cc880" stroke-width="1.3"/>
<circle cx="482.00" cy="824.00" r="3.60" fill="url(#gLi)"/>
<circle cx="502.30" cy="824.00" r="3.60" fill="url(#gLi)"/>
<polyline points="603.1,819.8 604,827 614,827 615,820.6" fill="none" stroke="#e6de1a" stroke-width="1.8"/>
<line x1="615" y1="820.6" x2="620" y2="830" stroke="#5cc880" stroke-width="1.2"/>
<circle cx="604.50" cy="826.50" r="2.20" fill="url(#gS)"/>
<circle cx="613.50" cy="826.50" r="2.20" fill="url(#gS)"/>
<circle cx="603.10" cy="819.80" r="3.50" fill="url(#gLi)"/>
<circle cx="615.00" cy="820.60" r="3.50" fill="url(#gLi)"/>
</svg></body></html>
